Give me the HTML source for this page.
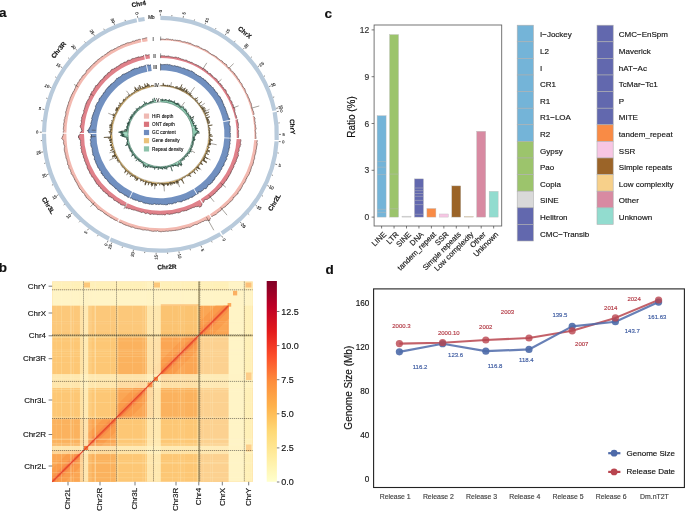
<!DOCTYPE html>
<html><head><meta charset="utf-8"><style>
html,body{margin:0;padding:0;background:#fff;width:685px;height:511px;overflow:hidden;}
svg{display:block;will-change:transform;}
text{font-family:"Liberation Sans",sans-serif;}
</style></head><body>
<svg width="685" height="511" viewBox="0 0 685 511">
<rect width="685" height="511" fill="#fff"/>
<g id="panelA">
<path d="M160.4 15.8A118.5 118.5 0 0 1 276.44 110.27L272.33 111.12A114.3 114.3 0 0 0 160.4 20Z" fill="#b8cadb"/>
<path d="M276.72 111.69A118.5 118.5 0 0 1 278.76 140.09L274.56 139.88A114.3 114.3 0 0 0 272.6 112.49Z" fill="#b8cadb"/>
<path d="M278.68 141.53A118.5 118.5 0 0 1 222.84 235.01L220.63 231.44A114.3 114.3 0 0 0 274.49 141.28Z" fill="#b8cadb"/>
<path d="M221.61 235.77A118.5 118.5 0 0 1 109.38 241.26L111.19 237.47A114.3 114.3 0 0 0 219.44 232.17Z" fill="#b8cadb"/>
<path d="M108.08 240.63A118.5 118.5 0 0 1 41.9 133.68L46.1 133.7A114.3 114.3 0 0 0 109.94 236.86Z" fill="#b8cadb"/>
<path d="M41.92 132.23A118.5 118.5 0 0 1 136.37 18.26L137.22 22.37A114.3 114.3 0 0 0 46.12 132.31Z" fill="#b8cadb"/>
<path d="M137.79 17.98A118.5 118.5 0 0 1 144.32 16.9L144.89 21.06A114.3 114.3 0 0 0 138.59 22.1Z" fill="#b8cadb"/>
<text x="160.4" y="11.1" font-size="4.2" fill="#111" text-anchor="middle" dominant-baseline="central" transform="rotate(-90 160.4 11.1)" stroke="#222" stroke-width="0.109">0</text>
<text x="184.01" y="13.38" font-size="4.2" fill="#111" text-anchor="middle" dominant-baseline="central" transform="rotate(-78.95 184.01 13.38)" stroke="#222" stroke-width="0.109">5</text>
<text x="206.75" y="20.15" font-size="4.2" fill="#111" text-anchor="middle" dominant-baseline="central" transform="rotate(-67.9 206.75 20.15)" stroke="#222" stroke-width="0.109">10</text>
<text x="227.77" y="31.15" font-size="4.2" fill="#111" text-anchor="middle" dominant-baseline="central" transform="rotate(-56.85 227.77 31.15)" stroke="#222" stroke-width="0.109">15</text>
<text x="246.29" y="45.98" font-size="4.2" fill="#111" text-anchor="middle" dominant-baseline="central" transform="rotate(-45.8 246.29 45.98)" stroke="#222" stroke-width="0.109">20</text>
<text x="261.63" y="64.08" font-size="4.2" fill="#111" text-anchor="middle" dominant-baseline="central" transform="rotate(-34.75 261.63 64.08)" stroke="#222" stroke-width="0.109">25</text>
<text x="273.21" y="84.78" font-size="4.2" fill="#111" text-anchor="middle" dominant-baseline="central" transform="rotate(-23.7 273.21 84.78)" stroke="#222" stroke-width="0.109">30</text>
<text x="280.61" y="107.32" font-size="4.2" fill="#111" text-anchor="middle" dominant-baseline="central" transform="rotate(-12.65 280.61 107.32)" stroke="#222" stroke-width="0.109">35</text>
<text x="281.34" y="110.79" font-size="4.2" fill="#111" text-anchor="middle" dominant-baseline="central" transform="rotate(-11 281.34 110.79)" stroke="#222" stroke-width="0.109">0</text>
<text x="283.6" y="134.41" font-size="4.2" fill="#111" text-anchor="middle" dominant-baseline="central" transform="rotate(0.05 283.6 134.41)" stroke="#222" stroke-width="0.109">5</text>
<text x="283.37" y="141.82" font-size="4.2" fill="#111" text-anchor="middle" dominant-baseline="central" transform="rotate(3.5 283.37 141.82)" stroke="#222" stroke-width="0.109">0</text>
<text x="279.65" y="165.25" font-size="4.2" fill="#111" text-anchor="middle" dominant-baseline="central" transform="rotate(14.55 279.65 165.25)" stroke="#222" stroke-width="0.109">5</text>
<text x="271.51" y="187.53" font-size="4.2" fill="#111" text-anchor="middle" dominant-baseline="central" transform="rotate(25.6 271.51 187.53)" stroke="#222" stroke-width="0.109">10</text>
<text x="259.24" y="207.84" font-size="4.2" fill="#111" text-anchor="middle" dominant-baseline="central" transform="rotate(36.65 259.24 207.84)" stroke="#222" stroke-width="0.109">15</text>
<text x="243.32" y="225.42" font-size="4.2" fill="#111" text-anchor="middle" dominant-baseline="central" transform="rotate(47.7 243.32 225.42)" stroke="#222" stroke-width="0.109">20</text>
<text x="224.04" y="239.79" font-size="4.2" fill="#111" text-anchor="middle" dominant-baseline="central" transform="rotate(58.9 224.04 239.79)" stroke="#222" stroke-width="0.109">0</text>
<text x="202.64" y="250.03" font-size="4.2" fill="#111" text-anchor="middle" dominant-baseline="central" transform="rotate(69.95 202.64 250.03)" stroke="#222" stroke-width="0.109">5</text>
<text x="179.67" y="255.98" font-size="4.2" fill="#111" text-anchor="middle" dominant-baseline="central" transform="rotate(81 179.67 255.98)" stroke="#222" stroke-width="0.109">10</text>
<text x="155.99" y="257.42" font-size="4.2" fill="#111" text-anchor="middle" dominant-baseline="central" transform="rotate(272.05 155.99 257.42)" stroke="#222" stroke-width="0.109">15</text>
<text x="132.48" y="254.29" font-size="4.2" fill="#111" text-anchor="middle" dominant-baseline="central" transform="rotate(283.1 132.48 254.29)" stroke="#222" stroke-width="0.109">20</text>
<text x="110" y="246.72" font-size="4.2" fill="#111" text-anchor="middle" dominant-baseline="central" transform="rotate(294.15 110 246.72)" stroke="#222" stroke-width="0.109">25</text>
<text x="106.01" y="244.84" font-size="4.2" fill="#111" text-anchor="middle" dominant-baseline="central" transform="rotate(296.2 106.01 244.84)" stroke="#222" stroke-width="0.109">0</text>
<text x="85.83" y="232.37" font-size="4.2" fill="#111" text-anchor="middle" dominant-baseline="central" transform="rotate(307.25 85.83 232.37)" stroke="#222" stroke-width="0.109">5</text>
<text x="68.41" y="216.26" font-size="4.2" fill="#111" text-anchor="middle" dominant-baseline="central" transform="rotate(318.3 68.41 216.26)" stroke="#222" stroke-width="0.109">10</text>
<text x="54.41" y="197.11" font-size="4.2" fill="#111" text-anchor="middle" dominant-baseline="central" transform="rotate(329.35 54.41 197.11)" stroke="#222" stroke-width="0.109">15</text>
<text x="44.34" y="175.63" font-size="4.2" fill="#111" text-anchor="middle" dominant-baseline="central" transform="rotate(340.4 44.34 175.63)" stroke="#222" stroke-width="0.109">20</text>
<text x="38.57" y="152.62" font-size="4.2" fill="#111" text-anchor="middle" dominant-baseline="central" transform="rotate(351.45 38.57 152.62)" stroke="#222" stroke-width="0.109">25</text>
<text x="37.22" y="132.15" font-size="4.2" fill="#111" text-anchor="middle" dominant-baseline="central" transform="rotate(361 37.22 132.15)" stroke="#222" stroke-width="0.109">0</text>
<text x="39.91" y="108.58" font-size="4.2" fill="#111" text-anchor="middle" dominant-baseline="central" transform="rotate(372.05 39.91 108.58)" stroke="#222" stroke-width="0.109">5</text>
<text x="47.08" y="85.96" font-size="4.2" fill="#111" text-anchor="middle" dominant-baseline="central" transform="rotate(383.1 47.08 85.96)" stroke="#222" stroke-width="0.109">10</text>
<text x="58.44" y="65.14" font-size="4.2" fill="#111" text-anchor="middle" dominant-baseline="central" transform="rotate(394.15 58.44 65.14)" stroke="#222" stroke-width="0.109">15</text>
<text x="73.59" y="46.88" font-size="4.2" fill="#111" text-anchor="middle" dominant-baseline="central" transform="rotate(405.2 73.59 46.88)" stroke="#222" stroke-width="0.109">20</text>
<text x="91.95" y="31.86" font-size="4.2" fill="#111" text-anchor="middle" dominant-baseline="central" transform="rotate(416.25 91.95 31.86)" stroke="#222" stroke-width="0.109">25</text>
<text x="112.86" y="20.64" font-size="4.2" fill="#111" text-anchor="middle" dominant-baseline="central" transform="rotate(427.3 112.86 20.64)" stroke="#222" stroke-width="0.109">30</text>
<text x="136.89" y="13.36" font-size="4.2" fill="#111" text-anchor="middle" dominant-baseline="central" transform="rotate(439 136.89 13.36)" stroke="#222" stroke-width="0.109">0</text>
<path d="M160.4 15.7L160.4 13.7M171.82 16.25L171.93 15.06M183.13 17.9L183.51 15.94M194.23 20.63L194.58 19.48M205.02 24.41L205.77 22.56M215.39 29.22L215.95 28.16M225.25 35L226.35 33.33M234.51 41.71L235.26 40.77M243.08 49.27L244.48 47.84M250.89 57.63L251.8 56.85M257.85 66.7L259.49 65.56M263.9 76.39L264.95 75.81M269 86.63L270.83 85.83M273.08 97.31L274.22 96.93M276.12 108.33L278.07 107.89M276.82 111.67L278.78 111.29M278.46 122.98L279.65 122.87M279 134.4L281 134.41M278.78 141.54L280.78 141.66M277.53 152.9L278.72 153.09M275.2 164.1L277.13 164.6M271.79 175.01L272.92 175.42M267.36 185.55L269.16 186.41M261.93 195.61L262.95 196.23M255.55 205.1L257.16 206.29M248.29 213.93L249.18 214.73M240.22 222.02L241.57 223.5M231.4 229.3L232.12 230.26M221.66 235.85L222.69 237.57M211.6 241.28L212.12 242.36M201.06 245.71L201.75 247.59M190.15 249.11L190.45 250.27M178.95 251.44L179.27 253.42M167.59 252.68L167.66 253.88M156.16 252.82L156.09 254.82M144.77 251.86L144.61 253.05M133.52 249.81L133.07 251.76M122.52 246.69L122.14 247.83M111.88 242.52L111.06 244.34M108.04 240.71L107.15 242.51M98.04 235.18L97.4 236.2M88.61 228.71L87.4 230.3M79.86 221.36L79.04 222.24M71.85 213.2L70.36 214.53M64.66 204.3L63.7 205.01M58.37 194.76L56.65 195.78M53.02 184.66L51.94 185.17M48.67 174.08L46.79 174.76M45.36 163.14L44.2 163.43M43.12 151.93L41.14 152.23M41.97 140.56L40.77 140.62M41.82 132.23L39.82 132.2M42.57 120.82L41.38 120.69M44.41 109.54L42.46 109.12M47.34 98.49L46.19 98.13M51.31 87.77L49.47 86.98M56.3 77.48L55.24 76.91M62.25 67.72L60.59 66.6M69.12 58.58L68.19 57.82M76.83 50.14L75.42 48.73M85.32 42.49L84.56 41.56M94.51 35.69L93.4 34.02M104.31 29.8L103.74 28.74M114.63 24.89L113.86 23.04M125.38 20.99L125.02 19.84M137.77 17.88L137.39 15.92" stroke="#333" stroke-width="0.6" fill="none"/>
<text x="244.95" y="32.28" font-size="6.4" font-weight="bold" fill="#111" text-anchor="middle" dominant-baseline="central" transform="rotate(39.65 244.95 32.28)" stroke="#111" stroke-width="0.16">ChrX</text>
<text x="292.68" y="126.67" font-size="6.4" font-weight="bold" fill="#111" text-anchor="middle" dominant-baseline="central" transform="rotate(86.7 292.68 126.67)" stroke="#111" stroke-width="0.16">ChrY</text>
<text x="274.15" y="202.24" font-size="6.4" font-weight="bold" fill="#111" text-anchor="middle" dominant-baseline="central" transform="rotate(-59.15 274.15 202.24)" stroke="#111" stroke-width="0.16">Chr2L</text>
<text x="166.87" y="266.64" font-size="6.4" font-weight="bold" fill="#111" text-anchor="middle" dominant-baseline="central" transform="rotate(-2.8 166.87 266.64)" stroke="#111" stroke-width="0.16">Chr2R</text>
<text x="48.59" y="205.39" font-size="6.4" font-weight="bold" fill="#111" text-anchor="middle" dominant-baseline="central" transform="rotate(57.55 48.59 205.39)" stroke="#111" stroke-width="0.16">Chr3L</text>
<text x="58.38" y="49.75" font-size="6.4" font-weight="bold" fill="#111" text-anchor="middle" dominant-baseline="central" transform="rotate(-50.35 58.38 49.75)" stroke="#111" stroke-width="0.16">Chr3R</text>
<text x="138.76" y="3.58" font-size="6.4" font-weight="bold" fill="#111" text-anchor="middle" dominant-baseline="central" transform="rotate(-9.4 138.76 3.58)" stroke="#111" stroke-width="0.16">Chr4</text>
<path d="M160.4 39.02L160.82 39.12L161.23 39.11L161.65 39.15L162.07 39.14L162.49 39.05L162.9 39.32L163.32 39.18L163.73 39.33L164.14 39.48L164.56 39.41L164.99 39.08L165.4 39.24L165.81 39.37L166.26 38.9L166.68 38.83L167.1 38.87L167.5 39.12L167.94 38.85L168.34 39.15L168.77 38.96L169.17 39.26L169.57 39.43L169.97 39.64L170.41 39.43L170.82 39.52L171.21 39.8L171.63 39.75L172.1 39.36L172.5 39.52L172.91 39.61L173.3 39.92L173.68 40.15L174.11 40.13L174.52 40.18L174.91 40.4L175.38 40.09L175.8 40.1L176.24 40.03L176.59 40.47L177.07 40.16L177.45 40.38L177.89 40.29L178.28 40.47L178.7 40.52L179.13 40.5L179.57 40.45L179.94 40.74L180.36 40.75L180.78 40.83L181.13 41.16L181.53 41.29L181.93 41.41L182.29 41.69L182.71 41.76L183.14 41.74L183.54 41.84L184.02 41.66L184.42 41.81L184.86 41.76L185.24 41.96L185.65 42.07L186.02 42.29L186.41 42.45L186.83 42.49L187.33 42.29L187.7 42.5L188.08 42.72L188.47 42.87L188.9 42.88L189.19 43.37L189.71 43.1L190.09 43.31L190.51 43.35L190.92 43.47L191.27 43.74L191.57 44.14L191.95 44.32L192.37 44.4L192.66 44.83L193.04 45L193.5 44.96L193.84 45.23L194.21 45.43L194.63 45.51L195.07 45.52L195.39 45.85L195.81 45.93L196.32 45.78L196.7 45.95L197.07 46.15L197.54 46.11L198.01 46.08L198.38 46.27L198.67 46.66L199.01 46.93L199.4 47.09L199.77 47.28L200.14 47.47L200.46 47.78L200.8 48.05L201.08 48.42L201.62 48.25L202.01 48.41L202.29 48.79L202.64 49.02L203.11 49.01L203.38 49.41L203.86 49.39L204.28 49.49L204.72 49.54L205.15 49.64L205.54 49.79L205.72 50.34L206.17 50.39L206.49 50.67L206.94 50.72L207.3 50.94L207.77 50.96L207.99 51.41L208.24 51.82L208.62 52.01L208.84 52.44L209.21 52.64L209.53 52.92L209.93 53.06L210.22 53.38L210.58 53.59L210.96 53.78L211.21 54.16L211.53 54.42L212.01 54.44L212.2 54.92L212.81 54.75L213.22 54.88L213.46 55.27L213.94 55.31L214.36 55.44L214.56 55.89L214.83 56.22L215.32 56.26L215.66 56.5L216.1 56.6L216.46 56.82L216.86 56.98L217.05 57.43L217.27 57.84L217.51 58.21L217.98 58.29L218.28 58.58L218.6 58.85L218.95 59.08L219.28 59.33L219.5 59.73L219.95 59.83L220.22 60.16L220.62 60.33L220.97 60.56L221.46 60.63L221.81 60.86L222.19 61.06L222.44 61.42L222.48 62.02L222.95 62.1L223.22 62.43L223.59 62.64L223.9 62.92L224.26 63.16L224.44 63.58L225 63.58L225.21 63.97L225.58 64.19L226.06 64.29L226.47 64.48L226.48 65.08L226.84 65.31L227.09 65.64L227.1 66.24L227.21 66.72L227.54 66.98L227.83 67.28L228.22 67.48L228.68 67.61L229.08 67.81L229.38 68.1L229.85 68.22L230.23 68.45L230.51 68.77L230.63 69.23L230.81 69.63L230.76 70.24L230.88 70.69L231.27 70.9L231.82 70.97L232.25 71.15L232.59 71.41L232.87 71.72L233.24 71.95L233.3 72.45L233.53 72.81L233.81 73.12L234.32 73.24L234.38 73.73L234.96 73.81L235.09 74.24L235.07 74.79L235.34 75.11L235.71 75.35L236.13 75.55L236.3 75.96L236.41 76.4L236.8 76.63L237.24 76.82L237.08 77.47L237.36 77.78L237.42 78.25L237.76 78.52L238.15 78.76L238.15 79.27L238.77 79.34L239.14 79.6L239.42 79.91L239.49 80.38L239.69 80.75L239.93 81.09L239.79 81.69L239.97 82.07L240.27 82.37L240.63 82.63L241.06 82.85L241.36 83.16L241.51 83.56L241.84 83.85L241.96 84.27L242.15 84.64L242.08 85.18L242.34 85.5L242.52 85.89L242.52 86.37L243.02 86.56L243.12 86.98L243.57 87.21L243.53 87.71L243.81 88.03L244.06 88.37L244.67 88.52L244.6 89.03L244.89 89.35L245.12 89.71L245.25 90.11L245.27 90.57L245.36 91L245.64 91.32L245.56 91.83L245.8 92.17L245.85 92.61L246.08 92.97L246.35 93.3L246.58 93.65L246.98 93.93L247.2 94.28L247.45 94.63L247.63 95.01L247.76 95.41L247.89 95.81L248.13 96.16L248.09 96.63L248.23 97.03L248.17 97.51L248.67 97.75L248.74 98.18L249.15 98.46L249.46 98.79L249.4 99.27L249.5 99.67L249.92 99.96L249.74 100.48L249.93 100.85L250.04 101.26L250.14 101.67L250.42 102.01L250.77 102.33L250.68 102.81L251.07 103.12L251.21 103.51L251.37 103.91L251.33 104.36L251.46 104.76L251.57 105.16L251.47 105.63L251.79 105.97L251.74 106.43L251.5 106.94L251.66 107.32L251.79 107.72L251.89 108.12L252.01 108.52L252.39 108.85L252.44 109.27L252.83 109.6L252.85 110.03L252.81 110.47L252.91 110.87L253.37 111.19L253.43 111.61L253.57 112.01L253.63 112.42L253.6 112.86L253.74 113.26L253.97 113.64L253.8 114.1L253.86 114.52L254.09 114.9L252.45 115.24A94 94 0 0 0 160.4 40.3Z" fill="#f3b9b0"/><path d="M160.4 39.02L160.82 39.12L161.23 39.11L161.65 39.15L162.07 39.14L162.49 39.05L162.9 39.32L163.32 39.18L163.73 39.33L164.14 39.48L164.56 39.41L164.99 39.08L165.4 39.24L165.81 39.37L166.26 38.9L166.68 38.83L167.1 38.87L167.5 39.12L167.94 38.85L168.34 39.15L168.77 38.96L169.17 39.26L169.57 39.43L169.97 39.64L170.41 39.43L170.82 39.52L171.21 39.8L171.63 39.75L172.1 39.36L172.5 39.52L172.91 39.61L173.3 39.92L173.68 40.15L174.11 40.13L174.52 40.18L174.91 40.4L175.38 40.09L175.8 40.1L176.24 40.03L176.59 40.47L177.07 40.16L177.45 40.38L177.89 40.29L178.28 40.47L178.7 40.52L179.13 40.5L179.57 40.45L179.94 40.74L180.36 40.75L180.78 40.83L181.13 41.16L181.53 41.29L181.93 41.41L182.29 41.69L182.71 41.76L183.14 41.74L183.54 41.84L184.02 41.66L184.42 41.81L184.86 41.76L185.24 41.96L185.65 42.07L186.02 42.29L186.41 42.45L186.83 42.49L187.33 42.29L187.7 42.5L188.08 42.72L188.47 42.87L188.9 42.88L189.19 43.37L189.71 43.1L190.09 43.31L190.51 43.35L190.92 43.47L191.27 43.74L191.57 44.14L191.95 44.32L192.37 44.4L192.66 44.83L193.04 45L193.5 44.96L193.84 45.23L194.21 45.43L194.63 45.51L195.07 45.52L195.39 45.85L195.81 45.93L196.32 45.78L196.7 45.95L197.07 46.15L197.54 46.11L198.01 46.08L198.38 46.27L198.67 46.66L199.01 46.93L199.4 47.09L199.77 47.28L200.14 47.47L200.46 47.78L200.8 48.05L201.08 48.42L201.62 48.25L202.01 48.41L202.29 48.79L202.64 49.02L203.11 49.01L203.38 49.41L203.86 49.39L204.28 49.49L204.72 49.54L205.15 49.64L205.54 49.79L205.72 50.34L206.17 50.39L206.49 50.67L206.94 50.72L207.3 50.94L207.77 50.96L207.99 51.41L208.24 51.82L208.62 52.01L208.84 52.44L209.21 52.64L209.53 52.92L209.93 53.06L210.22 53.38L210.58 53.59L210.96 53.78L211.21 54.16L211.53 54.42L212.01 54.44L212.2 54.92L212.81 54.75L213.22 54.88L213.46 55.27L213.94 55.31L214.36 55.44L214.56 55.89L214.83 56.22L215.32 56.26L215.66 56.5L216.1 56.6L216.46 56.82L216.86 56.98L217.05 57.43L217.27 57.84L217.51 58.21L217.98 58.29L218.28 58.58L218.6 58.85L218.95 59.08L219.28 59.33L219.5 59.73L219.95 59.83L220.22 60.16L220.62 60.33L220.97 60.56L221.46 60.63L221.81 60.86L222.19 61.06L222.44 61.42L222.48 62.02L222.95 62.1L223.22 62.43L223.59 62.64L223.9 62.92L224.26 63.16L224.44 63.58L225 63.58L225.21 63.97L225.58 64.19L226.06 64.29L226.47 64.48L226.48 65.08L226.84 65.31L227.09 65.64L227.1 66.24L227.21 66.72L227.54 66.98L227.83 67.28L228.22 67.48L228.68 67.61L229.08 67.81L229.38 68.1L229.85 68.22L230.23 68.45L230.51 68.77L230.63 69.23L230.81 69.63L230.76 70.24L230.88 70.69L231.27 70.9L231.82 70.97L232.25 71.15L232.59 71.41L232.87 71.72L233.24 71.95L233.3 72.45L233.53 72.81L233.81 73.12L234.32 73.24L234.38 73.73L234.96 73.81L235.09 74.24L235.07 74.79L235.34 75.11L235.71 75.35L236.13 75.55L236.3 75.96L236.41 76.4L236.8 76.63L237.24 76.82L237.08 77.47L237.36 77.78L237.42 78.25L237.76 78.52L238.15 78.76L238.15 79.27L238.77 79.34L239.14 79.6L239.42 79.91L239.49 80.38L239.69 80.75L239.93 81.09L239.79 81.69L239.97 82.07L240.27 82.37L240.63 82.63L241.06 82.85L241.36 83.16L241.51 83.56L241.84 83.85L241.96 84.27L242.15 84.64L242.08 85.18L242.34 85.5L242.52 85.89L242.52 86.37L243.02 86.56L243.12 86.98L243.57 87.21L243.53 87.71L243.81 88.03L244.06 88.37L244.67 88.52L244.6 89.03L244.89 89.35L245.12 89.71L245.25 90.11L245.27 90.57L245.36 91L245.64 91.32L245.56 91.83L245.8 92.17L245.85 92.61L246.08 92.97L246.35 93.3L246.58 93.65L246.98 93.93L247.2 94.28L247.45 94.63L247.63 95.01L247.76 95.41L247.89 95.81L248.13 96.16L248.09 96.63L248.23 97.03L248.17 97.51L248.67 97.75L248.74 98.18L249.15 98.46L249.46 98.79L249.4 99.27L249.5 99.67L249.92 99.96L249.74 100.48L249.93 100.85L250.04 101.26L250.14 101.67L250.42 102.01L250.77 102.33L250.68 102.81L251.07 103.12L251.21 103.51L251.37 103.91L251.33 104.36L251.46 104.76L251.57 105.16L251.47 105.63L251.79 105.97L251.74 106.43L251.5 106.94L251.66 107.32L251.79 107.72L251.89 108.12L252.01 108.52L252.39 108.85L252.44 109.27L252.83 109.6L252.85 110.03L252.81 110.47L252.91 110.87L253.37 111.19L253.43 111.61L253.57 112.01L253.63 112.42L253.6 112.86L253.74 113.26L253.97 113.64L253.8 114.1L253.86 114.52L254.09 114.9" fill="none" stroke="#3d2624" stroke-width="0.55" stroke-linejoin="round"/>
<path d="M253.57 116.19L253.94 116.55L254.14 116.95L254.55 117.3L254.45 117.75L255.02 118.09L255.01 118.53L254.72 119L254.66 119.45L254.93 119.84L254.92 120.27L254.58 120.75L254.68 121.16L255 121.55L255.06 121.97L255.24 122.37L255.24 122.8L255.02 123.26L255.01 123.69L255.09 124.11L255.25 124.52L255.49 124.92L255.47 125.35L255.71 125.76L255.46 126.21L255.6 126.62L255.63 127.05L255.76 127.46L255.92 127.88L256.1 128.3L256.02 128.73L255.9 129.17L255.6 129.61L255.42 130.04L255.23 130.47L255.53 130.89L255.47 131.31L255.49 131.74L255.59 132.16L255.72 132.58L256.13 133L255.91 133.43L255.8 133.86L255.62 134.28L255.71 134.71L255.82 135.13L255.66 135.56L255.77 135.98L255.75 136.41L255.99 136.84L255.99 137.27L255.96 137.69L255.86 138.12L255.88 138.54L255.85 138.97L254.29 138.89A94 94 0 0 0 252.67 116.36Z" fill="#f3b9b0"/><path d="M253.57 116.19L253.94 116.55L254.14 116.95L254.55 117.3L254.45 117.75L255.02 118.09L255.01 118.53L254.72 119L254.66 119.45L254.93 119.84L254.92 120.27L254.58 120.75L254.68 121.16L255 121.55L255.06 121.97L255.24 122.37L255.24 122.8L255.02 123.26L255.01 123.69L255.09 124.11L255.25 124.52L255.49 124.92L255.47 125.35L255.71 125.76L255.46 126.21L255.6 126.62L255.63 127.05L255.76 127.46L255.92 127.88L256.1 128.3L256.02 128.73L255.9 129.17L255.6 129.61L255.42 130.04L255.23 130.47L255.53 130.89L255.47 131.31L255.49 131.74L255.59 132.16L255.72 132.58L256.13 133L255.91 133.43L255.8 133.86L255.62 134.28L255.71 134.71L255.82 135.13L255.66 135.56L255.77 135.98L255.75 136.41L255.99 136.84L255.99 137.27L255.96 137.69L255.86 138.12L255.88 138.54L255.85 138.97" fill="none" stroke="#3d2624" stroke-width="0.55" stroke-linejoin="round"/>
<path d="M257.51 140.24L257.2 140.65L257.05 141.07L257.21 141.5L256.99 141.92L256.91 142.34L256.7 142.75L256.87 143.19L257.31 143.66L257.4 144.1L257.12 144.5L257.12 144.93L257.04 145.35L256.81 145.76L256.67 146.17L256.76 146.61L256.92 147.06L256.48 147.44L256.73 147.9L256.55 148.31L256.44 148.72L255.97 149.08L256.27 149.56L256.09 149.97L256.04 150.39L255.79 150.78L256.26 151.3L255.69 151.63L255.89 152.1L255.74 152.5L255.54 152.9L255.58 153.34L255.51 153.77L255.26 154.15L255.27 154.59L255.19 155.01L254.95 155.39L254.71 155.77L254.67 156.2L254.61 156.62L254.77 157.1L254.55 157.49L254.58 157.93L254.62 158.39L254.46 158.79L254.16 159.15L254.21 159.6L254 159.99L253.81 160.38L253.63 160.77L253.65 161.22L253.45 161.61L253.41 162.04L253.48 162.51L253.49 162.96L252.95 163.24L253.28 163.79L252.84 164.1L252.88 164.56L252.68 164.95L252.63 165.38L252.22 165.69L252.12 166.11L251.93 166.5L251.52 166.8L251.51 167.25L251.29 167.63L251.16 168.03L251.24 168.52L251.08 168.91L250.71 169.23L250.91 169.77L250.69 170.14L250.66 170.59L250.49 170.98L250.41 171.41L250.14 171.76L250.03 172.18L249.55 172.44L249.73 172.98L249.54 173.37L249.36 173.75L248.98 174.05L249.02 174.54L248.76 174.89L248.36 175.18L248.32 175.63L248.15 176.02L247.89 176.37L247.43 176.62L247.29 177.03L247.12 177.42L246.99 177.83L246.57 178.1L246.6 178.59L246.48 179.01L245.86 179.16L245.86 179.65L246 180.21L245.7 180.53L245.55 180.93L245.24 181.25L245.35 181.8L245.12 182.16L244.81 182.48L244.49 182.79L244.35 183.2L243.89 183.43L243.48 183.67L243.32 184.08L243.24 184.53L242.92 184.83L242.63 185.15L242.56 185.61L242.47 186.06L242.28 186.44L242.14 186.86L241.98 187.27L241.64 187.55L241.44 187.93L241.26 188.33L241.05 188.7L240.84 189.08L240.63 189.45L240.05 189.57L240.04 190.08L240.04 190.61L239.59 190.81L239.29 191.12L238.89 191.36L238.59 191.67L238.4 192.07L238.19 192.44L238.21 192.99L238.04 193.4L238.01 193.92L237.4 193.99L237.02 194.23L236.69 194.52L236.46 194.88L236.21 195.23L235.85 195.49L235.61 195.85L235.21 196.07L234.93 196.4L234.7 196.75L234.37 197.04L234.11 197.38L233.55 197.46L233.17 197.69L233.3 198.37L232.99 198.66L232.91 199.16L232.67 199.53L232.5 199.95L232.21 200.27L231.9 200.57L231.6 200.88L231.23 201.11L230.75 201.25L230.43 201.53L229.98 201.69L229.72 202.03L229.69 202.6L229.39 202.91L229.09 203.21L228.71 203.44L228.43 203.76L228.04 203.97L227.61 204.14L227.52 204.67L227.22 204.98L226.71 205.06L226.46 205.41L226.28 205.84L225.88 206.05L225.56 206.32L225.4 206.78L224.96 206.93L224.57 207.14L224 207.14L223.69 207.43L223.4 207.75L222.94 207.86L222.67 208.2L222.49 208.65L222.07 208.81L221.86 209.22L221.5 209.45L221.21 209.78L220.99 210.18L220.73 210.54L220.49 210.93L219.98 210.98L219.67 211.27L219.23 211.4L218.98 211.77L218.66 212.05L218.24 212.21L217.83 212.37L217.57 212.75L217.39 213.23L217.06 213.5L216.74 213.78L216.39 214.03L216.08 214.34L215.77 214.65L215.32 214.75L214.97 215L214.51 215.08L214.03 215.13L213.78 215.52L213.31 215.59L213.03 215.93L212.71 216.24L212.18 216.2L211.77 216.34L211.57 216.82L209.93 214.19A94 94 0 0 0 254.22 140.04Z" fill="#f3b9b0"/><path d="M257.51 140.24L257.2 140.65L257.05 141.07L257.21 141.5L256.99 141.92L256.91 142.34L256.7 142.75L256.87 143.19L257.31 143.66L257.4 144.1L257.12 144.5L257.12 144.93L257.04 145.35L256.81 145.76L256.67 146.17L256.76 146.61L256.92 147.06L256.48 147.44L256.73 147.9L256.55 148.31L256.44 148.72L255.97 149.08L256.27 149.56L256.09 149.97L256.04 150.39L255.79 150.78L256.26 151.3L255.69 151.63L255.89 152.1L255.74 152.5L255.54 152.9L255.58 153.34L255.51 153.77L255.26 154.15L255.27 154.59L255.19 155.01L254.95 155.39L254.71 155.77L254.67 156.2L254.61 156.62L254.77 157.1L254.55 157.49L254.58 157.93L254.62 158.39L254.46 158.79L254.16 159.15L254.21 159.6L254 159.99L253.81 160.38L253.63 160.77L253.65 161.22L253.45 161.61L253.41 162.04L253.48 162.51L253.49 162.96L252.95 163.24L253.28 163.79L252.84 164.1L252.88 164.56L252.68 164.95L252.63 165.38L252.22 165.69L252.12 166.11L251.93 166.5L251.52 166.8L251.51 167.25L251.29 167.63L251.16 168.03L251.24 168.52L251.08 168.91L250.71 169.23L250.91 169.77L250.69 170.14L250.66 170.59L250.49 170.98L250.41 171.41L250.14 171.76L250.03 172.18L249.55 172.44L249.73 172.98L249.54 173.37L249.36 173.75L248.98 174.05L249.02 174.54L248.76 174.89L248.36 175.18L248.32 175.63L248.15 176.02L247.89 176.37L247.43 176.62L247.29 177.03L247.12 177.42L246.99 177.83L246.57 178.1L246.6 178.59L246.48 179.01L245.86 179.16L245.86 179.65L246 180.21L245.7 180.53L245.55 180.93L245.24 181.25L245.35 181.8L245.12 182.16L244.81 182.48L244.49 182.79L244.35 183.2L243.89 183.43L243.48 183.67L243.32 184.08L243.24 184.53L242.92 184.83L242.63 185.15L242.56 185.61L242.47 186.06L242.28 186.44L242.14 186.86L241.98 187.27L241.64 187.55L241.44 187.93L241.26 188.33L241.05 188.7L240.84 189.08L240.63 189.45L240.05 189.57L240.04 190.08L240.04 190.61L239.59 190.81L239.29 191.12L238.89 191.36L238.59 191.67L238.4 192.07L238.19 192.44L238.21 192.99L238.04 193.4L238.01 193.92L237.4 193.99L237.02 194.23L236.69 194.52L236.46 194.88L236.21 195.23L235.85 195.49L235.61 195.85L235.21 196.07L234.93 196.4L234.7 196.75L234.37 197.04L234.11 197.38L233.55 197.46L233.17 197.69L233.3 198.37L232.99 198.66L232.91 199.16L232.67 199.53L232.5 199.95L232.21 200.27L231.9 200.57L231.6 200.88L231.23 201.11L230.75 201.25L230.43 201.53L229.98 201.69L229.72 202.03L229.69 202.6L229.39 202.91L229.09 203.21L228.71 203.44L228.43 203.76L228.04 203.97L227.61 204.14L227.52 204.67L227.22 204.98L226.71 205.06L226.46 205.41L226.28 205.84L225.88 206.05L225.56 206.32L225.4 206.78L224.96 206.93L224.57 207.14L224 207.14L223.69 207.43L223.4 207.75L222.94 207.86L222.67 208.2L222.49 208.65L222.07 208.81L221.86 209.22L221.5 209.45L221.21 209.78L220.99 210.18L220.73 210.54L220.49 210.93L219.98 210.98L219.67 211.27L219.23 211.4L218.98 211.77L218.66 212.05L218.24 212.21L217.83 212.37L217.57 212.75L217.39 213.23L217.06 213.5L216.74 213.78L216.39 214.03L216.08 214.34L215.77 214.65L215.32 214.75L214.97 215L214.51 215.08L214.03 215.13L213.78 215.52L213.31 215.59L213.03 215.93L212.71 216.24L212.18 216.2L211.77 216.34L211.57 216.82" fill="none" stroke="#3d2624" stroke-width="0.55" stroke-linejoin="round"/>
<path d="M210.87 217.97L210.55 218.27L210.17 218.46L209.98 218.99L209.78 219.51L209.81 220.43L209.25 220.32L209.04 220.84L208.23 220.28L207.75 220.29L207.24 220.26L206.91 220.55L206.34 220.4L205.92 220.54L205.32 220.31L204.95 220.51L204.5 220.58L204.15 220.82L203.87 221.21L203.5 221.44L202.99 221.36L202.61 221.55L202.08 221.42L201.81 221.85L201.46 222.11L201.15 222.44L200.78 222.66L200.29 222.62L199.85 222.68L199.49 222.91L199.19 223.29L198.76 223.36L198.39 223.59L198.08 223.94L197.75 224.25L197.3 224.29L196.95 224.57L196.47 224.52L196.09 224.7L195.55 224.5L195.01 224.28L194.67 224.59L194.33 224.88L193.95 225.07L193.6 225.36L193.17 225.42L192.78 225.6L192.47 225.98L192 225.95L191.67 226.29L191.34 226.66L190.94 226.81L190.54 226.97L190.21 227.31L189.73 227.23L189.33 227.39L188.79 227.07L188.43 227.35L188.01 227.44L187.54 227.36L187.22 227.78L186.71 227.55L186.35 227.85L185.87 227.7L185.54 228.13L185.14 228.28L184.76 228.5L184.29 228.38L183.92 228.66L183.47 228.65L182.98 228.4L182.54 228.42L182.2 228.81L181.76 228.79L181.45 229.36L180.97 229.16L180.58 229.39L180.13 229.32L179.75 229.59L179.32 229.62L178.88 229.6L178.5 229.86L178.03 229.69L177.66 230.03L177.24 230.12L176.8 230.07L176.35 229.99L176.02 230.59L175.54 230.27L175.15 230.54L174.71 230.49L174.27 230.46L173.85 230.56L173.43 230.57L173.01 230.68L172.56 230.55L172.18 230.96L171.72 230.69L171.33 230.99L170.88 230.8L170.46 230.95L170.04 231.03L169.6 230.85L169.17 230.86L168.75 230.99L168.35 231.28L167.91 231.14L167.5 231.35L167.05 231L166.62 231.05L166.21 231.24L165.78 231.16L165.36 231.29L164.93 231.21L164.52 231.69L164.08 231.24L163.66 231.42L163.23 231.56L162.8 231.53L162.37 231.34L161.95 231.45L161.53 231.71L161.1 231.87L160.67 231.65L160.24 231.71L159.82 231.42L159.39 231.53L158.96 231.42L158.54 231.35L158.11 231.28L157.7 230.88L157.28 230.74L156.85 230.99L156.41 231.31L155.98 231.34L155.56 231.09L155.13 231.33L154.71 231.05L154.27 231.28L153.84 231.38L153.42 231.26L152.97 231.57L152.56 231.36L152.16 230.94L151.72 231.07L151.3 231.04L150.89 230.84L150.46 230.8L150.05 230.63L149.62 230.69L149.22 230.47L148.82 230.18L148.38 230.29L147.97 230.14L147.54 230.15L147.12 230.11L146.68 230.21L146.26 230.12L145.87 229.84L145.42 230L144.99 229.99L144.57 229.91L144.16 229.78L143.69 230.03L143.28 229.87L142.89 229.67L142.41 229.91L142.02 229.65L141.63 229.42L141.17 229.55L140.8 229.26L140.37 229.22L139.94 229.17L139.56 228.92L139.15 228.83L138.72 228.78L138.21 229.09L137.89 228.62L137.43 228.68L137 228.64L136.6 228.48L136.21 228.3L135.77 228.29L135.3 228.4L134.91 228.22L134.53 227.98L134.12 227.85L133.77 227.53L133.38 227.35L132.98 227.21L132.57 227.09L132.08 227.22L131.64 227.23L131.19 227.23L130.91 226.7L130.39 226.9L130.04 226.61L129.65 226.44L129.26 226.26L128.8 226.28L128.46 225.95L127.96 226.11L127.63 225.76L127.25 225.55L126.87 225.36L126.38 225.43L125.99 225.26L125.59 225.12L125.12 225.14L124.88 224.58L124.44 224.54L124.1 224.23L123.66 224.2L123.19 224.21L122.8 224.04L122.55 223.53L122.2 223.28L121.75 223.24L121.39 223L121.14 222.52L120.6 222.68L120.14 222.67L119.83 222.31L119.44 222.15L118.93 222.24L118.65 221.83L119.93 219.14A94 94 0 0 0 208.95 214.79Z" fill="#f3b9b0"/><path d="M210.87 217.97L210.55 218.27L210.17 218.46L209.98 218.99L209.78 219.51L209.81 220.43L209.25 220.32L209.04 220.84L208.23 220.28L207.75 220.29L207.24 220.26L206.91 220.55L206.34 220.4L205.92 220.54L205.32 220.31L204.95 220.51L204.5 220.58L204.15 220.82L203.87 221.21L203.5 221.44L202.99 221.36L202.61 221.55L202.08 221.42L201.81 221.85L201.46 222.11L201.15 222.44L200.78 222.66L200.29 222.62L199.85 222.68L199.49 222.91L199.19 223.29L198.76 223.36L198.39 223.59L198.08 223.94L197.75 224.25L197.3 224.29L196.95 224.57L196.47 224.52L196.09 224.7L195.55 224.5L195.01 224.28L194.67 224.59L194.33 224.88L193.95 225.07L193.6 225.36L193.17 225.42L192.78 225.6L192.47 225.98L192 225.95L191.67 226.29L191.34 226.66L190.94 226.81L190.54 226.97L190.21 227.31L189.73 227.23L189.33 227.39L188.79 227.07L188.43 227.35L188.01 227.44L187.54 227.36L187.22 227.78L186.71 227.55L186.35 227.85L185.87 227.7L185.54 228.13L185.14 228.28L184.76 228.5L184.29 228.38L183.92 228.66L183.47 228.65L182.98 228.4L182.54 228.42L182.2 228.81L181.76 228.79L181.45 229.36L180.97 229.16L180.58 229.39L180.13 229.32L179.75 229.59L179.32 229.62L178.88 229.6L178.5 229.86L178.03 229.69L177.66 230.03L177.24 230.12L176.8 230.07L176.35 229.99L176.02 230.59L175.54 230.27L175.15 230.54L174.71 230.49L174.27 230.46L173.85 230.56L173.43 230.57L173.01 230.68L172.56 230.55L172.18 230.96L171.72 230.69L171.33 230.99L170.88 230.8L170.46 230.95L170.04 231.03L169.6 230.85L169.17 230.86L168.75 230.99L168.35 231.28L167.91 231.14L167.5 231.35L167.05 231L166.62 231.05L166.21 231.24L165.78 231.16L165.36 231.29L164.93 231.21L164.52 231.69L164.08 231.24L163.66 231.42L163.23 231.56L162.8 231.53L162.37 231.34L161.95 231.45L161.53 231.71L161.1 231.87L160.67 231.65L160.24 231.71L159.82 231.42L159.39 231.53L158.96 231.42L158.54 231.35L158.11 231.28L157.7 230.88L157.28 230.74L156.85 230.99L156.41 231.31L155.98 231.34L155.56 231.09L155.13 231.33L154.71 231.05L154.27 231.28L153.84 231.38L153.42 231.26L152.97 231.57L152.56 231.36L152.16 230.94L151.72 231.07L151.3 231.04L150.89 230.84L150.46 230.8L150.05 230.63L149.62 230.69L149.22 230.47L148.82 230.18L148.38 230.29L147.97 230.14L147.54 230.15L147.12 230.11L146.68 230.21L146.26 230.12L145.87 229.84L145.42 230L144.99 229.99L144.57 229.91L144.16 229.78L143.69 230.03L143.28 229.87L142.89 229.67L142.41 229.91L142.02 229.65L141.63 229.42L141.17 229.55L140.8 229.26L140.37 229.22L139.94 229.17L139.56 228.92L139.15 228.83L138.72 228.78L138.21 229.09L137.89 228.62L137.43 228.68L137 228.64L136.6 228.48L136.21 228.3L135.77 228.29L135.3 228.4L134.91 228.22L134.53 227.98L134.12 227.85L133.77 227.53L133.38 227.35L132.98 227.21L132.57 227.09L132.08 227.22L131.64 227.23L131.19 227.23L130.91 226.7L130.39 226.9L130.04 226.61L129.65 226.44L129.26 226.26L128.8 226.28L128.46 225.95L127.96 226.11L127.63 225.76L127.25 225.55L126.87 225.36L126.38 225.43L125.99 225.26L125.59 225.12L125.12 225.14L124.88 224.58L124.44 224.54L124.1 224.23L123.66 224.2L123.19 224.21L122.8 224.04L122.55 223.53L122.2 223.28L121.75 223.24L121.39 223L121.14 222.52L120.6 222.68L120.14 222.67L119.83 222.31L119.44 222.15L118.93 222.24L118.65 221.83" fill="none" stroke="#3d2624" stroke-width="0.55" stroke-linejoin="round"/>
<path d="M117.49 221.51L117.18 221.18L116.89 220.79L116.55 220.54L116.26 220.16L115.69 220.34L115.24 220.29L114.83 220.15L114.6 219.68L114.13 219.65L113.84 219.29L113.38 219.25L113.16 218.77L112.75 218.63L112.46 218.28L111.93 218.35L111.53 218.2L111.35 217.66L110.86 217.65L110.35 217.67L110.08 217.29L109.88 216.81L109.48 216.64L109.16 216.37L108.76 216.19L108.34 216.07L107.86 216.03L107.6 215.65L107.23 215.44L106.83 215.26L106.5 214.99L106.32 214.51L105.79 214.52L105.52 214.16L105.33 213.7L104.79 213.73L104.44 213.48L104.23 213.04L103.79 212.93L103.56 212.52L103.15 212.36L102.82 212.09L102.59 211.7L102.31 211.37L101.82 211.31L101.5 211.03L101 210.98L100.68 210.7L100.22 210.59L99.91 210.29L99.68 209.9L99.32 209.68L99.01 209.38L98.39 209.47L97.9 209.38L97.71 208.94L97.43 208.61L97.21 208.21L96.9 207.91L96.75 207.44L96.37 207.23L96.19 206.79L95.88 206.5L95.67 206.1L95.07 206.13L94.93 205.65L94.5 205.49L94.15 205.24L93.78 205.02L93.55 204.63L93.47 204.1L93.01 203.97L92.77 203.61L92.52 203.25L91.98 203.19L91.6 202.97L91.43 202.54L91.14 202.23L90.9 201.87L90.68 201.49L90.41 201.17L90.15 200.82L89.71 200.65L89.43 200.33L89.07 200.09L88.65 199.89L88.36 199.58L88.04 199.3L87.89 198.86L87.6 198.55L87.21 198.32L86.79 198.12L86.63 197.69L86.15 197.54L85.99 197.11L85.92 196.62L85.64 196.29L85.54 195.83L84.92 195.78L84.87 195.27L84.71 194.86L84.57 194.43L84.36 194.05L84.19 193.65L83.9 193.34L83.55 193.07L83.05 192.91L82.72 192.63L82.33 192.39L82.14 192L82.08 191.51L81.65 191.3L81.56 190.84L81.36 190.46L81.03 190.17L80.67 189.9L80.52 189.49L80.03 189.31L79.69 189.02L79.51 188.63L79.42 188.18L79.24 187.78L78.86 187.52L78.67 187.13L78.53 186.72L78.42 186.28L78.06 186.01L77.94 185.58L77.85 185.13L77.58 184.8L77.33 184.45L77.12 184.08L77.21 183.54L76.76 183.31L76.68 182.86L76.4 182.53L76.29 182.1L75.8 181.9L75.66 181.49L75.35 181.17L75.39 180.67L75.09 180.34L75.08 179.87L74.5 179.69L74.74 179.08L74.47 178.75L74.05 178.49L73.92 178.07L73.76 177.68L73.61 177.28L73.37 176.93L73.17 176.55L72.88 176.21L73.04 175.67L72.75 175.34L72.2 175.13L71.98 174.75L71.75 174.39L71.5 174.04L71.33 173.64L70.91 173.36L71.09 172.82L71.11 172.34L70.8 172.01L70.64 171.62L70.74 171.11L70.76 170.65L70.37 170.35L70.31 169.91L70.03 169.57L69.7 169.24L69.39 168.9L69.07 168.56L69.17 168.07L69.06 167.65L68.64 167.35L68.9 166.81L68.71 166.42L68.77 165.95L68.68 165.53L68.46 165.16L68.01 164.86L67.49 164.58L67.78 164.04L67.57 163.65L67.59 163.2L67.61 162.75L67.54 162.33L67.4 161.92L67.27 161.52L67.28 161.07L67.09 160.68L66.86 160.31L66.85 159.87L66.98 159.39L66.46 159.09L66.33 158.68L66.14 158.29L66.02 157.88L65.9 157.47L65.85 157.04L65.81 156.62L65.84 156.17L65.69 155.77L65.65 155.34L65.51 154.94L65.26 154.55L65.23 154.12L65.25 153.68L65 153.3L64.85 152.89L64.92 152.44L64.88 152.02L64.62 151.63L64.57 151.21L64.49 150.79L64.29 150.39L64.18 149.97L64.29 149.52L64.26 149.1L64.21 148.67L64.5 148.2L64.35 147.79L64.51 147.34L64.53 146.91L64.72 146.46L64.47 146.06L64.42 145.64L64.26 145.23L64.21 144.81L63.73 144.43L63.63 144.01L63.6 143.59L63.62 143.16L63.35 142.75L63.62 142.3L63.64 141.87L63.73 141.44L63.9 141L63.51 140.6L63.28 140.19L63.07 139.77L62.8 139.36L62.01 138.97L61.67 138.55L61.86 138.11L62.12 137.67L61.91 137.24L62.54 136.79L62.67 136.36L62.66 135.93L63.1 135.5L62.92 135.07L63.15 134.64L63.46 134.22L63.36 133.79L66.4 133.81A94 94 0 0 0 118.9 218.64Z" fill="#f3b9b0"/><path d="M117.49 221.51L117.18 221.18L116.89 220.79L116.55 220.54L116.26 220.16L115.69 220.34L115.24 220.29L114.83 220.15L114.6 219.68L114.13 219.65L113.84 219.29L113.38 219.25L113.16 218.77L112.75 218.63L112.46 218.28L111.93 218.35L111.53 218.2L111.35 217.66L110.86 217.65L110.35 217.67L110.08 217.29L109.88 216.81L109.48 216.64L109.16 216.37L108.76 216.19L108.34 216.07L107.86 216.03L107.6 215.65L107.23 215.44L106.83 215.26L106.5 214.99L106.32 214.51L105.79 214.52L105.52 214.16L105.33 213.7L104.79 213.73L104.44 213.48L104.23 213.04L103.79 212.93L103.56 212.52L103.15 212.36L102.82 212.09L102.59 211.7L102.31 211.37L101.82 211.31L101.5 211.03L101 210.98L100.68 210.7L100.22 210.59L99.91 210.29L99.68 209.9L99.32 209.68L99.01 209.38L98.39 209.47L97.9 209.38L97.71 208.94L97.43 208.61L97.21 208.21L96.9 207.91L96.75 207.44L96.37 207.23L96.19 206.79L95.88 206.5L95.67 206.1L95.07 206.13L94.93 205.65L94.5 205.49L94.15 205.24L93.78 205.02L93.55 204.63L93.47 204.1L93.01 203.97L92.77 203.61L92.52 203.25L91.98 203.19L91.6 202.97L91.43 202.54L91.14 202.23L90.9 201.87L90.68 201.49L90.41 201.17L90.15 200.82L89.71 200.65L89.43 200.33L89.07 200.09L88.65 199.89L88.36 199.58L88.04 199.3L87.89 198.86L87.6 198.55L87.21 198.32L86.79 198.12L86.63 197.69L86.15 197.54L85.99 197.11L85.92 196.62L85.64 196.29L85.54 195.83L84.92 195.78L84.87 195.27L84.71 194.86L84.57 194.43L84.36 194.05L84.19 193.65L83.9 193.34L83.55 193.07L83.05 192.91L82.72 192.63L82.33 192.39L82.14 192L82.08 191.51L81.65 191.3L81.56 190.84L81.36 190.46L81.03 190.17L80.67 189.9L80.52 189.49L80.03 189.31L79.69 189.02L79.51 188.63L79.42 188.18L79.24 187.78L78.86 187.52L78.67 187.13L78.53 186.72L78.42 186.28L78.06 186.01L77.94 185.58L77.85 185.13L77.58 184.8L77.33 184.45L77.12 184.08L77.21 183.54L76.76 183.31L76.68 182.86L76.4 182.53L76.29 182.1L75.8 181.9L75.66 181.49L75.35 181.17L75.39 180.67L75.09 180.34L75.08 179.87L74.5 179.69L74.74 179.08L74.47 178.75L74.05 178.49L73.92 178.07L73.76 177.68L73.61 177.28L73.37 176.93L73.17 176.55L72.88 176.21L73.04 175.67L72.75 175.34L72.2 175.13L71.98 174.75L71.75 174.39L71.5 174.04L71.33 173.64L70.91 173.36L71.09 172.82L71.11 172.34L70.8 172.01L70.64 171.62L70.74 171.11L70.76 170.65L70.37 170.35L70.31 169.91L70.03 169.57L69.7 169.24L69.39 168.9L69.07 168.56L69.17 168.07L69.06 167.65L68.64 167.35L68.9 166.81L68.71 166.42L68.77 165.95L68.68 165.53L68.46 165.16L68.01 164.86L67.49 164.58L67.78 164.04L67.57 163.65L67.59 163.2L67.61 162.75L67.54 162.33L67.4 161.92L67.27 161.52L67.28 161.07L67.09 160.68L66.86 160.31L66.85 159.87L66.98 159.39L66.46 159.09L66.33 158.68L66.14 158.29L66.02 157.88L65.9 157.47L65.85 157.04L65.81 156.62L65.84 156.17L65.69 155.77L65.65 155.34L65.51 154.94L65.26 154.55L65.23 154.12L65.25 153.68L65 153.3L64.85 152.89L64.92 152.44L64.88 152.02L64.62 151.63L64.57 151.21L64.49 150.79L64.29 150.39L64.18 149.97L64.29 149.52L64.26 149.1L64.21 148.67L64.5 148.2L64.35 147.79L64.51 147.34L64.53 146.91L64.72 146.46L64.47 146.06L64.42 145.64L64.26 145.23L64.21 144.81L63.73 144.43L63.63 144.01L63.6 143.59L63.62 143.16L63.35 142.75L63.62 142.3L63.64 141.87L63.73 141.44L63.9 141L63.51 140.6L63.28 140.19L63.07 139.77L62.8 139.36L62.01 138.97L61.67 138.55L61.86 138.11L62.12 137.67L61.91 137.24L62.54 136.79L62.67 136.36L62.66 135.93L63.1 135.5L62.92 135.07L63.15 134.64L63.46 134.22L63.36 133.79" fill="none" stroke="#3d2624" stroke-width="0.55" stroke-linejoin="round"/>
<path d="M63.3 132.61L63.31 132.18L63.33 131.75L63.36 131.33L63.6 130.91L63.78 130.5L63.77 130.07L63.37 129.63L63.59 129.21L63.31 128.77L63.43 128.35L63.33 127.92L63.53 127.51L63.53 127.08L63.64 126.66L63.64 126.23L63.96 125.84L63.72 125.39L63.68 124.96L63.56 124.52L63.8 124.11L63.58 123.66L63.86 123.26L63.8 122.83L64.16 122.44L64.28 122.03L64.34 121.61L64.01 121.14L64.01 120.71L64.2 120.3L64.05 119.85L64.33 119.46L64.58 119.07L64.8 118.68L64.71 118.23L64.76 117.81L64.74 117.37L64.84 116.96L65.16 116.58L65.19 116.16L65.68 115.82L65.59 115.37L65.87 115L65.81 114.55L65.65 114.09L65.91 113.71L65.6 113.21L65.88 112.83L65.5 112.31L66.02 111.99L65.81 111.51L66.09 111.14L66.31 110.75L66.37 110.33L66.43 109.91L66.45 109.47L66.71 109.1L66.69 108.65L66.96 108.29L66.74 107.78L67.23 107.48L67.42 107.09L67.42 106.65L67.37 106.19L67.85 105.89L67.75 105.42L67.68 104.95L68.14 104.65L68.17 104.21L68.24 103.79L68.52 103.44L68.72 103.05L68.53 102.54L68.52 102.09L69.02 101.81L69.13 101.4L69.1 100.94L69.49 100.63L69.66 100.24L69.69 99.79L69.85 99.4L69.8 98.92L70.03 98.56L70.28 98.2L70.35 97.77L70.41 97.33L70.92 97.08L71.02 96.66L71 96.19L71.27 95.85L71.37 95.42L71.36 94.96L71.67 94.63L71.79 94.21L72.37 94.01L72.5 93.6L72.49 93.13L72.95 92.88L72.89 92.38L73.17 92.04L73.25 91.61L73.73 91.38L73.81 90.94L74.07 90.6L74.19 90.18L74.52 89.87L74.59 89.43L74.66 88.99L75.03 88.7L75.08 88.25L75.26 87.86L75.49 87.51L75.7 87.14L75.55 86.57L75.93 86.29L76.05 85.87L76.49 85.63L76.39 85.08L76.83 84.84L76.94 84.42L77.04 83.98L77.48 83.75L77.68 83.37L77.65 82.85L77.93 82.53L78.19 82.18L78.51 81.88L78.92 81.64L79.22 81.33L79.29 80.87L79.4 80.43L79.64 80.08L79.75 79.64L80.2 79.43L80.37 79.03L80.83 78.83L80.93 78.38L81.25 78.09L81.51 77.75L81.79 77.43L81.88 76.97L82 76.53L82.2 76.15L82.62 75.92L82.85 75.56L83.06 75.19L83.62 75.08L83.82 74.7L84.14 74.41L84.58 74.22L84.79 73.84L85.21 73.64L85.37 73.22L85.64 72.89L85.97 72.62L85.95 72.05L86.13 71.64L86.19 71.13L86.36 70.72L86.73 70.47L86.83 70L87.45 69.97L87.69 69.62L87.93 69.25L88.25 68.97L88.6 68.72L88.87 68.39L89.32 68.22L89.53 67.83L89.99 67.68L90.04 67.14L90.28 66.78L90.62 66.52L91.1 66.39L91.32 66.01L91.52 65.61L91.95 65.44L92.19 65.07L92.54 64.83L92.78 64.46L92.99 64.07L93.31 63.78L93.74 63.61L93.98 63.25L94.42 63.1L94.94 63.04L94.92 62.39L95.31 62.18L95.64 61.92L95.85 61.51L96.33 61.41L96.61 61.08L96.99 60.87L97.12 60.37L97.48 60.14L97.72 59.76L98.15 59.61L98.47 59.33L98.98 59.28L99.19 58.86L99.52 58.6L99.93 58.42L100.21 58.1L100.49 57.76L100.8 57.46L101.08 57.14L101.45 56.91L101.93 56.85L102.3 56.63L102.49 56.18L103.04 56.2L103.34 55.9L103.75 55.74L104.06 55.44L104.38 55.15L104.73 54.92L104.97 54.51L105.46 54.47L105.79 54.21L106.17 54.02L106.59 53.88L106.81 53.44L107.22 53.29L107.39 52.77L107.79 52.6L108.24 52.51L108.44 52.05L108.94 52.04L109.33 51.85L109.48 51.3L109.89 51.15L110.24 50.91L110.63 50.72L111.01 50.53L111.24 50.09L111.71 50.04L112.21 50.05L112.63 49.93L113.02 49.75L113.4 49.56L113.86 49.53L114.02 48.92L114.41 48.76L114.97 48.9L115.22 48.47L115.67 48.42L116.04 48.21L116.39 47.96L116.73 47.69L117.1 47.47L117.45 47.22L117.84 47.06L118.23 46.88L118.6 46.67L118.99 46.52L119.47 46.54L119.79 46.21L120.12 45.92L120.53 45.79L120.94 45.66L121.24 45.28L121.64 45.14L122.03 44.96L122.49 44.96L122.87 44.77L123.2 44.45L123.66 44.45L124.12 44.45L124.5 44.27L124.84 43.97L125.2 43.73L125.66 43.73L126.05 43.55L126.34 43.11L126.82 43.18L127.24 43.1L127.56 42.73L127.98 42.64L128.48 42.8L128.91 42.73L129.31 42.6L129.77 42.64L130.19 42.56L130.55 42.28L130.91 42.02L131.37 42.08L131.75 41.87L132.09 41.53L132.47 41.32L132.83 41.05L133.26 40.98L133.75 41.16L134.17 41.07L134.64 41.2L135.04 41.06L135.33 40.51L135.74 40.37L136.17 40.33L136.55 40.12L137 40.14L137.4 40L137.82 39.94L138.18 39.6L138.62 39.61L139.05 39.58L139.43 39.34L139.89 39.45L140.32 39.45L140.72 39.27L141.34 42.25A94 94 0 0 0 66.41 132.66Z" fill="#f3b9b0"/><path d="M63.3 132.61L63.31 132.18L63.33 131.75L63.36 131.33L63.6 130.91L63.78 130.5L63.77 130.07L63.37 129.63L63.59 129.21L63.31 128.77L63.43 128.35L63.33 127.92L63.53 127.51L63.53 127.08L63.64 126.66L63.64 126.23L63.96 125.84L63.72 125.39L63.68 124.96L63.56 124.52L63.8 124.11L63.58 123.66L63.86 123.26L63.8 122.83L64.16 122.44L64.28 122.03L64.34 121.61L64.01 121.14L64.01 120.71L64.2 120.3L64.05 119.85L64.33 119.46L64.58 119.07L64.8 118.68L64.71 118.23L64.76 117.81L64.74 117.37L64.84 116.96L65.16 116.58L65.19 116.16L65.68 115.82L65.59 115.37L65.87 115L65.81 114.55L65.65 114.09L65.91 113.71L65.6 113.21L65.88 112.83L65.5 112.31L66.02 111.99L65.81 111.51L66.09 111.14L66.31 110.75L66.37 110.33L66.43 109.91L66.45 109.47L66.71 109.1L66.69 108.65L66.96 108.29L66.74 107.78L67.23 107.48L67.42 107.09L67.42 106.65L67.37 106.19L67.85 105.89L67.75 105.42L67.68 104.95L68.14 104.65L68.17 104.21L68.24 103.79L68.52 103.44L68.72 103.05L68.53 102.54L68.52 102.09L69.02 101.81L69.13 101.4L69.1 100.94L69.49 100.63L69.66 100.24L69.69 99.79L69.85 99.4L69.8 98.92L70.03 98.56L70.28 98.2L70.35 97.77L70.41 97.33L70.92 97.08L71.02 96.66L71 96.19L71.27 95.85L71.37 95.42L71.36 94.96L71.67 94.63L71.79 94.21L72.37 94.01L72.5 93.6L72.49 93.13L72.95 92.88L72.89 92.38L73.17 92.04L73.25 91.61L73.73 91.38L73.81 90.94L74.07 90.6L74.19 90.18L74.52 89.87L74.59 89.43L74.66 88.99L75.03 88.7L75.08 88.25L75.26 87.86L75.49 87.51L75.7 87.14L75.55 86.57L75.93 86.29L76.05 85.87L76.49 85.63L76.39 85.08L76.83 84.84L76.94 84.42L77.04 83.98L77.48 83.75L77.68 83.37L77.65 82.85L77.93 82.53L78.19 82.18L78.51 81.88L78.92 81.64L79.22 81.33L79.29 80.87L79.4 80.43L79.64 80.08L79.75 79.64L80.2 79.43L80.37 79.03L80.83 78.83L80.93 78.38L81.25 78.09L81.51 77.75L81.79 77.43L81.88 76.97L82 76.53L82.2 76.15L82.62 75.92L82.85 75.56L83.06 75.19L83.62 75.08L83.82 74.7L84.14 74.41L84.58 74.22L84.79 73.84L85.21 73.64L85.37 73.22L85.64 72.89L85.97 72.62L85.95 72.05L86.13 71.64L86.19 71.13L86.36 70.72L86.73 70.47L86.83 70L87.45 69.97L87.69 69.62L87.93 69.25L88.25 68.97L88.6 68.72L88.87 68.39L89.32 68.22L89.53 67.83L89.99 67.68L90.04 67.14L90.28 66.78L90.62 66.52L91.1 66.39L91.32 66.01L91.52 65.61L91.95 65.44L92.19 65.07L92.54 64.83L92.78 64.46L92.99 64.07L93.31 63.78L93.74 63.61L93.98 63.25L94.42 63.1L94.94 63.04L94.92 62.39L95.31 62.18L95.64 61.92L95.85 61.51L96.33 61.41L96.61 61.08L96.99 60.87L97.12 60.37L97.48 60.14L97.72 59.76L98.15 59.61L98.47 59.33L98.98 59.28L99.19 58.86L99.52 58.6L99.93 58.42L100.21 58.1L100.49 57.76L100.8 57.46L101.08 57.14L101.45 56.91L101.93 56.85L102.3 56.63L102.49 56.18L103.04 56.2L103.34 55.9L103.75 55.74L104.06 55.44L104.38 55.15L104.73 54.92L104.97 54.51L105.46 54.47L105.79 54.21L106.17 54.02L106.59 53.88L106.81 53.44L107.22 53.29L107.39 52.77L107.79 52.6L108.24 52.51L108.44 52.05L108.94 52.04L109.33 51.85L109.48 51.3L109.89 51.15L110.24 50.91L110.63 50.72L111.01 50.53L111.24 50.09L111.71 50.04L112.21 50.05L112.63 49.93L113.02 49.75L113.4 49.56L113.86 49.53L114.02 48.92L114.41 48.76L114.97 48.9L115.22 48.47L115.67 48.42L116.04 48.21L116.39 47.96L116.73 47.69L117.1 47.47L117.45 47.22L117.84 47.06L118.23 46.88L118.6 46.67L118.99 46.52L119.47 46.54L119.79 46.21L120.12 45.92L120.53 45.79L120.94 45.66L121.24 45.28L121.64 45.14L122.03 44.96L122.49 44.96L122.87 44.77L123.2 44.45L123.66 44.45L124.12 44.45L124.5 44.27L124.84 43.97L125.2 43.73L125.66 43.73L126.05 43.55L126.34 43.11L126.82 43.18L127.24 43.1L127.56 42.73L127.98 42.64L128.48 42.8L128.91 42.73L129.31 42.6L129.77 42.64L130.19 42.56L130.55 42.28L130.91 42.02L131.37 42.08L131.75 41.87L132.09 41.53L132.47 41.32L132.83 41.05L133.26 40.98L133.75 41.16L134.17 41.07L134.64 41.2L135.04 41.06L135.33 40.51L135.74 40.37L136.17 40.33L136.55 40.12L137 40.14L137.4 40L137.82 39.94L138.18 39.6L138.62 39.61L139.05 39.58L139.43 39.34L139.89 39.45L140.32 39.45L140.72 39.27" fill="none" stroke="#3d2624" stroke-width="0.55" stroke-linejoin="round"/>
<path d="M141.87 38.96L142.35 38.87L142.83 38.75L143.32 38.67L143.8 38.57L144.28 38.45L144.76 38.29L145.21 38.01L145.72 38.06L146.2 37.91L146.67 37.74L147.16 37.64L147.64 41.17A94 94 0 0 0 142.46 42.03Z" fill="#f3b9b0"/><path d="M141.87 38.96L142.35 38.87L142.83 38.75L143.32 38.67L143.8 38.57L144.28 38.45L144.76 38.29L145.21 38.01L145.72 38.06L146.2 37.91L146.67 37.74L147.16 37.64" fill="none" stroke="#3d2624" stroke-width="0.55" stroke-linejoin="round"/>
<path d="M228.59 68.45L233.63 63.58M251.53 108.17L259.22 105.96M220.7 207.45L227.06 215.17M206.5 217.13L213.8 230.24M78.3 86.9L73.97 84.4M94.55 202.49L90.38 206.81" stroke="#3a3226" stroke-width="0.45" fill="none"/>
<path d="M160.4 55.87L160.74 56L161.09 55.99L161.43 55.83L161.78 55.66L162.11 56.08L162.46 55.78L162.81 55.72L163.15 55.9L163.49 55.89L163.85 55.68L164.18 55.85L164.53 55.87L164.87 55.84L165.2 56.1L165.53 56.27L165.87 56.42L166.22 56.25L166.57 56.22L166.93 56.02L167.24 56.4L167.63 55.88L167.96 56.04L168.31 56.04L168.66 56.05L168.99 56.16L169.31 56.42L169.65 56.42L169.97 56.65L170.32 56.64L170.65 56.75L171 56.73L171.33 56.83L171.66 56.91L172 57L172.34 57.04L172.71 56.87L173.01 57.18L173.32 57.37L173.67 57.35L173.98 57.58L174.38 57.29L174.72 57.36L175.09 57.25L175.46 57.11L175.82 57.06L176.18 57.02L176.47 57.34L176.8 57.46L177.1 57.67L177.43 57.77L177.78 57.81L178.18 57.61L178.54 57.57L178.81 57.93L179.12 58.11L179.5 58L179.78 58.28L180.06 58.57L180.37 58.77L180.75 58.67L181.05 58.85L181.32 59.17L181.73 58.96L182.05 59.12L182.38 59.2L182.68 59.38L183.04 59.39L183.38 59.43L183.59 59.91L183.91 60.04L184.29 59.99L184.6 60.14L184.92 60.25L185.31 60.15L185.7 60.07L186.07 60.05L186.39 60.18L186.73 60.26L187.05 60.39L187.31 60.69L187.48 61.21L187.83 61.24L188.19 61.26L188.41 61.65L188.81 61.56L189.12 61.69L189.55 61.55L189.78 61.89L190.15 61.89L190.44 62.08L190.65 62.47L191.04 62.42L191.5 62.23L191.72 62.58L191.98 62.85L192.4 62.74L192.64 63.05L192.93 63.22L193.22 63.42L193.51 63.6L193.82 63.76L194.21 63.73L194.48 63.96L194.73 64.22L195.02 64.4L195.42 64.37L195.64 64.71L196.07 64.6L196.44 64.64L196.71 64.87L196.9 65.24L197.3 65.21L197.58 65.42L197.79 65.75L198.09 65.92L198.6 65.7L198.98 65.72L199.08 66.25L199.33 66.49L199.62 66.68L199.98 66.74L200.28 66.91L200.75 66.79L200.95 67.13L201.25 67.31L201.49 67.57L201.76 67.78L202.01 68.03L202.23 68.32L202.73 68.18L203.06 68.3L203.33 68.52L203.75 68.51L204 68.75L204.27 68.97L204.58 69.12L204.71 69.55L204.79 70.03L205.41 69.74L205.46 70.27L205.63 70.62L205.84 70.91L206.38 70.76L206.48 71.19L207.02 71.04L207.29 71.25L207.62 71.39L207.6 71.99L207.71 72.41L208.02 72.56L207.97 73.19L208.37 73.22L208.83 73.19L209.26 73.19L209.41 73.56L209.79 73.63L210.32 73.53L210.32 74.07L210.78 74.05L211.07 74.25L211.27 74.54L211.51 74.79L211.49 75.33L211.87 75.42L211.93 75.87L212.47 75.78L212.55 76.19L212.94 76.28L213.08 76.63L213.35 76.85L213.55 77.13L213.8 77.37L214.11 77.53L214.42 77.71L214.85 77.75L214.91 78.19L215.32 78.25L215.42 78.65L215.9 78.65L216.25 78.79L216.47 79.06L216.83 79.19L217.03 79.47L216.97 80.01L217.12 80.34L217.36 80.58L217.66 80.78L217.97 80.96L218.16 81.25L218.24 81.63L218.69 81.69L218.52 82.3L218.78 82.53L219 82.79L219.1 83.16L219.47 83.29L219.91 83.36L220.28 83.5L220.29 83.94L220.8 83.96L220.71 84.49L220.8 84.85L221.18 84.98L221.67 85.03L221.99 85.22L222.23 85.47L221.92 86.14L222.02 86.5L222.27 86.74L222.42 87.06L222.91 87.11L223.24 87.3L223.42 87.59L223.53 87.94L223.73 88.21L223.75 88.63L224.03 88.84L223.97 89.31L224.49 89.36L224.86 89.52L225.33 89.61L225.32 90.04L225.66 90.22L226.15 90.31L226.05 90.79L226.29 91.05L226.22 91.5L226.46 91.76L226.34 92.24L226.5 92.55L226.73 92.81L226.92 93.1L226.93 93.49L226.98 93.86L227.39 94.01L227.4 94.41L227.9 94.51L228.31 94.66L228.47 94.97L228.55 95.32L228.45 95.77L228.81 95.96L229.04 96.23L229.09 96.59L229.42 96.8L229.68 97.05L229.8 97.38L230.1 97.61L230.05 98.03L230.08 98.4L229.97 98.84L229.88 99.27L230.02 99.58L230.22 99.86L230.31 100.19L230.68 100.39L231.01 100.62L230.98 101.01L231.41 101.19L231.78 101.39L231.85 101.74L232.15 101.98L232.01 102.42L232.09 102.76L232.15 103.11L232.05 103.52L232.21 103.83L232.57 104.05L232.82 104.32L232.81 104.69L232.9 105.02L233.45 105.17L233.17 105.65L233.09 106.05L233.22 106.37L233.18 106.75L233.65 106.94L233.95 107.19L234.12 107.49L234.38 107.77L234.27 108.17L234.73 108.37L234.65 108.76L234.62 109.14L234.75 109.46L234.77 109.81L234.68 110.2L234.87 110.5L234.82 110.87L234.82 111.23L234.73 111.62L235.01 111.89L235.15 112.2L235.09 112.58L235.28 112.88L235.31 113.22L235.33 113.57L235.37 113.91L235.67 114.18L235.56 114.57L235.65 114.89L235.87 115.19L236.25 115.45L236.22 115.81L236.02 116.2L236.46 116.45L236.55 116.78L236.74 117.09L236.79 117.43L236.66 117.81L236.76 118.14L236.51 118.54L235.21 118.81A76.4 76.4 0 0 0 160.4 57.9Z" fill="#e0818a"/><path d="M160.4 55.87L160.74 56L161.09 55.99L161.43 55.83L161.78 55.66L162.11 56.08L162.46 55.78L162.81 55.72L163.15 55.9L163.49 55.89L163.85 55.68L164.18 55.85L164.53 55.87L164.87 55.84L165.2 56.1L165.53 56.27L165.87 56.42L166.22 56.25L166.57 56.22L166.93 56.02L167.24 56.4L167.63 55.88L167.96 56.04L168.31 56.04L168.66 56.05L168.99 56.16L169.31 56.42L169.65 56.42L169.97 56.65L170.32 56.64L170.65 56.75L171 56.73L171.33 56.83L171.66 56.91L172 57L172.34 57.04L172.71 56.87L173.01 57.18L173.32 57.37L173.67 57.35L173.98 57.58L174.38 57.29L174.72 57.36L175.09 57.25L175.46 57.11L175.82 57.06L176.18 57.02L176.47 57.34L176.8 57.46L177.1 57.67L177.43 57.77L177.78 57.81L178.18 57.61L178.54 57.57L178.81 57.93L179.12 58.11L179.5 58L179.78 58.28L180.06 58.57L180.37 58.77L180.75 58.67L181.05 58.85L181.32 59.17L181.73 58.96L182.05 59.12L182.38 59.2L182.68 59.38L183.04 59.39L183.38 59.43L183.59 59.91L183.91 60.04L184.29 59.99L184.6 60.14L184.92 60.25L185.31 60.15L185.7 60.07L186.07 60.05L186.39 60.18L186.73 60.26L187.05 60.39L187.31 60.69L187.48 61.21L187.83 61.24L188.19 61.26L188.41 61.65L188.81 61.56L189.12 61.69L189.55 61.55L189.78 61.89L190.15 61.89L190.44 62.08L190.65 62.47L191.04 62.42L191.5 62.23L191.72 62.58L191.98 62.85L192.4 62.74L192.64 63.05L192.93 63.22L193.22 63.42L193.51 63.6L193.82 63.76L194.21 63.73L194.48 63.96L194.73 64.22L195.02 64.4L195.42 64.37L195.64 64.71L196.07 64.6L196.44 64.64L196.71 64.87L196.9 65.24L197.3 65.21L197.58 65.42L197.79 65.75L198.09 65.92L198.6 65.7L198.98 65.72L199.08 66.25L199.33 66.49L199.62 66.68L199.98 66.74L200.28 66.91L200.75 66.79L200.95 67.13L201.25 67.31L201.49 67.57L201.76 67.78L202.01 68.03L202.23 68.32L202.73 68.18L203.06 68.3L203.33 68.52L203.75 68.51L204 68.75L204.27 68.97L204.58 69.12L204.71 69.55L204.79 70.03L205.41 69.74L205.46 70.27L205.63 70.62L205.84 70.91L206.38 70.76L206.48 71.19L207.02 71.04L207.29 71.25L207.62 71.39L207.6 71.99L207.71 72.41L208.02 72.56L207.97 73.19L208.37 73.22L208.83 73.19L209.26 73.19L209.41 73.56L209.79 73.63L210.32 73.53L210.32 74.07L210.78 74.05L211.07 74.25L211.27 74.54L211.51 74.79L211.49 75.33L211.87 75.42L211.93 75.87L212.47 75.78L212.55 76.19L212.94 76.28L213.08 76.63L213.35 76.85L213.55 77.13L213.8 77.37L214.11 77.53L214.42 77.71L214.85 77.75L214.91 78.19L215.32 78.25L215.42 78.65L215.9 78.65L216.25 78.79L216.47 79.06L216.83 79.19L217.03 79.47L216.97 80.01L217.12 80.34L217.36 80.58L217.66 80.78L217.97 80.96L218.16 81.25L218.24 81.63L218.69 81.69L218.52 82.3L218.78 82.53L219 82.79L219.1 83.16L219.47 83.29L219.91 83.36L220.28 83.5L220.29 83.94L220.8 83.96L220.71 84.49L220.8 84.85L221.18 84.98L221.67 85.03L221.99 85.22L222.23 85.47L221.92 86.14L222.02 86.5L222.27 86.74L222.42 87.06L222.91 87.11L223.24 87.3L223.42 87.59L223.53 87.94L223.73 88.21L223.75 88.63L224.03 88.84L223.97 89.31L224.49 89.36L224.86 89.52L225.33 89.61L225.32 90.04L225.66 90.22L226.15 90.31L226.05 90.79L226.29 91.05L226.22 91.5L226.46 91.76L226.34 92.24L226.5 92.55L226.73 92.81L226.92 93.1L226.93 93.49L226.98 93.86L227.39 94.01L227.4 94.41L227.9 94.51L228.31 94.66L228.47 94.97L228.55 95.32L228.45 95.77L228.81 95.96L229.04 96.23L229.09 96.59L229.42 96.8L229.68 97.05L229.8 97.38L230.1 97.61L230.05 98.03L230.08 98.4L229.97 98.84L229.88 99.27L230.02 99.58L230.22 99.86L230.31 100.19L230.68 100.39L231.01 100.62L230.98 101.01L231.41 101.19L231.78 101.39L231.85 101.74L232.15 101.98L232.01 102.42L232.09 102.76L232.15 103.11L232.05 103.52L232.21 103.83L232.57 104.05L232.82 104.32L232.81 104.69L232.9 105.02L233.45 105.17L233.17 105.65L233.09 106.05L233.22 106.37L233.18 106.75L233.65 106.94L233.95 107.19L234.12 107.49L234.38 107.77L234.27 108.17L234.73 108.37L234.65 108.76L234.62 109.14L234.75 109.46L234.77 109.81L234.68 110.2L234.87 110.5L234.82 110.87L234.82 111.23L234.73 111.62L235.01 111.89L235.15 112.2L235.09 112.58L235.28 112.88L235.31 113.22L235.33 113.57L235.37 113.91L235.67 114.18L235.56 114.57L235.65 114.89L235.87 115.19L236.25 115.45L236.22 115.81L236.02 116.2L236.46 116.45L236.55 116.78L236.74 117.09L236.79 117.43L236.66 117.81L236.76 118.14L236.51 118.54" fill="none" stroke="#3a2224" stroke-width="0.55" stroke-linejoin="round"/>
<path d="M237.65 119.28L237.71 119.63L237.63 120L237.4 120.4L237.61 120.72L237.66 121.06L237.59 121.43L237.72 121.76L238.15 122.05L238.01 122.42L237.9 122.79L238.21 123.1L238.35 123.44L238.09 123.83L238.17 124.17L238.54 124.47L238.36 124.85L238.23 125.22L238.54 125.54L238.13 125.93L238.17 126.28L238.21 126.62L238.42 126.96L238.61 127.29L238.33 127.66L238.39 128.01L237.99 128.39L238.2 128.72L238.01 129.08L237.93 129.44L238.22 129.77L238.32 130.11L238.42 130.45L238.71 130.79L238.76 131.14L238.51 131.5L238.55 131.84L238.53 132.19L238.31 132.55L238.4 132.89L238.75 133.24L238.19 133.59L238.28 133.94L238.44 134.28L238.51 134.63L238.36 134.98L238.65 135.33L238.5 135.68L238.67 136.03L238.58 136.38L238.37 136.72L238.19 137.06L238.46 137.42L238.22 137.76L238.39 138.11L236.71 138.03A76.4 76.4 0 0 0 235.4 119.72Z" fill="#e0818a"/><path d="M237.65 119.28L237.71 119.63L237.63 120L237.4 120.4L237.61 120.72L237.66 121.06L237.59 121.43L237.72 121.76L238.15 122.05L238.01 122.42L237.9 122.79L238.21 123.1L238.35 123.44L238.09 123.83L238.17 124.17L238.54 124.47L238.36 124.85L238.23 125.22L238.54 125.54L238.13 125.93L238.17 126.28L238.21 126.62L238.42 126.96L238.61 127.29L238.33 127.66L238.39 128.01L237.99 128.39L238.2 128.72L238.01 129.08L237.93 129.44L238.22 129.77L238.32 130.11L238.42 130.45L238.71 130.79L238.76 131.14L238.51 131.5L238.55 131.84L238.53 132.19L238.31 132.55L238.4 132.89L238.75 133.24L238.19 133.59L238.28 133.94L238.44 134.28L238.51 134.63L238.36 134.98L238.65 135.33L238.5 135.68L238.67 136.03L238.58 136.38L238.37 136.72L238.19 137.06L238.46 137.42L238.22 137.76L238.39 138.11" fill="none" stroke="#3a2224" stroke-width="0.55" stroke-linejoin="round"/>
<path d="M240.46 139.2L240.72 139.57L240.62 139.92L240.78 140.28L240.95 140.65L240.74 140.99L240.51 141.33L240.86 141.71L240.56 142.04L240.51 142.39L240.36 142.73L240.61 143.12L240.39 143.45L240.53 143.82L240.76 144.21L240.8 144.57L240.5 144.89L240.47 145.25L240.21 145.57L240 145.9L240.05 146.26L240.18 146.64L239.93 146.96L239.75 147.29L239.47 147.6L239.13 147.9L239.19 148.27L239.04 148.6L238.9 148.93L238.96 149.3L239.12 149.69L238.92 150.01L239.19 150.43L239.1 150.77L238.97 151.1L238.77 151.42L238.5 151.72L238.4 152.06L238.19 152.37L238 152.69L237.98 153.04L238.37 153.5L238.32 153.85L238.23 154.2L238.23 154.56L238.31 154.95L238.4 155.34L238.56 155.75L238.17 156.01L238.16 156.38L237.87 156.67L237.57 156.95L237.38 157.26L237.39 157.63L237.04 157.9L237.3 158.35L236.97 158.61L236.96 158.98L236.62 159.24L236.68 159.64L236.37 159.9L236.2 160.22L236.33 160.64L236.12 160.94L236.37 161.4L236.16 161.7L235.78 161.94L235.53 162.22L235.44 162.57L235.4 162.93L235.3 163.27L235.23 163.62L234.7 163.79L234.81 164.22L234.49 164.47L234.16 164.71L234.01 165.03L233.96 165.39L233.87 165.73L233.97 166.16L233.97 166.54L233.89 166.89L233.55 167.13L233.49 167.49L233.32 167.8L232.96 168.02L232.99 168.43L232.85 168.75L232.54 168.99L232.47 169.35L232.25 169.63L232.2 170L231.88 170.23L231.93 170.66L231.56 170.86L231.44 171.2L231.22 171.48L231.38 171.96L231 172.16L231.09 172.61L230.56 172.72L230.7 173.21L230.32 173.39L230.39 173.84L230.1 174.08L229.93 174.39L229.86 174.76L229.76 175.11L229.51 175.37L229.26 175.64L228.8 175.77L228.97 176.29L228.49 176.41L228.65 176.92L228.3 177.12L228.14 177.44L228.06 177.8L227.73 178.01L227.66 178.39L227.31 178.58L227.3 179L227.11 179.3L227 179.65L226.47 179.72L226.44 180.12L226.34 180.49L225.95 180.65L225.78 180.96L225.59 181.26L225.36 181.53L225.14 181.8L224.76 181.96L224.73 182.38L224.42 182.58L224.32 182.95L224.1 183.23L224.03 183.63L223.83 183.92L223.46 184.08L223.14 184.28L222.93 184.55L222.97 185.04L222.34 184.98L222.03 185.19L222.07 185.68L221.78 185.9L221.72 186.31L221.75 186.8L221.43 186.99L221.18 187.24L220.92 187.49L220.54 187.63L220.2 187.8L219.95 188.05L219.52 188.13L219.54 188.63L219.12 188.72L218.83 188.93L218.85 189.43L218.31 189.41L218.25 189.84L217.76 189.85L217.66 190.25L217.5 190.59L217.08 190.67L217.19 191.27L216.96 191.54L216.58 191.66L216.01 191.58L215.79 191.86L215.53 192.1L215.58 192.66L215.23 192.8L215.17 193.25L214.98 193.58L214.57 193.66L214.05 193.61L213.92 193.98L213.64 194.2L213.51 194.58L213.4 194.99L212.94 195.01L212.61 195.17L212.42 195.49L212.17 195.73L211.81 195.85L211.53 196.07L211.27 196.31L210.9 196.42L210.84 196.9L210.39 196.91L210.07 197.07L210.1 197.68L209.58 197.59L209.3 197.81L209.21 198.27L208.79 198.3L208.46 198.45L208.23 198.72L207.9 198.88L207.7 199.19L207.33 199.29L207.12 199.61L206.6 199.48L206.15 199.45L205.69 199.4L205.43 199.64L204.88 199.46L204.7 199.81L204.55 200.21L204.23 200.36L204.2 200.94L204.05 201.36L203.94 201.84L203.71 202.13L203.49 202.45L202.98 202.3L202.75 202.61L200.66 199.23A76.4 76.4 0 0 0 236.66 138.96Z" fill="#e0818a"/><path d="M240.46 139.2L240.72 139.57L240.62 139.92L240.78 140.28L240.95 140.65L240.74 140.99L240.51 141.33L240.86 141.71L240.56 142.04L240.51 142.39L240.36 142.73L240.61 143.12L240.39 143.45L240.53 143.82L240.76 144.21L240.8 144.57L240.5 144.89L240.47 145.25L240.21 145.57L240 145.9L240.05 146.26L240.18 146.64L239.93 146.96L239.75 147.29L239.47 147.6L239.13 147.9L239.19 148.27L239.04 148.6L238.9 148.93L238.96 149.3L239.12 149.69L238.92 150.01L239.19 150.43L239.1 150.77L238.97 151.1L238.77 151.42L238.5 151.72L238.4 152.06L238.19 152.37L238 152.69L237.98 153.04L238.37 153.5L238.32 153.85L238.23 154.2L238.23 154.56L238.31 154.95L238.4 155.34L238.56 155.75L238.17 156.01L238.16 156.38L237.87 156.67L237.57 156.95L237.38 157.26L237.39 157.63L237.04 157.9L237.3 158.35L236.97 158.61L236.96 158.98L236.62 159.24L236.68 159.64L236.37 159.9L236.2 160.22L236.33 160.64L236.12 160.94L236.37 161.4L236.16 161.7L235.78 161.94L235.53 162.22L235.44 162.57L235.4 162.93L235.3 163.27L235.23 163.62L234.7 163.79L234.81 164.22L234.49 164.47L234.16 164.71L234.01 165.03L233.96 165.39L233.87 165.73L233.97 166.16L233.97 166.54L233.89 166.89L233.55 167.13L233.49 167.49L233.32 167.8L232.96 168.02L232.99 168.43L232.85 168.75L232.54 168.99L232.47 169.35L232.25 169.63L232.2 170L231.88 170.23L231.93 170.66L231.56 170.86L231.44 171.2L231.22 171.48L231.38 171.96L231 172.16L231.09 172.61L230.56 172.72L230.7 173.21L230.32 173.39L230.39 173.84L230.1 174.08L229.93 174.39L229.86 174.76L229.76 175.11L229.51 175.37L229.26 175.64L228.8 175.77L228.97 176.29L228.49 176.41L228.65 176.92L228.3 177.12L228.14 177.44L228.06 177.8L227.73 178.01L227.66 178.39L227.31 178.58L227.3 179L227.11 179.3L227 179.65L226.47 179.72L226.44 180.12L226.34 180.49L225.95 180.65L225.78 180.96L225.59 181.26L225.36 181.53L225.14 181.8L224.76 181.96L224.73 182.38L224.42 182.58L224.32 182.95L224.1 183.23L224.03 183.63L223.83 183.92L223.46 184.08L223.14 184.28L222.93 184.55L222.97 185.04L222.34 184.98L222.03 185.19L222.07 185.68L221.78 185.9L221.72 186.31L221.75 186.8L221.43 186.99L221.18 187.24L220.92 187.49L220.54 187.63L220.2 187.8L219.95 188.05L219.52 188.13L219.54 188.63L219.12 188.72L218.83 188.93L218.85 189.43L218.31 189.41L218.25 189.84L217.76 189.85L217.66 190.25L217.5 190.59L217.08 190.67L217.19 191.27L216.96 191.54L216.58 191.66L216.01 191.58L215.79 191.86L215.53 192.1L215.58 192.66L215.23 192.8L215.17 193.25L214.98 193.58L214.57 193.66L214.05 193.61L213.92 193.98L213.64 194.2L213.51 194.58L213.4 194.99L212.94 195.01L212.61 195.17L212.42 195.49L212.17 195.73L211.81 195.85L211.53 196.07L211.27 196.31L210.9 196.42L210.84 196.9L210.39 196.91L210.07 197.07L210.1 197.68L209.58 197.59L209.3 197.81L209.21 198.27L208.79 198.3L208.46 198.45L208.23 198.72L207.9 198.88L207.7 199.19L207.33 199.29L207.12 199.61L206.6 199.48L206.15 199.45L205.69 199.4L205.43 199.64L204.88 199.46L204.7 199.81L204.55 200.21L204.23 200.36L204.2 200.94L204.05 201.36L203.94 201.84L203.71 202.13L203.49 202.45L202.98 202.3L202.75 202.61" fill="none" stroke="#3a2224" stroke-width="0.55" stroke-linejoin="round"/>
<path d="M202.1 203.42L201.99 203.94L201.93 204.52L201.87 205.14L201.58 205.36L201.45 205.86L201.24 206.22L201.03 206.59L200.78 206.89L200.18 206.55L199.91 206.82L199.76 207.29L198.94 206.54L198.29 206.07L198.13 206.54L197.68 206.44L197.37 206.63L197.01 206.7L196.57 206.61L196.27 206.82L195.84 206.74L195.37 206.58L195.14 206.93L194.85 207.12L194.56 207.36L194.14 207.29L193.76 207.31L193.46 207.48L193.17 207.71L192.72 207.56L192.48 207.89L192.14 208L191.76 208L191.44 208.14L191.23 208.56L190.75 208.31L190.47 208.56L190.23 208.9L189.82 208.82L189.57 209.15L189.22 209.22L188.99 209.62L188.5 209.33L188.25 209.66L187.82 209.5L187.61 209.95L187.2 209.86L187.06 210.53L186.68 210.52L186.34 210.61L185.92 210.48L185.67 210.84L185.16 210.42L184.91 210.8L184.57 210.9L184.2 210.88L183.81 210.82L183.58 211.25L183.12 210.94L182.77 211L182.42 211.05L182.03 210.98L181.7 211.07L181.42 211.4L181.15 211.72L180.83 211.92L180.54 212.21L180.18 212.21L179.87 212.41L179.55 212.6L179.18 212.6L178.85 212.71L178.52 212.84L178.15 212.83L177.74 212.62L177.46 212.97L177.03 212.67L176.69 212.73L176.31 212.64L175.98 212.79L175.72 213.27L175.31 213.02L174.98 213.18L174.61 213.14L174.3 213.4L173.9 213.14L173.61 213.51L173.27 213.61L172.92 213.69L172.58 213.81L172.27 214.12L171.93 214.26L171.5 213.72L171.2 214.14L170.85 214.2L170.48 214.1L170.13 214.08L169.79 214.28L169.46 214.45L169.07 214.13L168.72 214.21L168.36 214.12L167.99 214.01L167.64 213.98L167.28 213.94L166.95 214.2L166.56 213.72L166.23 214.02L165.9 214.39L165.57 214.67L165.23 214.84L164.88 214.99L164.51 214.77L164.17 214.98L163.8 214.69L163.44 214.46L163.09 214.46L162.74 214.58L162.39 214.74L162.03 214.53L161.68 214.72L161.32 214.29L160.97 214.46L160.62 214.57L160.27 214.6L159.92 214.55L159.56 214.68L159.21 214.49L158.86 214.63L158.51 214.52L158.15 214.58L157.8 214.62L157.45 214.63L157.09 214.73L156.74 214.57L156.41 214.2L156.07 214.02L155.7 214.27L155.35 214.27L154.99 214.3L154.65 214.16L154.28 214.35L153.93 214.31L153.58 214.29L153.22 214.41L152.91 213.89L152.55 213.95L152.21 213.86L151.85 213.93L151.49 213.96L151.08 214.43L150.72 214.45L150.38 214.3L150.01 214.43L149.68 214.21L149.36 213.98L149.03 213.76L148.69 213.64L148.38 213.33L148.09 212.91L147.75 212.85L147.34 213.16L147 213.08L146.58 213.48L146.25 213.3L145.84 213.6L145.47 213.63L145.17 213.3L144.87 213L144.52 212.95L144.19 212.83L143.9 212.47L143.59 212.25L143.31 211.91L142.94 211.96L142.51 212.28L142.17 212.16L141.7 212.63L141.4 212.39L141.09 212.17L140.74 212.09L140.39 212.04L140.08 211.84L139.76 211.69L139.36 211.8L139.09 211.48L138.76 211.33L138.45 211.15L138.09 211.14L137.73 211.1L137.38 211.07L137.08 210.82L136.7 210.88L136.39 210.67L136.14 210.32L135.76 210.33L135.42 210.25L135.15 209.96L134.71 210.17L134.42 209.92L134.07 209.85L133.65 209.99L133.27 210.02L132.96 209.83L132.68 209.58L132.24 209.75L131.89 209.67L131.57 209.51L131.26 209.32L130.92 209.24L130.65 208.96L130.29 208.9L130.06 208.55L129.61 208.7L129.3 208.53L128.8 208.81L128.46 208.69L128.11 208.61L127.86 208.29L127.54 208.14L127.29 207.83L126.68 208.31L126.46 207.93L125.93 208.23L125.83 207.6L125.4 207.68L127.51 203.26A76.4 76.4 0 0 0 199.86 199.72Z" fill="#e0818a"/><path d="M202.1 203.42L201.99 203.94L201.93 204.52L201.87 205.14L201.58 205.36L201.45 205.86L201.24 206.22L201.03 206.59L200.78 206.89L200.18 206.55L199.91 206.82L199.76 207.29L198.94 206.54L198.29 206.07L198.13 206.54L197.68 206.44L197.37 206.63L197.01 206.7L196.57 206.61L196.27 206.82L195.84 206.74L195.37 206.58L195.14 206.93L194.85 207.12L194.56 207.36L194.14 207.29L193.76 207.31L193.46 207.48L193.17 207.71L192.72 207.56L192.48 207.89L192.14 208L191.76 208L191.44 208.14L191.23 208.56L190.75 208.31L190.47 208.56L190.23 208.9L189.82 208.82L189.57 209.15L189.22 209.22L188.99 209.62L188.5 209.33L188.25 209.66L187.82 209.5L187.61 209.95L187.2 209.86L187.06 210.53L186.68 210.52L186.34 210.61L185.92 210.48L185.67 210.84L185.16 210.42L184.91 210.8L184.57 210.9L184.2 210.88L183.81 210.82L183.58 211.25L183.12 210.94L182.77 211L182.42 211.05L182.03 210.98L181.7 211.07L181.42 211.4L181.15 211.72L180.83 211.92L180.54 212.21L180.18 212.21L179.87 212.41L179.55 212.6L179.18 212.6L178.85 212.71L178.52 212.84L178.15 212.83L177.74 212.62L177.46 212.97L177.03 212.67L176.69 212.73L176.31 212.64L175.98 212.79L175.72 213.27L175.31 213.02L174.98 213.18L174.61 213.14L174.3 213.4L173.9 213.14L173.61 213.51L173.27 213.61L172.92 213.69L172.58 213.81L172.27 214.12L171.93 214.26L171.5 213.72L171.2 214.14L170.85 214.2L170.48 214.1L170.13 214.08L169.79 214.28L169.46 214.45L169.07 214.13L168.72 214.21L168.36 214.12L167.99 214.01L167.64 213.98L167.28 213.94L166.95 214.2L166.56 213.72L166.23 214.02L165.9 214.39L165.57 214.67L165.23 214.84L164.88 214.99L164.51 214.77L164.17 214.98L163.8 214.69L163.44 214.46L163.09 214.46L162.74 214.58L162.39 214.74L162.03 214.53L161.68 214.72L161.32 214.29L160.97 214.46L160.62 214.57L160.27 214.6L159.92 214.55L159.56 214.68L159.21 214.49L158.86 214.63L158.51 214.52L158.15 214.58L157.8 214.62L157.45 214.63L157.09 214.73L156.74 214.57L156.41 214.2L156.07 214.02L155.7 214.27L155.35 214.27L154.99 214.3L154.65 214.16L154.28 214.35L153.93 214.31L153.58 214.29L153.22 214.41L152.91 213.89L152.55 213.95L152.21 213.86L151.85 213.93L151.49 213.96L151.08 214.43L150.72 214.45L150.38 214.3L150.01 214.43L149.68 214.21L149.36 213.98L149.03 213.76L148.69 213.64L148.38 213.33L148.09 212.91L147.75 212.85L147.34 213.16L147 213.08L146.58 213.48L146.25 213.3L145.84 213.6L145.47 213.63L145.17 213.3L144.87 213L144.52 212.95L144.19 212.83L143.9 212.47L143.59 212.25L143.31 211.91L142.94 211.96L142.51 212.28L142.17 212.16L141.7 212.63L141.4 212.39L141.09 212.17L140.74 212.09L140.39 212.04L140.08 211.84L139.76 211.69L139.36 211.8L139.09 211.48L138.76 211.33L138.45 211.15L138.09 211.14L137.73 211.1L137.38 211.07L137.08 210.82L136.7 210.88L136.39 210.67L136.14 210.32L135.76 210.33L135.42 210.25L135.15 209.96L134.71 210.17L134.42 209.92L134.07 209.85L133.65 209.99L133.27 210.02L132.96 209.83L132.68 209.58L132.24 209.75L131.89 209.67L131.57 209.51L131.26 209.32L130.92 209.24L130.65 208.96L130.29 208.9L130.06 208.55L129.61 208.7L129.3 208.53L128.8 208.81L128.46 208.69L128.11 208.61L127.86 208.29L127.54 208.14L127.29 207.83L126.68 208.31L126.46 207.93L125.93 208.23L125.83 207.6L125.4 207.68" fill="none" stroke="#3a2224" stroke-width="0.55" stroke-linejoin="round"/>
<path d="M124.94 206.37L124.7 206.05L124.41 205.85L124.2 205.48L123.81 205.47L123.54 205.23L123.31 204.93L122.83 205.08L122.38 205.17L122.07 205.01L121.71 204.93L121.29 204.96L121.04 204.68L120.68 204.6L120.63 203.96L120.4 203.66L120.05 203.57L119.78 203.33L119.48 203.15L119.08 203.13L118.72 203.05L118.29 203.08L118.08 202.74L118.11 202.03L117.77 201.92L117.43 201.78L117.25 201.42L116.95 201.24L116.37 201.49L116.21 201.1L115.96 200.83L115.66 200.65L115.26 200.61L114.95 200.44L114.51 200.46L114.18 200.32L113.86 200.16L113.73 199.72L113.55 199.37L113.42 198.96L113.22 198.64L113.07 198.25L112.71 198.15L112.46 197.9L112.05 197.87L111.68 197.77L111.23 197.77L111.19 197.26L110.79 197.19L110.46 197.04L110.35 196.62L109.74 196.81L109.39 196.69L109.18 196.38L108.77 196.33L108.45 196.16L108.48 195.57L108.09 195.48L108.04 195.01L107.66 194.9L107.71 194.31L107.57 193.95L106.99 194.06L106.61 193.96L106.59 193.47L106.21 193.35L105.74 193.35L105.57 193.02L105.47 192.61L105.08 192.51L104.82 192.26L104.66 191.93L104.3 191.79L103.89 191.71L103.53 191.57L103.3 191.29L103.24 190.86L102.81 190.79L102.68 190.42L102.56 190.04L102.26 189.84L102.01 189.59L101.88 189.23L101.77 188.85L101.32 188.79L101.21 188.41L100.85 188.26L100.37 188.22L100.5 187.63L100.16 187.46L100.03 187.11L99.71 186.91L99.59 186.56L99.33 186.32L98.89 186.22L98.35 186.22L98.52 185.62L98.36 185.29L98.2 184.97L97.79 184.84L97.78 184.4L97.32 184.32L97.04 184.09L96.55 184.02L96.36 183.72L96.44 183.21L96.19 182.96L96.06 182.61L95.97 182.24L95.8 181.93L95.28 181.87L95.29 181.43L95.39 180.92L94.91 180.83L94.66 180.58L94.46 180.28L94.23 180.02L93.91 179.81L94.05 179.29L93.89 178.97L93.82 178.6L93.54 178.36L93.57 177.92L93.23 177.73L93.01 177.45L92.61 177.29L92.3 177.06L91.77 176.98L91.85 176.51L91.67 176.21L91.38 175.97L91.4 175.54L91.16 175.28L91.23 174.83L91 174.55L90.66 174.34L90.41 174.08L90.35 173.71L90.03 173.48L89.66 173.28L89.77 172.82L89.68 172.47L89.41 172.21L89 172.03L89.42 171.41L89.13 171.16L88.79 170.94L88.79 170.55L88.74 170.18L88.37 169.97L88.22 169.65L88.29 169.23L87.7 169.12L87.55 168.8L87.62 168.38L87.34 168.11L87.03 167.87L87.08 167.46L86.95 167.13L86.95 166.74L87.07 166.31L86.88 166.01L86.95 165.6L87.01 165.19L86.38 165.07L86.24 164.75L86.07 164.44L85.94 164.11L85.88 163.76L85.8 163.41L85.92 162.99L85.48 162.78L85.52 162.39L85.29 162.1L85.02 161.83L84.83 161.52L85.03 161.08L84.89 160.75L84.43 160.54L84.35 160.2L84.68 159.71L84.34 159.46L84.3 159.1L84.21 158.76L84.2 158.39L83.75 158.17L83.61 157.84L83.65 157.46L83.28 157.21L83 156.92L83.46 156.42L83.22 156.12L83.44 155.7L83.15 155.41L83.11 155.06L82.64 154.82L82.71 154.44L82.42 154.15L82.53 153.76L82.56 153.39L82.26 153.1L81.81 152.84L81.78 152.48L81.44 152.2L81.5 151.82L81.68 151.42L81.6 151.07L81.51 150.73L81.63 150.35L81.94 149.93L81.57 149.64L81.32 149.33L81.12 149.01L80.85 148.7L80.77 148.35L81.19 147.92L81.12 147.57L81.08 147.22L81.29 146.83L81.11 146.5L81.18 146.14L80.79 145.84L80.51 145.52L80.27 145.2L80.47 144.81L80.64 144.43L80.81 144.06L80.58 143.73L80.7 143.36L80.3 143.05L80.5 142.68L80.45 142.33L80.53 141.96L80.54 141.61L80.58 141.25L80.87 140.88L80.59 140.55L80.43 140.21L79.84 139.9L79.96 139.53L79.34 139.22L79.73 138.84L79.13 138.51L79.35 138.15L78.48 137.83L78.75 137.46L78.01 137.12L78.67 136.74L78.64 136.38L78.09 136.04L79.24 135.66L79.32 135.3L79.44 134.94L79.75 134.59L79.93 134.23L80.11 133.88L84 133.9A76.4 76.4 0 0 0 126.67 202.85Z" fill="#e0818a"/><path d="M124.94 206.37L124.7 206.05L124.41 205.85L124.2 205.48L123.81 205.47L123.54 205.23L123.31 204.93L122.83 205.08L122.38 205.17L122.07 205.01L121.71 204.93L121.29 204.96L121.04 204.68L120.68 204.6L120.63 203.96L120.4 203.66L120.05 203.57L119.78 203.33L119.48 203.15L119.08 203.13L118.72 203.05L118.29 203.08L118.08 202.74L118.11 202.03L117.77 201.92L117.43 201.78L117.25 201.42L116.95 201.24L116.37 201.49L116.21 201.1L115.96 200.83L115.66 200.65L115.26 200.61L114.95 200.44L114.51 200.46L114.18 200.32L113.86 200.16L113.73 199.72L113.55 199.37L113.42 198.96L113.22 198.64L113.07 198.25L112.71 198.15L112.46 197.9L112.05 197.87L111.68 197.77L111.23 197.77L111.19 197.26L110.79 197.19L110.46 197.04L110.35 196.62L109.74 196.81L109.39 196.69L109.18 196.38L108.77 196.33L108.45 196.16L108.48 195.57L108.09 195.48L108.04 195.01L107.66 194.9L107.71 194.31L107.57 193.95L106.99 194.06L106.61 193.96L106.59 193.47L106.21 193.35L105.74 193.35L105.57 193.02L105.47 192.61L105.08 192.51L104.82 192.26L104.66 191.93L104.3 191.79L103.89 191.71L103.53 191.57L103.3 191.29L103.24 190.86L102.81 190.79L102.68 190.42L102.56 190.04L102.26 189.84L102.01 189.59L101.88 189.23L101.77 188.85L101.32 188.79L101.21 188.41L100.85 188.26L100.37 188.22L100.5 187.63L100.16 187.46L100.03 187.11L99.71 186.91L99.59 186.56L99.33 186.32L98.89 186.22L98.35 186.22L98.52 185.62L98.36 185.29L98.2 184.97L97.79 184.84L97.78 184.4L97.32 184.32L97.04 184.09L96.55 184.02L96.36 183.72L96.44 183.21L96.19 182.96L96.06 182.61L95.97 182.24L95.8 181.93L95.28 181.87L95.29 181.43L95.39 180.92L94.91 180.83L94.66 180.58L94.46 180.28L94.23 180.02L93.91 179.81L94.05 179.29L93.89 178.97L93.82 178.6L93.54 178.36L93.57 177.92L93.23 177.73L93.01 177.45L92.61 177.29L92.3 177.06L91.77 176.98L91.85 176.51L91.67 176.21L91.38 175.97L91.4 175.54L91.16 175.28L91.23 174.83L91 174.55L90.66 174.34L90.41 174.08L90.35 173.71L90.03 173.48L89.66 173.28L89.77 172.82L89.68 172.47L89.41 172.21L89 172.03L89.42 171.41L89.13 171.16L88.79 170.94L88.79 170.55L88.74 170.18L88.37 169.97L88.22 169.65L88.29 169.23L87.7 169.12L87.55 168.8L87.62 168.38L87.34 168.11L87.03 167.87L87.08 167.46L86.95 167.13L86.95 166.74L87.07 166.31L86.88 166.01L86.95 165.6L87.01 165.19L86.38 165.07L86.24 164.75L86.07 164.44L85.94 164.11L85.88 163.76L85.8 163.41L85.92 162.99L85.48 162.78L85.52 162.39L85.29 162.1L85.02 161.83L84.83 161.52L85.03 161.08L84.89 160.75L84.43 160.54L84.35 160.2L84.68 159.71L84.34 159.46L84.3 159.1L84.21 158.76L84.2 158.39L83.75 158.17L83.61 157.84L83.65 157.46L83.28 157.21L83 156.92L83.46 156.42L83.22 156.12L83.44 155.7L83.15 155.41L83.11 155.06L82.64 154.82L82.71 154.44L82.42 154.15L82.53 153.76L82.56 153.39L82.26 153.1L81.81 152.84L81.78 152.48L81.44 152.2L81.5 151.82L81.68 151.42L81.6 151.07L81.51 150.73L81.63 150.35L81.94 149.93L81.57 149.64L81.32 149.33L81.12 149.01L80.85 148.7L80.77 148.35L81.19 147.92L81.12 147.57L81.08 147.22L81.29 146.83L81.11 146.5L81.18 146.14L80.79 145.84L80.51 145.52L80.27 145.2L80.47 144.81L80.64 144.43L80.81 144.06L80.58 143.73L80.7 143.36L80.3 143.05L80.5 142.68L80.45 142.33L80.53 141.96L80.54 141.61L80.58 141.25L80.87 140.88L80.59 140.55L80.43 140.21L79.84 139.9L79.96 139.53L79.34 139.22L79.73 138.84L79.13 138.51L79.35 138.15L78.48 137.83L78.75 137.46L78.01 137.12L78.67 136.74L78.64 136.38L78.09 136.04L79.24 135.66L79.32 135.3L79.44 134.94L79.75 134.59L79.93 134.23L80.11 133.88" fill="none" stroke="#3a2224" stroke-width="0.55" stroke-linejoin="round"/>
<path d="M79.76 132.89L80.12 132.55L80.79 132.21L80.87 131.87L81.46 131.54L81.13 131.18L81.89 130.86L82.02 130.53L82.2 130.19L81.34 129.8L81.43 129.46L81.31 129.1L81.2 128.75L81.24 128.4L80.97 128.03L80.68 127.66L80.77 127.31L80.18 126.9L80.06 126.54L80.08 126.19L80.26 125.85L80.4 125.51L80.36 125.15L80.98 124.87L81.04 124.52L81.04 124.17L80.89 123.8L80.98 123.45L81.23 123.14L81.46 122.81L81.52 122.47L81.11 122.05L81.29 121.73L81.42 121.39L81 120.97L81.09 120.62L81.34 120.31L81.51 119.98L81.58 119.64L82.06 119.37L81.48 118.9L81.88 118.62L81.82 118.25L81.85 117.9L81.39 117.44L81.78 117.17L82.06 116.87L82.14 116.53L82.22 116.18L82.24 115.83L82.59 115.55L82.34 115.13L82.4 114.78L82.84 114.53L83.19 114.26L83.21 113.9L83.44 113.6L83.32 113.21L83.76 112.96L83.78 112.61L83.81 112.25L83.64 111.84L83.84 111.53L83.93 111.2L83.52 110.71L83.87 110.44L83.8 110.05L84.13 109.79L84 109.38L84.37 109.13L84.45 108.79L84.43 108.41L84.9 108.2L84.78 107.79L84.82 107.43L84.97 107.11L85.06 106.77L85.01 106.38L85.03 106.01L85.22 105.7L85.35 105.37L85.55 105.07L85.7 104.76L85.73 104.39L85.89 104.07L85.78 103.65L86.41 103.52L86.24 103.08L86.48 102.79L86.44 102.39L87.01 102.26L86.89 101.82L86.92 101.45L87.12 101.15L87.34 100.86L87.52 100.56L87.6 100.21L88.15 100.08L87.99 99.61L88.41 99.43L88.66 99.16L88.98 98.93L88.91 98.5L89.12 98.22L89.17 97.85L89.02 97.38L89.32 97.14L89.17 96.66L89.52 96.45L89.94 96.27L90.22 96.03L90.31 95.68L90.39 95.32L90.4 94.92L90.44 94.54L90.6 94.22L91.02 94.06L91.02 93.66L91.35 93.44L91.43 93.08L91.69 92.83L91.7 92.42L91.57 91.92L92.01 91.78L92.14 91.44L92.32 91.14L92.82 91.04L93.07 90.78L93.47 90.63L93.39 90.16L93.78 89.99L93.86 89.62L93.9 89.23L93.8 88.73L94.09 88.5L94.25 88.19L94.57 87.98L95.05 87.89L95.08 87.47L95.01 86.99L95.11 86.63L95.42 86.41L95.39 85.95L95.63 85.69L96.11 85.61L96.71 85.62L96.81 85.26L96.97 84.93L97.61 84.99L97.5 84.45L97.88 84.31L98.24 84.15L98.26 83.72L98.27 83.27L98.69 83.16L98.89 82.87L98.98 82.49L99.3 82.3L99.43 81.94L99.77 81.77L99.86 81.39L100.3 81.3L100.25 80.79L100.49 80.53L100.93 80.45L101.13 80.16L101.29 79.82L101.7 79.73L101.88 79.41L102.26 79.3L102.39 78.94L102.75 78.79L103.05 78.59L103.19 78.24L103.28 77.84L103.82 77.87L103.89 77.45L103.89 76.95L104.4 76.97L104.27 76.33L104.7 76.26L105.03 76.1L105.35 75.93L105.31 75.37L105.7 75.27L106.17 75.26L106.45 75.05L106.61 74.7L106.82 74.41L107.21 74.32L107.28 73.87L107.34 73.4L107.83 73.43L108.13 73.23L108.13 72.69L108.45 72.52L109.08 72.73L109.32 72.46L109.46 72.08L109.89 72.05L110.09 71.74L110.14 71.23L110.41 71.01L110.67 70.77L110.92 70.52L111.01 70.05L111.35 69.91L111.55 69.58L111.85 69.4L112.31 69.42L112.48 69.05L113.06 69.25L113.46 69.2L113.72 68.95L113.92 68.63L114.32 68.6L114.44 68.14L114.8 68.05L115.23 68.05L115.57 67.93L115.8 67.64L116.17 67.56L116.21 66.99L116.5 66.78L116.87 66.71L117.27 66.67L117.57 66.49L117.91 66.38L118.03 65.9L118.45 65.92L118.7 65.65L119.07 65.59L119.38 65.41L119.58 65.06L119.99 65.08L120.16 64.66L120.37 64.32L120.65 64.1L121.03 64.06L121.25 63.72L121.69 63.79L122.04 63.69L122.34 63.52L122.65 63.35L122.99 63.23L123.26 62.99L123.58 62.84L123.83 62.56L124 62.12L124.47 62.25L124.74 62.02L125.19 62.13L125.54 62.04L126.04 62.28L126.23 61.86L126.63 61.88L126.8 61.41L127.19 61.42L127.32 60.85L127.49 60.38L127.91 60.45L128.24 60.32L128.55 60.16L128.97 60.24L129.4 60.34L129.65 60.03L130.06 60.1L130.41 60.03L130.75 59.93L130.99 59.59L131.28 59.36L131.58 59.18L131.9 59.01L132.14 58.65L132.55 58.75L132.84 58.51L133.27 58.66L133.54 58.37L133.99 58.58L134.33 58.49L134.63 58.29L135.02 58.35L135.31 58.11L135.56 57.74L135.94 57.76L136.34 57.86L136.6 57.53L136.92 57.35L137.29 57.35L137.67 57.4L137.91 56.96L138.36 57.28L138.57 56.71L138.98 56.89L139.42 57.16L139.74 56.98L140.08 56.91L140.43 56.88L140.76 56.72L141.05 56.45L141.46 56.65L141.75 56.36L142.13 56.45L142.51 56.52L142.87 56.52L143.13 56.11L143.38 55.58L143.74 55.57L144.02 55.18L144.91 59.49A76.4 76.4 0 0 0 84.01 132.97Z" fill="#e0818a"/><path d="M79.76 132.89L80.12 132.55L80.79 132.21L80.87 131.87L81.46 131.54L81.13 131.18L81.89 130.86L82.02 130.53L82.2 130.19L81.34 129.8L81.43 129.46L81.31 129.1L81.2 128.75L81.24 128.4L80.97 128.03L80.68 127.66L80.77 127.31L80.18 126.9L80.06 126.54L80.08 126.19L80.26 125.85L80.4 125.51L80.36 125.15L80.98 124.87L81.04 124.52L81.04 124.17L80.89 123.8L80.98 123.45L81.23 123.14L81.46 122.81L81.52 122.47L81.11 122.05L81.29 121.73L81.42 121.39L81 120.97L81.09 120.62L81.34 120.31L81.51 119.98L81.58 119.64L82.06 119.37L81.48 118.9L81.88 118.62L81.82 118.25L81.85 117.9L81.39 117.44L81.78 117.17L82.06 116.87L82.14 116.53L82.22 116.18L82.24 115.83L82.59 115.55L82.34 115.13L82.4 114.78L82.84 114.53L83.19 114.26L83.21 113.9L83.44 113.6L83.32 113.21L83.76 112.96L83.78 112.61L83.81 112.25L83.64 111.84L83.84 111.53L83.93 111.2L83.52 110.71L83.87 110.44L83.8 110.05L84.13 109.79L84 109.38L84.37 109.13L84.45 108.79L84.43 108.41L84.9 108.2L84.78 107.79L84.82 107.43L84.97 107.11L85.06 106.77L85.01 106.38L85.03 106.01L85.22 105.7L85.35 105.37L85.55 105.07L85.7 104.76L85.73 104.39L85.89 104.07L85.78 103.65L86.41 103.52L86.24 103.08L86.48 102.79L86.44 102.39L87.01 102.26L86.89 101.82L86.92 101.45L87.12 101.15L87.34 100.86L87.52 100.56L87.6 100.21L88.15 100.08L87.99 99.61L88.41 99.43L88.66 99.16L88.98 98.93L88.91 98.5L89.12 98.22L89.17 97.85L89.02 97.38L89.32 97.14L89.17 96.66L89.52 96.45L89.94 96.27L90.22 96.03L90.31 95.68L90.39 95.32L90.4 94.92L90.44 94.54L90.6 94.22L91.02 94.06L91.02 93.66L91.35 93.44L91.43 93.08L91.69 92.83L91.7 92.42L91.57 91.92L92.01 91.78L92.14 91.44L92.32 91.14L92.82 91.04L93.07 90.78L93.47 90.63L93.39 90.16L93.78 89.99L93.86 89.62L93.9 89.23L93.8 88.73L94.09 88.5L94.25 88.19L94.57 87.98L95.05 87.89L95.08 87.47L95.01 86.99L95.11 86.63L95.42 86.41L95.39 85.95L95.63 85.69L96.11 85.61L96.71 85.62L96.81 85.26L96.97 84.93L97.61 84.99L97.5 84.45L97.88 84.31L98.24 84.15L98.26 83.72L98.27 83.27L98.69 83.16L98.89 82.87L98.98 82.49L99.3 82.3L99.43 81.94L99.77 81.77L99.86 81.39L100.3 81.3L100.25 80.79L100.49 80.53L100.93 80.45L101.13 80.16L101.29 79.82L101.7 79.73L101.88 79.41L102.26 79.3L102.39 78.94L102.75 78.79L103.05 78.59L103.19 78.24L103.28 77.84L103.82 77.87L103.89 77.45L103.89 76.95L104.4 76.97L104.27 76.33L104.7 76.26L105.03 76.1L105.35 75.93L105.31 75.37L105.7 75.27L106.17 75.26L106.45 75.05L106.61 74.7L106.82 74.41L107.21 74.32L107.28 73.87L107.34 73.4L107.83 73.43L108.13 73.23L108.13 72.69L108.45 72.52L109.08 72.73L109.32 72.46L109.46 72.08L109.89 72.05L110.09 71.74L110.14 71.23L110.41 71.01L110.67 70.77L110.92 70.52L111.01 70.05L111.35 69.91L111.55 69.58L111.85 69.4L112.31 69.42L112.48 69.05L113.06 69.25L113.46 69.2L113.72 68.95L113.92 68.63L114.32 68.6L114.44 68.14L114.8 68.05L115.23 68.05L115.57 67.93L115.8 67.64L116.17 67.56L116.21 66.99L116.5 66.78L116.87 66.71L117.27 66.67L117.57 66.49L117.91 66.38L118.03 65.9L118.45 65.92L118.7 65.65L119.07 65.59L119.38 65.41L119.58 65.06L119.99 65.08L120.16 64.66L120.37 64.32L120.65 64.1L121.03 64.06L121.25 63.72L121.69 63.79L122.04 63.69L122.34 63.52L122.65 63.35L122.99 63.23L123.26 62.99L123.58 62.84L123.83 62.56L124 62.12L124.47 62.25L124.74 62.02L125.19 62.13L125.54 62.04L126.04 62.28L126.23 61.86L126.63 61.88L126.8 61.41L127.19 61.42L127.32 60.85L127.49 60.38L127.91 60.45L128.24 60.32L128.55 60.16L128.97 60.24L129.4 60.34L129.65 60.03L130.06 60.1L130.41 60.03L130.75 59.93L130.99 59.59L131.28 59.36L131.58 59.18L131.9 59.01L132.14 58.65L132.55 58.75L132.84 58.51L133.27 58.66L133.54 58.37L133.99 58.58L134.33 58.49L134.63 58.29L135.02 58.35L135.31 58.11L135.56 57.74L135.94 57.76L136.34 57.86L136.6 57.53L136.92 57.35L137.29 57.35L137.67 57.4L137.91 56.96L138.36 57.28L138.57 56.71L138.98 56.89L139.42 57.16L139.74 56.98L140.08 56.91L140.43 56.88L140.76 56.72L141.05 56.45L141.46 56.65L141.75 56.36L142.13 56.45L142.51 56.52L142.87 56.52L143.13 56.11L143.38 55.58L143.74 55.57L144.02 55.18" fill="none" stroke="#3a2224" stroke-width="0.55" stroke-linejoin="round"/>
<path d="M144.95 54.79L145.35 54.7L145.83 55.06L146.22 54.93L146.63 54.88L147.08 55.09L147.51 55.17L147.92 55.16L148.27 54.8L148.71 54.96L149.11 54.91L149.45 54.39L150.03 58.61A76.4 76.4 0 0 0 145.82 59.3Z" fill="#e0818a"/><path d="M144.95 54.79L145.35 54.7L145.83 55.06L146.22 54.93L146.63 54.88L147.08 55.09L147.51 55.17L147.92 55.16L148.27 54.8L148.71 54.96L149.11 54.91L149.45 54.39" fill="none" stroke="#3a2224" stroke-width="0.55" stroke-linejoin="round"/>
<path d="M202.45 69.55L206.8 62.85M217.77 82.64L221.49 79.3M232.94 107.9L238.58 105.84M220.4 182.88L225.84 187.29M208.46 194.72L214.06 201.76M126.56 203.69L123.93 209.08M93.54 95.7L90.08 93.7" stroke="#3a3226" stroke-width="0.45" fill="none"/>
<path d="M160.4 64.39L160.71 64.48L161.01 64.28L161.32 64.5L161.62 64.8L161.93 64.53L162.23 64.55L162.53 64.9L162.84 64.61L163.14 64.81L163.46 64.41L163.77 64.41L164.08 64.3L164.38 64.52L164.68 64.59L164.98 64.67L165.32 64.23L165.61 64.48L165.91 64.52L166.24 64.3L166.51 64.7L166.81 64.78L167.16 64.41L167.48 64.27L167.77 64.49L168.08 64.47L168.36 64.68L168.66 64.82L168.99 64.64L169.29 64.7L169.61 64.64L169.93 64.55L170.21 64.74L170.48 65.02L170.77 65.16L171.05 65.4L171.36 65.34L171.69 65.26L171.92 65.74L172.26 65.53L172.49 65.98L172.82 65.9L173.08 66.14L173.42 65.98L173.79 65.66L174.09 65.76L174.43 65.62L174.73 65.69L174.99 65.92L175.34 65.75L175.58 66.11L175.89 66.09L176.12 66.49L176.5 66.18L176.73 66.55L177.11 66.27L177.36 66.57L177.75 66.27L178 66.51L178.25 66.75L178.56 66.8L178.93 66.62L179.07 67.26L179.47 66.95L179.71 67.23L179.99 67.36L180.36 67.2L180.64 67.32L180.93 67.42L181.23 67.48L181.47 67.76L181.71 68L181.92 68.35L182.21 68.44L182.65 68.08L182.91 68.26L183.32 68.01L183.68 67.93L183.91 68.18L184.23 68.22L184.31 68.89L184.68 68.75L185.02 68.74L185.27 68.92L185.58 68.97L185.84 69.15L186.13 69.27L186.4 69.4L186.65 69.62L186.97 69.64L187.31 69.62L187.64 69.61L187.83 69.97L188.25 69.75L188.37 70.25L188.74 70.17L188.86 70.66L189.29 70.45L189.61 70.49L189.84 70.71L190.21 70.65L190.43 70.9L190.65 71.15L191.15 70.83L191.45 70.93L191.69 71.14L192.07 71.07L192.21 71.46L192.5 71.57L192.71 71.85L192.96 72.03L193.27 72.12L193.51 72.3L193.72 72.57L194.14 72.44L194.24 72.91L194.37 73.3L194.67 73.39L194.85 73.69L194.99 74.05L195.43 73.9L195.69 74.06L195.92 74.29L196.11 74.55L196.6 74.34L196.73 74.72L196.93 74.98L197.04 75.37L197.29 75.54L197.75 75.39L198.08 75.44L198.35 75.58L198.56 75.82L198.89 75.88L199.19 75.98L199.24 76.45L199.6 76.46L200.05 76.36L200.34 76.47L200.62 76.61L200.83 76.84L201.12 76.97L201.25 77.32L201.35 77.71L201.64 77.82L201.93 77.95L202.15 78.17L202.32 78.44L202.87 78.23L203.16 78.36L203.38 78.58L203.5 78.93L203.87 78.96L203.82 79.51L204.15 79.59L204.41 79.76L204.67 79.92L204.75 80.31L205.33 80.09L205.59 80.26L205.73 80.57L205.67 81.12L205.94 81.27L206.28 81.34L206.57 81.48L206.62 81.89L206.88 82.06L207.29 82.06L207.39 82.41L207.38 82.87L207.77 82.91L208.04 83.06L208.47 83.05L208.46 83.51L208.77 83.63L208.95 83.88L208.89 84.38L209.02 84.68L209.53 84.6L209.77 84.8L209.96 85.04L210.16 85.27L210.7 85.17L210.6 85.7L210.9 85.83L211.02 86.14L211.34 86.26L211.49 86.54L211.61 86.84L211.74 87.15L211.9 87.41L212.35 87.42L212.63 87.58L212.97 87.69L213.36 87.76L213.28 88.23L213.47 88.47L213.68 88.69L213.78 89.01L213.97 89.25L213.87 89.74L214.36 89.73L214.76 89.8L215.04 89.97L214.93 90.45L215.07 90.73L215.3 90.94L215.29 91.34L215.5 91.56L215.56 91.9L215.93 92L216.38 92.04L216.43 92.39L216.76 92.53L217 92.73L217.31 92.89L217.35 93.24L217.52 93.5L217.56 93.84L217.49 94.26L217.86 94.38L217.92 94.71L218.2 94.89L218.43 95.11L218.37 95.52L218.48 95.81L218.86 95.92L218.92 96.25L219.44 96.28L219.66 96.51L219.91 96.71L219.83 97.12L220.3 97.19L220.14 97.66L220.58 97.74L220.46 98.18L220.83 98.32L220.73 98.73L221.02 98.92L221.16 99.19L221.53 99.34L221.52 99.69L221.6 100L221.98 100.14L222.1 100.43L222.09 100.78L221.92 101.23L222.61 101.21L222.34 101.7L222.58 101.92L222.88 102.11L222.88 102.45L222.7 102.89L222.79 103.19L222.91 103.46L223.18 103.67L223.13 104.04L223.62 104.14L223.96 104.32L223.87 104.7L223.9 105.02L224.01 105.31L223.76 105.76L223.95 106.01L224.02 106.31L224.5 106.43L224.28 106.86L224.82 106.96L224.91 107.26L225.21 107.46L225.3 107.76L225.44 108.04L225.42 108.37L225.31 108.75L225.37 109.05L225.74 109.24L225.91 109.5L225.91 109.83L225.97 110.13L226.24 110.36L225.86 110.82L226.15 111.04L226.25 111.33L226.57 111.54L226.49 111.9L226.49 112.22L226.87 112.41L226.84 112.75L226.54 113.16L226.71 113.43L227.35 113.55L227.24 113.9L227.22 114.23L227.61 114.43L227.68 114.73L227.69 115.05L227.84 115.32L228.11 115.57L228.12 115.88L228.25 116.17L228.24 116.49L227.99 116.87L228.27 117.11L228.06 117.48L228.35 117.73L228.22 118.07L229.19 118.16L229.29 118.45L229.74 118.67L229.72 118.99L229.84 119.28L228.86 119.81L229.06 120.08L223.07 121.32A64 64 0 0 0 160.4 70.3Z" fill="#7190c0"/><path d="M160.4 64.39L160.71 64.48L161.01 64.28L161.32 64.5L161.62 64.8L161.93 64.53L162.23 64.55L162.53 64.9L162.84 64.61L163.14 64.81L163.46 64.41L163.77 64.41L164.08 64.3L164.38 64.52L164.68 64.59L164.98 64.67L165.32 64.23L165.61 64.48L165.91 64.52L166.24 64.3L166.51 64.7L166.81 64.78L167.16 64.41L167.48 64.27L167.77 64.49L168.08 64.47L168.36 64.68L168.66 64.82L168.99 64.64L169.29 64.7L169.61 64.64L169.93 64.55L170.21 64.74L170.48 65.02L170.77 65.16L171.05 65.4L171.36 65.34L171.69 65.26L171.92 65.74L172.26 65.53L172.49 65.98L172.82 65.9L173.08 66.14L173.42 65.98L173.79 65.66L174.09 65.76L174.43 65.62L174.73 65.69L174.99 65.92L175.34 65.75L175.58 66.11L175.89 66.09L176.12 66.49L176.5 66.18L176.73 66.55L177.11 66.27L177.36 66.57L177.75 66.27L178 66.51L178.25 66.75L178.56 66.8L178.93 66.62L179.07 67.26L179.47 66.95L179.71 67.23L179.99 67.36L180.36 67.2L180.64 67.32L180.93 67.42L181.23 67.48L181.47 67.76L181.71 68L181.92 68.35L182.21 68.44L182.65 68.08L182.91 68.26L183.32 68.01L183.68 67.93L183.91 68.18L184.23 68.22L184.31 68.89L184.68 68.75L185.02 68.74L185.27 68.92L185.58 68.97L185.84 69.15L186.13 69.27L186.4 69.4L186.65 69.62L186.97 69.64L187.31 69.62L187.64 69.61L187.83 69.97L188.25 69.75L188.37 70.25L188.74 70.17L188.86 70.66L189.29 70.45L189.61 70.49L189.84 70.71L190.21 70.65L190.43 70.9L190.65 71.15L191.15 70.83L191.45 70.93L191.69 71.14L192.07 71.07L192.21 71.46L192.5 71.57L192.71 71.85L192.96 72.03L193.27 72.12L193.51 72.3L193.72 72.57L194.14 72.44L194.24 72.91L194.37 73.3L194.67 73.39L194.85 73.69L194.99 74.05L195.43 73.9L195.69 74.06L195.92 74.29L196.11 74.55L196.6 74.34L196.73 74.72L196.93 74.98L197.04 75.37L197.29 75.54L197.75 75.39L198.08 75.44L198.35 75.58L198.56 75.82L198.89 75.88L199.19 75.98L199.24 76.45L199.6 76.46L200.05 76.36L200.34 76.47L200.62 76.61L200.83 76.84L201.12 76.97L201.25 77.32L201.35 77.71L201.64 77.82L201.93 77.95L202.15 78.17L202.32 78.44L202.87 78.23L203.16 78.36L203.38 78.58L203.5 78.93L203.87 78.96L203.82 79.51L204.15 79.59L204.41 79.76L204.67 79.92L204.75 80.31L205.33 80.09L205.59 80.26L205.73 80.57L205.67 81.12L205.94 81.27L206.28 81.34L206.57 81.48L206.62 81.89L206.88 82.06L207.29 82.06L207.39 82.41L207.38 82.87L207.77 82.91L208.04 83.06L208.47 83.05L208.46 83.51L208.77 83.63L208.95 83.88L208.89 84.38L209.02 84.68L209.53 84.6L209.77 84.8L209.96 85.04L210.16 85.27L210.7 85.17L210.6 85.7L210.9 85.83L211.02 86.14L211.34 86.26L211.49 86.54L211.61 86.84L211.74 87.15L211.9 87.41L212.35 87.42L212.63 87.58L212.97 87.69L213.36 87.76L213.28 88.23L213.47 88.47L213.68 88.69L213.78 89.01L213.97 89.25L213.87 89.74L214.36 89.73L214.76 89.8L215.04 89.97L214.93 90.45L215.07 90.73L215.3 90.94L215.29 91.34L215.5 91.56L215.56 91.9L215.93 92L216.38 92.04L216.43 92.39L216.76 92.53L217 92.73L217.31 92.89L217.35 93.24L217.52 93.5L217.56 93.84L217.49 94.26L217.86 94.38L217.92 94.71L218.2 94.89L218.43 95.11L218.37 95.52L218.48 95.81L218.86 95.92L218.92 96.25L219.44 96.28L219.66 96.51L219.91 96.71L219.83 97.12L220.3 97.19L220.14 97.66L220.58 97.74L220.46 98.18L220.83 98.32L220.73 98.73L221.02 98.92L221.16 99.19L221.53 99.34L221.52 99.69L221.6 100L221.98 100.14L222.1 100.43L222.09 100.78L221.92 101.23L222.61 101.21L222.34 101.7L222.58 101.92L222.88 102.11L222.88 102.45L222.7 102.89L222.79 103.19L222.91 103.46L223.18 103.67L223.13 104.04L223.62 104.14L223.96 104.32L223.87 104.7L223.9 105.02L224.01 105.31L223.76 105.76L223.95 106.01L224.02 106.31L224.5 106.43L224.28 106.86L224.82 106.96L224.91 107.26L225.21 107.46L225.3 107.76L225.44 108.04L225.42 108.37L225.31 108.75L225.37 109.05L225.74 109.24L225.91 109.5L225.91 109.83L225.97 110.13L226.24 110.36L225.86 110.82L226.15 111.04L226.25 111.33L226.57 111.54L226.49 111.9L226.49 112.22L226.87 112.41L226.84 112.75L226.54 113.16L226.71 113.43L227.35 113.55L227.24 113.9L227.22 114.23L227.61 114.43L227.68 114.73L227.69 115.05L227.84 115.32L228.11 115.57L228.12 115.88L228.25 116.17L228.24 116.49L227.99 116.87L228.27 117.11L228.06 117.48L228.35 117.73L228.22 118.07L229.19 118.16L229.29 118.45L229.74 118.67L229.72 118.99L229.84 119.28L228.86 119.81L229.06 120.08" fill="none" stroke="#1e2638" stroke-width="0.55" stroke-linejoin="round"/>
<path d="M229.4 120.89L229.48 121.19L229.63 121.48L229.51 121.82L229.23 122.19L229.64 122.44L229.27 122.82L229.05 123.17L229.27 123.45L229.17 123.78L229.05 124.11L229.28 124.39L229.11 124.72L229.33 125.01L229.77 125.26L229.53 125.61L229.75 125.89L230.36 126.14L230.1 126.48L230.23 126.78L230.28 127.09L230.04 127.43L230.37 127.71L230.06 128.06L230.11 128.36L230.17 128.67L230.55 128.96L230.38 129.28L230.11 129.62L230.03 129.93L230.09 130.24L230.28 130.54L230.1 130.86L230.42 131.16L230.16 131.48L229.87 131.81L229.79 132.12L229.69 132.43L230.14 132.73L230.48 133.04L230.35 133.35L230.41 133.66L230.62 133.97L230.5 134.29L230.16 134.6L230.13 134.91L230.24 135.22L230.42 135.54L230.36 135.85L230.29 136.16L230.56 136.48L230.16 136.78L230.48 137.1L230.25 137.4L230.07 137.71L224.32 137.43A64 64 0 0 0 223.22 122.09Z" fill="#7190c0"/><path d="M229.4 120.89L229.48 121.19L229.63 121.48L229.51 121.82L229.23 122.19L229.64 122.44L229.27 122.82L229.05 123.17L229.27 123.45L229.17 123.78L229.05 124.11L229.28 124.39L229.11 124.72L229.33 125.01L229.77 125.26L229.53 125.61L229.75 125.89L230.36 126.14L230.1 126.48L230.23 126.78L230.28 127.09L230.04 127.43L230.37 127.71L230.06 128.06L230.11 128.36L230.17 128.67L230.55 128.96L230.38 129.28L230.11 129.62L230.03 129.93L230.09 130.24L230.28 130.54L230.1 130.86L230.42 131.16L230.16 131.48L229.87 131.81L229.79 132.12L229.69 132.43L230.14 132.73L230.48 133.04L230.35 133.35L230.41 133.66L230.62 133.97L230.5 134.29L230.16 134.6L230.13 134.91L230.24 135.22L230.42 135.54L230.36 135.85L230.29 136.16L230.56 136.48L230.16 136.78L230.48 137.1L230.25 137.4L230.07 137.71" fill="none" stroke="#1e2638" stroke-width="0.55" stroke-linejoin="round"/>
<path d="M230.07 138.56L230.35 138.89L230.27 139.19L230.15 139.49L230.33 139.81L230.38 140.13L230.5 140.45L230.12 140.72L230.29 141.05L230.11 141.34L229.85 141.62L229.91 141.94L229.73 142.23L229.87 142.56L230.18 142.9L230 143.19L230.13 143.52L230.18 143.84L230.1 144.14L229.76 144.41L229.74 144.71L229.7 145.02L229.67 145.33L229.4 145.6L229.74 145.96L229.37 146.22L229.42 146.54L229.7 146.9L229.79 147.23L229.31 147.46L229.46 147.8L228.94 148.01L228.94 148.33L229.11 148.68L229.3 149.03L228.72 149.22L228.99 149.6L228.85 149.89L228.8 150.19L228.77 150.5L228.69 150.8L228.46 151.06L228.32 151.34L228.51 151.71L228.46 152.02L228.32 152.3L227.94 152.52L228 152.85L227.87 153.14L227.88 153.46L228.13 153.85L228.33 154.24L228.36 154.57L228.11 154.82L227.83 155.06L227.75 155.36L227.44 155.59L227.55 155.95L227.4 156.23L227.38 156.54L227.21 156.82L226.88 157.03L226.29 157.15L226.19 157.44L226.33 157.82L226.54 158.22L226.78 158.64L226.57 158.89L226.87 159.34L226.49 159.53L226.27 159.78L226.11 160.05L226.04 160.35L225.61 160.52L225.52 160.81L225.4 161.1L225.02 161.27L225.36 161.75L225.08 161.97L224.84 162.21L224.68 162.47L224.41 162.69L224.24 162.95L224.14 163.24L224.26 163.64L223.91 163.82L223.98 164.19L224.17 164.62L224.12 164.94L223.95 165.2L223.92 165.54L223.35 165.6L223.25 165.9L223.12 166.18L223.06 166.49L222.62 166.62L222.65 166.98L222.18 167.08L222.01 167.34L221.83 167.59L221.76 167.9L221.81 168.28L221.88 168.68L221.77 168.97L221.67 169.27L221.4 169.47L221.19 169.71L221.04 169.98L220.67 170.12L220.6 170.44L220.34 170.64L220.13 170.87L220.28 171.33L220.15 171.61L219.92 171.84L219.95 172.22L219.53 172.32L219.57 172.71L219.26 172.88L218.97 173.06L218.71 173.26L218.74 173.65L218.57 173.91L218.05 173.93L218.19 174.4L218.05 174.68L217.78 174.87L217.67 175.17L217.4 175.35L217.14 175.55L216.93 175.78L216.88 176.13L216.56 176.27L216.49 176.61L215.93 176.57L215.85 176.89L215.47 176.99L215.3 177.25L215.12 177.49L215.25 177.99L214.9 178.1L214.96 178.55L214.77 178.79L214.7 179.14L214.2 179.13L214.31 179.62L214.17 179.91L213.57 179.8L213.56 180.2L213.58 180.63L213.15 180.66L212.67 180.64L212.7 181.08L212.6 181.41L212.58 181.82L212.57 182.22L212.33 182.43L212.01 182.55L211.56 182.55L211.36 182.8L211.29 183.16L210.92 183.23L210.8 183.55L210.8 183.98L210.31 183.93L210.17 184.23L209.9 184.4L209.6 184.53L209.14 184.5L209.03 184.83L208.41 184.63L208.37 185.03L208.2 185.3L207.8 185.33L207.76 185.73L207.71 186.14L207.63 186.51L207.36 186.67L207.24 187L206.99 187.19L206.78 187.41L206.75 187.85L206.63 188.2L206.07 188.02L206.05 188.47L205.77 188.63L205.38 188.65L204.88 188.52L204.75 188.86L204.28 188.76L204.07 188.99L203.63 188.94L203.41 189.15L203.45 189.7L203.2 189.89L202.93 190.04L202.82 190.4L202.56 190.57L202.11 190.48L201.99 190.84L201.6 190.83L201.35 191.02L201.08 191.17L201.17 191.82L200.68 191.67L200.53 191.99L200.33 192.24L199.7 191.86L199.15 191.59L199.17 192.18L198.49 191.71L198.17 191.77L198.15 192.29L198.32 193.12L198.18 193.48L197.81 193.47L197.85 194.11L197.46 194.07L194.13 188.69A64 64 0 0 0 224.28 138.21Z" fill="#7190c0"/><path d="M230.07 138.56L230.35 138.89L230.27 139.19L230.15 139.49L230.33 139.81L230.38 140.13L230.5 140.45L230.12 140.72L230.29 141.05L230.11 141.34L229.85 141.62L229.91 141.94L229.73 142.23L229.87 142.56L230.18 142.9L230 143.19L230.13 143.52L230.18 143.84L230.1 144.14L229.76 144.41L229.74 144.71L229.7 145.02L229.67 145.33L229.4 145.6L229.74 145.96L229.37 146.22L229.42 146.54L229.7 146.9L229.79 147.23L229.31 147.46L229.46 147.8L228.94 148.01L228.94 148.33L229.11 148.68L229.3 149.03L228.72 149.22L228.99 149.6L228.85 149.89L228.8 150.19L228.77 150.5L228.69 150.8L228.46 151.06L228.32 151.34L228.51 151.71L228.46 152.02L228.32 152.3L227.94 152.52L228 152.85L227.87 153.14L227.88 153.46L228.13 153.85L228.33 154.24L228.36 154.57L228.11 154.82L227.83 155.06L227.75 155.36L227.44 155.59L227.55 155.95L227.4 156.23L227.38 156.54L227.21 156.82L226.88 157.03L226.29 157.15L226.19 157.44L226.33 157.82L226.54 158.22L226.78 158.64L226.57 158.89L226.87 159.34L226.49 159.53L226.27 159.78L226.11 160.05L226.04 160.35L225.61 160.52L225.52 160.81L225.4 161.1L225.02 161.27L225.36 161.75L225.08 161.97L224.84 162.21L224.68 162.47L224.41 162.69L224.24 162.95L224.14 163.24L224.26 163.64L223.91 163.82L223.98 164.19L224.17 164.62L224.12 164.94L223.95 165.2L223.92 165.54L223.35 165.6L223.25 165.9L223.12 166.18L223.06 166.49L222.62 166.62L222.65 166.98L222.18 167.08L222.01 167.34L221.83 167.59L221.76 167.9L221.81 168.28L221.88 168.68L221.77 168.97L221.67 169.27L221.4 169.47L221.19 169.71L221.04 169.98L220.67 170.12L220.6 170.44L220.34 170.64L220.13 170.87L220.28 171.33L220.15 171.61L219.92 171.84L219.95 172.22L219.53 172.32L219.57 172.71L219.26 172.88L218.97 173.06L218.71 173.26L218.74 173.65L218.57 173.91L218.05 173.93L218.19 174.4L218.05 174.68L217.78 174.87L217.67 175.17L217.4 175.35L217.14 175.55L216.93 175.78L216.88 176.13L216.56 176.27L216.49 176.61L215.93 176.57L215.85 176.89L215.47 176.99L215.3 177.25L215.12 177.49L215.25 177.99L214.9 178.1L214.96 178.55L214.77 178.79L214.7 179.14L214.2 179.13L214.31 179.62L214.17 179.91L213.57 179.8L213.56 180.2L213.58 180.63L213.15 180.66L212.67 180.64L212.7 181.08L212.6 181.41L212.58 181.82L212.57 182.22L212.33 182.43L212.01 182.55L211.56 182.55L211.36 182.8L211.29 183.16L210.92 183.23L210.8 183.55L210.8 183.98L210.31 183.93L210.17 184.23L209.9 184.4L209.6 184.53L209.14 184.5L209.03 184.83L208.41 184.63L208.37 185.03L208.2 185.3L207.8 185.33L207.76 185.73L207.71 186.14L207.63 186.51L207.36 186.67L207.24 187L206.99 187.19L206.78 187.41L206.75 187.85L206.63 188.2L206.07 188.02L206.05 188.47L205.77 188.63L205.38 188.65L204.88 188.52L204.75 188.86L204.28 188.76L204.07 188.99L203.63 188.94L203.41 189.15L203.45 189.7L203.2 189.89L202.93 190.04L202.82 190.4L202.56 190.57L202.11 190.48L201.99 190.84L201.6 190.83L201.35 191.02L201.08 191.17L201.17 191.82L200.68 191.67L200.53 191.99L200.33 192.24L199.7 191.86L199.15 191.59L199.17 192.18L198.49 191.71L198.17 191.77L198.15 192.29L198.32 193.12L198.18 193.48L197.81 193.47L197.85 194.11L197.46 194.07" fill="none" stroke="#1e2638" stroke-width="0.55" stroke-linejoin="round"/>
<path d="M196.71 194.49L196.29 194.4L196.11 194.69L195.82 194.81L195.44 194.76L195.17 194.92L194.98 195.2L194.71 195.34L194.54 195.66L194.26 195.81L193.93 195.83L193.64 195.95L193.43 196.21L193.3 196.62L192.97 196.66L192.74 196.88L192.34 196.79L192.28 197.35L192.02 197.52L191.61 197.39L191.27 197.4L191 197.56L190.63 197.5L190.26 197.43L190.03 197.67L189.77 197.83L189.51 198L189.31 198.31L189.07 198.53L188.89 198.89L188.6 198.98L188.33 199.14L187.93 199.01L187.63 199.09L187.34 199.18L186.93 199L186.7 199.26L186.51 199.6L186.26 199.81L185.83 199.56L185.72 200.14L185.34 199.99L185.01 199.99L184.76 200.22L184.55 200.54L184.17 200.4L183.78 200.23L183.52 200.42L183.18 200.36L183.01 200.8L182.66 200.76L182.47 201.15L182.14 201.14L182 201.71L181.68 201.73L181.42 201.93L181.07 201.84L180.78 201.97L180.37 201.68L180.04 201.64L179.84 202.05L179.44 201.79L179.08 201.66L178.82 201.86L178.45 201.68L178.16 201.77L177.79 201.55L177.52 201.73L177.22 201.79L176.96 202.02L176.73 202.36L176.48 202.63L176.22 202.88L175.93 202.99L175.63 203.08L175.26 202.85L175.04 203.27L174.69 203.11L174.26 202.55L173.99 202.75L173.69 202.84L173.45 203.2L173.21 203.61L172.89 203.6L172.66 204.02L172.33 203.95L172 203.87L171.7 203.96L171.38 203.92L171.04 203.72L170.71 203.63L170.4 203.65L170.12 203.84L169.81 203.84L169.53 204.06L169.22 204.13L168.88 203.83L168.55 203.69L168.29 204.08L167.96 203.92L167.68 204.17L167.43 204.8L167.11 204.7L166.82 205.02L166.5 204.91L166.17 204.65L165.87 204.82L165.55 204.7L165.25 204.83L164.93 204.7L164.61 204.57L164.29 204.45L163.99 204.52L163.7 204.87L163.37 204.61L163.07 204.71L162.76 204.57L162.44 204.45L162.14 204.53L161.83 204.45L161.52 204.47L161.21 204.47L160.9 204.39L160.59 204.2L160.29 204.05L159.98 204.22L159.67 204.03L159.36 204.53L159.05 204.86L158.75 204.47L158.44 204.38L158.12 204.6L157.82 204.37L157.52 204.17L157.21 204.25L156.91 204.21L156.59 204.45L156.27 204.52L155.95 204.68L155.67 204.32L155.37 204.13L155.07 204.09L154.8 203.57L154.47 203.81L154.16 203.91L153.82 204.2L153.53 204.06L153.19 204.29L152.89 204.2L152.54 204.55L152.22 204.61L151.95 204.26L151.62 204.44L151.34 204.18L151.03 204.16L150.76 203.86L150.4 204.19L150.1 204.13L149.79 204.11L149.44 204.32L149.19 203.9L148.9 203.79L148.56 203.9L148.24 203.92L147.99 203.57L147.67 203.64L147.36 203.58L147.11 203.25L146.78 203.31L146.47 203.29L146.14 203.39L145.78 203.58L145.55 203.15L145.19 203.36L144.98 202.87L144.6 203.14L144.34 202.92L144.02 202.92L143.68 203.03L143.41 202.8L143.13 202.65L142.85 202.51L142.57 202.33L142.35 201.98L142.07 201.83L141.78 201.74L141.54 201.45L141.21 201.49L140.81 201.77L140.61 201.34L140.15 201.81L139.89 201.61L139.59 201.53L139.22 201.67L138.87 201.75L138.64 201.45L138.38 201.25L138.16 200.95L137.86 200.87L137.69 200.41L137.49 200.06L137.12 200.19L136.7 200.44L136.48 200.15L136.16 200.12L135.72 200.42L135.58 199.91L135.26 199.9L134.82 200.16L134.59 199.9L134.43 199.48L134.15 199.35L133.72 199.57L133.52 199.26L133.05 199.58L132.78 199.41L132.62 199.01L132.42 198.69L132.06 198.75L131.91 198.32L131.64 198.17L131.41 197.94L130.99 198.11L130.67 198.07L130.23 198.27L130 198.04L132.85 192.07A64 64 0 0 0 193.46 189.1Z" fill="#7190c0"/><path d="M196.71 194.49L196.29 194.4L196.11 194.69L195.82 194.81L195.44 194.76L195.17 194.92L194.98 195.2L194.71 195.34L194.54 195.66L194.26 195.81L193.93 195.83L193.64 195.95L193.43 196.21L193.3 196.62L192.97 196.66L192.74 196.88L192.34 196.79L192.28 197.35L192.02 197.52L191.61 197.39L191.27 197.4L191 197.56L190.63 197.5L190.26 197.43L190.03 197.67L189.77 197.83L189.51 198L189.31 198.31L189.07 198.53L188.89 198.89L188.6 198.98L188.33 199.14L187.93 199.01L187.63 199.09L187.34 199.18L186.93 199L186.7 199.26L186.51 199.6L186.26 199.81L185.83 199.56L185.72 200.14L185.34 199.99L185.01 199.99L184.76 200.22L184.55 200.54L184.17 200.4L183.78 200.23L183.52 200.42L183.18 200.36L183.01 200.8L182.66 200.76L182.47 201.15L182.14 201.14L182 201.71L181.68 201.73L181.42 201.93L181.07 201.84L180.78 201.97L180.37 201.68L180.04 201.64L179.84 202.05L179.44 201.79L179.08 201.66L178.82 201.86L178.45 201.68L178.16 201.77L177.79 201.55L177.52 201.73L177.22 201.79L176.96 202.02L176.73 202.36L176.48 202.63L176.22 202.88L175.93 202.99L175.63 203.08L175.26 202.85L175.04 203.27L174.69 203.11L174.26 202.55L173.99 202.75L173.69 202.84L173.45 203.2L173.21 203.61L172.89 203.6L172.66 204.02L172.33 203.95L172 203.87L171.7 203.96L171.38 203.92L171.04 203.72L170.71 203.63L170.4 203.65L170.12 203.84L169.81 203.84L169.53 204.06L169.22 204.13L168.88 203.83L168.55 203.69L168.29 204.08L167.96 203.92L167.68 204.17L167.43 204.8L167.11 204.7L166.82 205.02L166.5 204.91L166.17 204.65L165.87 204.82L165.55 204.7L165.25 204.83L164.93 204.7L164.61 204.57L164.29 204.45L163.99 204.52L163.7 204.87L163.37 204.61L163.07 204.71L162.76 204.57L162.44 204.45L162.14 204.53L161.83 204.45L161.52 204.47L161.21 204.47L160.9 204.39L160.59 204.2L160.29 204.05L159.98 204.22L159.67 204.03L159.36 204.53L159.05 204.86L158.75 204.47L158.44 204.38L158.12 204.6L157.82 204.37L157.52 204.17L157.21 204.25L156.91 204.21L156.59 204.45L156.27 204.52L155.95 204.68L155.67 204.32L155.37 204.13L155.07 204.09L154.8 203.57L154.47 203.81L154.16 203.91L153.82 204.2L153.53 204.06L153.19 204.29L152.89 204.2L152.54 204.55L152.22 204.61L151.95 204.26L151.62 204.44L151.34 204.18L151.03 204.16L150.76 203.86L150.4 204.19L150.1 204.13L149.79 204.11L149.44 204.32L149.19 203.9L148.9 203.79L148.56 203.9L148.24 203.92L147.99 203.57L147.67 203.64L147.36 203.58L147.11 203.25L146.78 203.31L146.47 203.29L146.14 203.39L145.78 203.58L145.55 203.15L145.19 203.36L144.98 202.87L144.6 203.14L144.34 202.92L144.02 202.92L143.68 203.03L143.41 202.8L143.13 202.65L142.85 202.51L142.57 202.33L142.35 201.98L142.07 201.83L141.78 201.74L141.54 201.45L141.21 201.49L140.81 201.77L140.61 201.34L140.15 201.81L139.89 201.61L139.59 201.53L139.22 201.67L138.87 201.75L138.64 201.45L138.38 201.25L138.16 200.95L137.86 200.87L137.69 200.41L137.49 200.06L137.12 200.19L136.7 200.44L136.48 200.15L136.16 200.12L135.72 200.42L135.58 199.91L135.26 199.9L134.82 200.16L134.59 199.9L134.43 199.48L134.15 199.35L133.72 199.57L133.52 199.26L133.05 199.58L132.78 199.41L132.62 199.01L132.42 198.69L132.06 198.75L131.91 198.32L131.64 198.17L131.41 197.94L130.99 198.11L130.67 198.07L130.23 198.27L130 198.04" fill="none" stroke="#1e2638" stroke-width="0.55" stroke-linejoin="round"/>
<path d="M129.22 197.66L128.88 197.64L128.7 197.33L128.42 197.18L127.91 197.5L127.9 196.84L127.6 196.76L127.24 196.77L127.15 196.29L126.87 196.15L126.46 196.26L126.37 195.78L126.2 195.46L125.73 195.66L125.61 195.24L125.28 195.2L124.76 195.49L124.63 195.08L124.28 195.07L124.14 194.7L123.87 194.55L123.66 194.31L123.48 194.01L123.09 194.04L122.84 193.87L122.62 193.65L122.31 193.55L122.05 193.38L121.92 193.02L121.6 192.95L121.26 192.89L120.92 192.85L120.78 192.5L120.25 192.73L120.04 192.48L119.7 192.43L119.62 192.01L119.5 191.64L119.11 191.65L118.85 191.48L118.53 191.4L118.37 191.09L118.03 191.02L117.97 190.59L117.68 190.45L117.53 190.14L117.37 189.85L117.12 189.66L117.06 189.25L116.81 189.06L116.42 189.06L116.07 189.01L115.7 188.97L115.59 188.62L115.31 188.47L115.16 188.16L115.02 187.85L114.91 187.51L114.51 187.51L114.27 187.31L114.16 186.96L113.9 186.8L113.69 186.57L113.62 186.19L113.2 186.2L113.01 185.95L112.58 185.95L112.37 185.73L112.3 185.35L112.18 185.03L111.91 184.87L111.56 184.79L111.23 184.69L111.2 184.27L110.74 184.3L110.47 184.13L110.39 183.79L110.2 183.53L109.82 183.48L109.66 183.2L109.26 183.16L109.11 182.87L109.1 182.45L108.96 182.16L108.8 181.89L108.35 181.88L108.14 181.65L108.15 181.24L107.82 181.11L107.57 180.92L107.67 180.42L107.39 180.26L107.08 180.12L106.97 179.8L106.82 179.53L106.55 179.35L106.3 179.16L106 179.01L105.72 178.84L105.72 178.44L105.18 178.48L105.17 178.1L104.8 177.99L104.64 177.72L104.4 177.51L104.55 177.01L104.6 176.59L104.4 176.35L104.07 176.21L103.85 175.99L103.41 175.93L103 175.85L102.93 175.52L102.91 175.15L102.77 174.87L102.42 174.74L102.51 174.3L102.5 173.93L101.86 173.99L101.98 173.54L101.48 173.5L101.22 173.3L100.9 173.14L101.06 172.66L101.03 172.31L101.24 171.81L101.01 171.59L101.17 171.13L100.69 171.07L100.49 170.83L100.25 170.62L100.03 170.39L99.55 170.32L99.53 169.97L99.47 169.64L99.55 169.24L99.37 168.99L99.01 168.84L98.91 168.54L98.88 168.2L98.42 168.11L98.07 167.94L98.06 167.59L97.74 167.41L97.92 166.97L97.81 166.68L97.54 166.47L97.5 166.14L97.23 165.93L96.95 165.72L97.06 165.32L97.1 164.96L96.78 164.77L96.79 164.42L96.81 164.07L96.47 163.89L96.14 163.7L96.09 163.38L95.8 163.18L95.84 162.82L95.61 162.58L95.87 162.13L95.94 161.76L95.82 161.48L95.26 161.38L95.46 160.97L95.17 160.75L95.15 160.42L94.89 160.2L94.85 159.88L94.29 159.76L94.37 159.4L94.31 159.09L94.43 158.72L94.15 158.49L94.29 158.12L94.44 157.73L94.44 157.41L94.45 157.08L94.03 156.9L94.36 156.46L94.14 156.22L93.83 155.99L93.4 155.81L93.25 155.53L93.11 155.25L92.79 155.03L92.78 154.71L92.78 154.38L92.54 154.13L92.69 153.77L92.75 153.43L92.85 153.08L92.67 152.81L92.88 152.43L92.47 152.22L92.39 151.93L92.11 151.68L92.5 151.27L92.37 150.98L92.41 150.65L92.22 150.38L92.52 150L92.17 149.77L91.96 149.5L92.02 149.17L92.09 148.84L92.08 148.53L92.45 148.14L92.24 147.87L91.85 147.64L91.72 147.35L91.35 147.11L91.29 146.81L91.01 146.54L91.09 146.22L91.03 145.91L90.73 145.65L91.05 145.29L91.22 144.95L90.92 144.68L90.58 144.42L90.77 144.08L90.5 143.81L90.63 143.48L90.7 143.16L91.01 142.81L90.74 142.53L90.76 142.22L90.72 141.91L90.85 141.59L90.8 141.29L90.75 140.98L90.54 140.69L90.33 140.4L90.11 140.11L90.22 139.79L90.32 139.48L90.63 139.15L90.76 138.83L91.16 138.5L90.98 138.2L90.86 137.91L91.05 137.59L91.31 137.27L90.57 137L91.36 136.67L91.08 136.37L91.35 136.06L90.98 135.76L91.91 135.44L91.21 135.15L91.14 134.85L91.03 134.55L91.1 134.24L90.46 133.93L96.4 133.96A64 64 0 0 0 132.14 191.72Z" fill="#7190c0"/><path d="M129.22 197.66L128.88 197.64L128.7 197.33L128.42 197.18L127.91 197.5L127.9 196.84L127.6 196.76L127.24 196.77L127.15 196.29L126.87 196.15L126.46 196.26L126.37 195.78L126.2 195.46L125.73 195.66L125.61 195.24L125.28 195.2L124.76 195.49L124.63 195.08L124.28 195.07L124.14 194.7L123.87 194.55L123.66 194.31L123.48 194.01L123.09 194.04L122.84 193.87L122.62 193.65L122.31 193.55L122.05 193.38L121.92 193.02L121.6 192.95L121.26 192.89L120.92 192.85L120.78 192.5L120.25 192.73L120.04 192.48L119.7 192.43L119.62 192.01L119.5 191.64L119.11 191.65L118.85 191.48L118.53 191.4L118.37 191.09L118.03 191.02L117.97 190.59L117.68 190.45L117.53 190.14L117.37 189.85L117.12 189.66L117.06 189.25L116.81 189.06L116.42 189.06L116.07 189.01L115.7 188.97L115.59 188.62L115.31 188.47L115.16 188.16L115.02 187.85L114.91 187.51L114.51 187.51L114.27 187.31L114.16 186.96L113.9 186.8L113.69 186.57L113.62 186.19L113.2 186.2L113.01 185.95L112.58 185.95L112.37 185.73L112.3 185.35L112.18 185.03L111.91 184.87L111.56 184.79L111.23 184.69L111.2 184.27L110.74 184.3L110.47 184.13L110.39 183.79L110.2 183.53L109.82 183.48L109.66 183.2L109.26 183.16L109.11 182.87L109.1 182.45L108.96 182.16L108.8 181.89L108.35 181.88L108.14 181.65L108.15 181.24L107.82 181.11L107.57 180.92L107.67 180.42L107.39 180.26L107.08 180.12L106.97 179.8L106.82 179.53L106.55 179.35L106.3 179.16L106 179.01L105.72 178.84L105.72 178.44L105.18 178.48L105.17 178.1L104.8 177.99L104.64 177.72L104.4 177.51L104.55 177.01L104.6 176.59L104.4 176.35L104.07 176.21L103.85 175.99L103.41 175.93L103 175.85L102.93 175.52L102.91 175.15L102.77 174.87L102.42 174.74L102.51 174.3L102.5 173.93L101.86 173.99L101.98 173.54L101.48 173.5L101.22 173.3L100.9 173.14L101.06 172.66L101.03 172.31L101.24 171.81L101.01 171.59L101.17 171.13L100.69 171.07L100.49 170.83L100.25 170.62L100.03 170.39L99.55 170.32L99.53 169.97L99.47 169.64L99.55 169.24L99.37 168.99L99.01 168.84L98.91 168.54L98.88 168.2L98.42 168.11L98.07 167.94L98.06 167.59L97.74 167.41L97.92 166.97L97.81 166.68L97.54 166.47L97.5 166.14L97.23 165.93L96.95 165.72L97.06 165.32L97.1 164.96L96.78 164.77L96.79 164.42L96.81 164.07L96.47 163.89L96.14 163.7L96.09 163.38L95.8 163.18L95.84 162.82L95.61 162.58L95.87 162.13L95.94 161.76L95.82 161.48L95.26 161.38L95.46 160.97L95.17 160.75L95.15 160.42L94.89 160.2L94.85 159.88L94.29 159.76L94.37 159.4L94.31 159.09L94.43 158.72L94.15 158.49L94.29 158.12L94.44 157.73L94.44 157.41L94.45 157.08L94.03 156.9L94.36 156.46L94.14 156.22L93.83 155.99L93.4 155.81L93.25 155.53L93.11 155.25L92.79 155.03L92.78 154.71L92.78 154.38L92.54 154.13L92.69 153.77L92.75 153.43L92.85 153.08L92.67 152.81L92.88 152.43L92.47 152.22L92.39 151.93L92.11 151.68L92.5 151.27L92.37 150.98L92.41 150.65L92.22 150.38L92.52 150L92.17 149.77L91.96 149.5L92.02 149.17L92.09 148.84L92.08 148.53L92.45 148.14L92.24 147.87L91.85 147.64L91.72 147.35L91.35 147.11L91.29 146.81L91.01 146.54L91.09 146.22L91.03 145.91L90.73 145.65L91.05 145.29L91.22 144.95L90.92 144.68L90.58 144.42L90.77 144.08L90.5 143.81L90.63 143.48L90.7 143.16L91.01 142.81L90.74 142.53L90.76 142.22L90.72 141.91L90.85 141.59L90.8 141.29L90.75 140.98L90.54 140.69L90.33 140.4L90.11 140.11L90.22 139.79L90.32 139.48L90.63 139.15L90.76 138.83L91.16 138.5L90.98 138.2L90.86 137.91L91.05 137.59L91.31 137.27L90.57 137L91.36 136.67L91.08 136.37L91.35 136.06L90.98 135.76L91.91 135.44L91.21 135.15L91.14 134.85L91.03 134.55L91.1 134.24L90.46 133.93" fill="none" stroke="#1e2638" stroke-width="0.55" stroke-linejoin="round"/>
<path d="M89.5 133.06L88.69 132.73L88.44 132.41L88.87 132.11L88.59 131.79L88.84 131.48L87.86 131.13L87.42 130.79L87.32 130.46L88.78 130.22L88.89 129.91L88.46 129.57L89.09 129.3L88.92 128.97L88.83 128.65L89.45 128.39L89.63 128.09L89.17 127.73L89.94 127.49L90.28 127.22L90.15 126.89L90.02 126.57L90.57 126.32L90.15 125.96L90.34 125.67L90.85 125.42L91.04 125.14L90.8 124.79L91.17 124.54L91.19 124.23L90.97 123.89L90.79 123.55L90.79 123.24L91.14 122.98L90.86 122.62L91.31 122.39L91.2 122.05L91.52 121.8L91.37 121.46L91.55 121.18L91.67 120.89L91.58 120.56L91.94 120.32L91.79 119.98L92.28 119.77L91.98 119.39L91.67 119.01L91.68 118.69L91.54 118.34L91.86 118.1L91.9 117.79L92.02 117.51L92.15 117.22L92.24 116.92L92.09 116.57L92.38 116.32L92.12 115.94L92.49 115.71L92.72 115.46L92.74 115.15L92.7 114.81L93.26 114.65L93.12 114.29L93.09 113.96L93.25 113.69L93.38 113.41L93.21 113.03L93.48 112.8L93.54 112.49L93.93 112.29L94.12 112.04L94.26 111.76L94.04 111.36L94.64 111.24L94.33 110.81L94.42 110.52L94.55 110.24L95.08 110.11L95 109.75L94.8 109.35L95.1 109.13L95.32 108.89L95.13 108.48L95.47 108.29L95.75 108.07L95.78 107.75L95.61 107.35L95.54 106.99L95.36 106.58L95.58 106.34L95.34 105.89L95.65 105.69L95.93 105.48L96.15 105.23L96.5 105.06L96.45 104.69L96.47 104.36L96.5 104.04L96.66 103.77L96.99 103.59L97.15 103.32L97.35 103.07L97.19 102.65L97.52 102.47L97.73 102.23L97.96 102L98.45 101.91L98.77 101.73L98.56 101.27L98.82 101.06L98.97 100.8L98.86 100.39L98.78 99.99L98.9 99.7L99.11 99.46L99.08 99.09L99.2 98.8L99.53 98.64L99.43 98.22L99.74 98.04L100.05 97.87L100.38 97.71L100.74 97.57L100.98 97.36L101.05 97.04L101.06 96.68L101.07 96.33L101.51 96.24L101.69 95.99L101.75 95.66L102.06 95.5L102.27 95.27L102.39 94.98L102.68 94.81L102.97 94.64L102.84 94.17L103 93.91L103.29 93.74L103.19 93.29L103.22 92.93L103.74 92.93L103.83 92.61L104.07 92.41L104.62 92.43L104.93 92.29L104.75 91.77L104.86 91.46L105.23 91.36L105.04 90.82L105.36 90.69L105.47 90.38L105.68 90.15L105.78 89.83L105.91 89.54L106.07 89.28L106.47 89.2L106.72 89.01L106.85 88.72L106.93 88.38L107.21 88.22L107.29 87.88L107.54 87.69L107.87 87.56L107.96 87.23L108.3 87.12L108.59 86.97L108.92 86.86L108.78 86.31L109.31 86.38L109.21 85.87L109.63 85.85L109.9 85.68L110.22 85.56L110.09 85L110.43 84.9L110.47 84.51L110.83 84.43L111.01 84.18L111.53 84.27L111.65 83.95L111.73 83.59L112.12 83.55L112.32 83.32L112.51 83.07L112.72 82.84L112.96 82.65L113.29 82.56L113.57 82.41L113.66 82.06L114.08 82.06L114.39 81.95L114.55 81.67L114.67 81.35L114.94 81.19L114.99 80.78L115.2 80.55L115.38 80.28L115.51 79.95L115.81 79.84L116.08 79.68L116.31 79.47L116.45 79.15L116.5 78.72L116.65 78.41L117.19 78.6L117.63 78.66L117.71 78.26L118.02 78.17L118.11 77.76L118.37 77.6L118.58 77.36L118.97 77.36L119.27 77.26L119.5 77.05L119.96 77.17L120.22 77.01L120.45 76.8L120.55 76.41L120.85 76.3L121.12 76.15L121.43 76.05L121.58 75.73L121.68 75.32L121.95 75.17L122.2 74.98L122.29 74.55L122.64 74.52L122.88 74.32L123.15 74.18L123.52 74.18L123.87 74.16L124.31 74.29L124.36 73.78L124.86 74.02L125.06 73.76L125.41 73.74L125.57 73.41L125.86 73.29L126.02 72.95L126.44 73.07L126.62 72.77L127.07 72.96L127.29 72.72L127.56 72.56L127.79 72.36L127.94 71.98L128.3 71.99L128.54 71.8L128.78 71.6L128.99 71.33L129.41 71.48L129.73 71.43L130.04 71.38L130.32 71.24L130.54 70.99L130.84 70.92L130.87 70.25L131.26 70.36L131.4 69.92L131.91 70.3L132.02 69.8L132.3 69.67L132.49 69.32L132.9 69.48L133.27 69.57L133.37 69.03L133.72 69.05L134.07 69.11L134.2 68.59L134.57 68.69L134.75 68.3L135.17 68.52L135.51 68.55L135.82 68.5L136.07 68.3L136.44 68.4L136.65 68.08L137.07 68.34L137.27 67.99L137.71 68.33L137.9 67.93L138.3 68.17L138.53 67.88L138.75 67.57L138.97 67.26L139.37 67.48L139.48 66.8L139.86 66.99L140.24 67.18L140.48 66.91L140.72 66.63L141.06 66.69L141.39 66.75L141.63 66.45L142 66.66L142.24 66.34L142.68 66.8L142.95 66.62L143.27 66.64L143.47 66.21L143.74 65.98L144.06 66.02L144.35 65.91L144.61 65.67L144.89 65.51L145.27 65.8L145.49 65.36L145.8 65.3L146.16 65.52L147.42 71.63A64 64 0 0 0 96.41 133.18Z" fill="#7190c0"/><path d="M89.5 133.06L88.69 132.73L88.44 132.41L88.87 132.11L88.59 131.79L88.84 131.48L87.86 131.13L87.42 130.79L87.32 130.46L88.78 130.22L88.89 129.91L88.46 129.57L89.09 129.3L88.92 128.97L88.83 128.65L89.45 128.39L89.63 128.09L89.17 127.73L89.94 127.49L90.28 127.22L90.15 126.89L90.02 126.57L90.57 126.32L90.15 125.96L90.34 125.67L90.85 125.42L91.04 125.14L90.8 124.79L91.17 124.54L91.19 124.23L90.97 123.89L90.79 123.55L90.79 123.24L91.14 122.98L90.86 122.62L91.31 122.39L91.2 122.05L91.52 121.8L91.37 121.46L91.55 121.18L91.67 120.89L91.58 120.56L91.94 120.32L91.79 119.98L92.28 119.77L91.98 119.39L91.67 119.01L91.68 118.69L91.54 118.34L91.86 118.1L91.9 117.79L92.02 117.51L92.15 117.22L92.24 116.92L92.09 116.57L92.38 116.32L92.12 115.94L92.49 115.71L92.72 115.46L92.74 115.15L92.7 114.81L93.26 114.65L93.12 114.29L93.09 113.96L93.25 113.69L93.38 113.41L93.21 113.03L93.48 112.8L93.54 112.49L93.93 112.29L94.12 112.04L94.26 111.76L94.04 111.36L94.64 111.24L94.33 110.81L94.42 110.52L94.55 110.24L95.08 110.11L95 109.75L94.8 109.35L95.1 109.13L95.32 108.89L95.13 108.48L95.47 108.29L95.75 108.07L95.78 107.75L95.61 107.35L95.54 106.99L95.36 106.58L95.58 106.34L95.34 105.89L95.65 105.69L95.93 105.48L96.15 105.23L96.5 105.06L96.45 104.69L96.47 104.36L96.5 104.04L96.66 103.77L96.99 103.59L97.15 103.32L97.35 103.07L97.19 102.65L97.52 102.47L97.73 102.23L97.96 102L98.45 101.91L98.77 101.73L98.56 101.27L98.82 101.06L98.97 100.8L98.86 100.39L98.78 99.99L98.9 99.7L99.11 99.46L99.08 99.09L99.2 98.8L99.53 98.64L99.43 98.22L99.74 98.04L100.05 97.87L100.38 97.71L100.74 97.57L100.98 97.36L101.05 97.04L101.06 96.68L101.07 96.33L101.51 96.24L101.69 95.99L101.75 95.66L102.06 95.5L102.27 95.27L102.39 94.98L102.68 94.81L102.97 94.64L102.84 94.17L103 93.91L103.29 93.74L103.19 93.29L103.22 92.93L103.74 92.93L103.83 92.61L104.07 92.41L104.62 92.43L104.93 92.29L104.75 91.77L104.86 91.46L105.23 91.36L105.04 90.82L105.36 90.69L105.47 90.38L105.68 90.15L105.78 89.83L105.91 89.54L106.07 89.28L106.47 89.2L106.72 89.01L106.85 88.72L106.93 88.38L107.21 88.22L107.29 87.88L107.54 87.69L107.87 87.56L107.96 87.23L108.3 87.12L108.59 86.97L108.92 86.86L108.78 86.31L109.31 86.38L109.21 85.87L109.63 85.85L109.9 85.68L110.22 85.56L110.09 85L110.43 84.9L110.47 84.51L110.83 84.43L111.01 84.18L111.53 84.27L111.65 83.95L111.73 83.59L112.12 83.55L112.32 83.32L112.51 83.07L112.72 82.84L112.96 82.65L113.29 82.56L113.57 82.41L113.66 82.06L114.08 82.06L114.39 81.95L114.55 81.67L114.67 81.35L114.94 81.19L114.99 80.78L115.2 80.55L115.38 80.28L115.51 79.95L115.81 79.84L116.08 79.68L116.31 79.47L116.45 79.15L116.5 78.72L116.65 78.41L117.19 78.6L117.63 78.66L117.71 78.26L118.02 78.17L118.11 77.76L118.37 77.6L118.58 77.36L118.97 77.36L119.27 77.26L119.5 77.05L119.96 77.17L120.22 77.01L120.45 76.8L120.55 76.41L120.85 76.3L121.12 76.15L121.43 76.05L121.58 75.73L121.68 75.32L121.95 75.17L122.2 74.98L122.29 74.55L122.64 74.52L122.88 74.32L123.15 74.18L123.52 74.18L123.87 74.16L124.31 74.29L124.36 73.78L124.86 74.02L125.06 73.76L125.41 73.74L125.57 73.41L125.86 73.29L126.02 72.95L126.44 73.07L126.62 72.77L127.07 72.96L127.29 72.72L127.56 72.56L127.79 72.36L127.94 71.98L128.3 71.99L128.54 71.8L128.78 71.6L128.99 71.33L129.41 71.48L129.73 71.43L130.04 71.38L130.32 71.24L130.54 70.99L130.84 70.92L130.87 70.25L131.26 70.36L131.4 69.92L131.91 70.3L132.02 69.8L132.3 69.67L132.49 69.32L132.9 69.48L133.27 69.57L133.37 69.03L133.72 69.05L134.07 69.11L134.2 68.59L134.57 68.69L134.75 68.3L135.17 68.52L135.51 68.55L135.82 68.5L136.07 68.3L136.44 68.4L136.65 68.08L137.07 68.34L137.27 67.99L137.71 68.33L137.9 67.93L138.3 68.17L138.53 67.88L138.75 67.57L138.97 67.26L139.37 67.48L139.48 66.8L139.86 66.99L140.24 67.18L140.48 66.91L140.72 66.63L141.06 66.69L141.39 66.75L141.63 66.45L142 66.66L142.24 66.34L142.68 66.8L142.95 66.62L143.27 66.64L143.47 66.21L143.74 65.98L144.06 66.02L144.35 65.91L144.61 65.67L144.89 65.51L145.27 65.8L145.49 65.36L145.8 65.3L146.16 65.52" fill="none" stroke="#1e2638" stroke-width="0.55" stroke-linejoin="round"/>
<path d="M146.84 64.52L147.31 65.08L147.65 64.97L148.03 65.07L148.36 64.86L148.78 65.2L149.09 64.9L149.53 65.38L149.82 64.96L150.17 64.87L150.53 64.87L150.89 64.9L151.71 70.89A64 64 0 0 0 148.19 71.48Z" fill="#7190c0"/><path d="M146.84 64.52L147.31 65.08L147.65 64.97L148.03 65.07L148.36 64.86L148.78 65.2L149.09 64.9L149.53 65.38L149.82 64.96L150.17 64.87L150.53 64.87L150.89 64.9" fill="none" stroke="#1e2638" stroke-width="0.55" stroke-linejoin="round"/>
<path d="M95.64 136.56L90.64 136.74M95.72 130.34L91.73 130.1" stroke="#3a3226" stroke-width="0.45" fill="none"/>
<path d="M160.4 85.75L160.54 85.75L160.69 85.44L160.83 85.47L160.97 85.75L161.11 85.76L161.25 85.72L161.4 85.62L161.54 85.6L161.68 85.61L161.83 85.49L161.96 85.78L162.11 85.52L162.24 85.72L162.38 85.79L162.54 85.52L162.67 85.8L162.81 85.81L162.97 85.51L163.25 82.95L163.26 85.43L163.4 85.42L163.61 84.37L163.7 85.19L163.82 85.52L164.01 84.9L164.13 85.28L164.25 85.58L164.42 85.27L164.56 85.3L164.67 85.69L164.85 85.24L164.94 85.82L165.09 85.79L165.32 84.88L165.37 85.82L165.49 86.02L165.65 85.94L165.85 85.38L165.92 86.06L166.06 86.08L166.2 86.1L166.39 85.73L166.51 85.88L166.69 85.63L166.78 86.01L166.96 85.75L167.06 86.06L167.19 86.18L167.33 86.17L167.68 84.78L167.63 86.11L167.74 86.31L167.9 86.21L168.1 85.9L168.19 86.18L168.31 86.34L168.51 86.03L168.66 86L168.82 85.93L169.03 85.55L169.1 85.99L169.43 84.96L169.33 86.31L169.52 86.07L169.61 86.34L169.7 86.65L169.91 86.29L170.1 86.1L170.19 86.39L170.4 86.04L170.55 86.06L170.61 86.44L170.84 86.06L171.04 85.83L171.04 86.5L171.17 86.58L171.25 86.85L171.44 86.68L171.61 86.59L171.71 86.77L171.83 86.89L172.13 86.24L172.16 86.75L172.34 86.6L172.49 86.6L172.61 86.72L172.8 86.56L172.88 86.8L173.05 86.74L173.26 86.51L173.3 86.91L173.53 86.6L173.61 86.87L173.68 87.15L173.8 87.26L173.99 87.11L174.03 87.48L174.1 87.72L174.29 87.59L174.51 87.35L174.61 87.52L174.7 87.72L174.94 87.42L175.07 87.5L175.11 87.84L175.24 87.91L175.43 87.76L176.04 86.35L175.72 87.82L175.89 87.75L175.98 87.92L176.15 87.86L176.25 88.03L176.3 88.32L177.23 86.08L176.7 88.05L176.82 88.12L177.11 87.75L176.98 88.51L177.12 88.54L177.2 88.75L177.81 87.5L177.47 88.85L177.6 88.9L177.9 88.5L178.21 88.1L178.13 88.71L178.37 88.49L178.34 88.95L178.51 88.91L179.34 87.23L178.79 88.96L179.05 88.72L179.16 88.83L179.28 88.91L179.56 88.62L179.46 89.23L179.83 88.72L179.61 89.59L181.98 84.48L180.01 89.4L180.11 89.53L180.75 88.44L180.41 89.54L180.65 89.37L180.64 89.74L180.77 89.8L180.94 89.76L182.3 87.18L181.25 89.78L181.31 89.99L181.44 90.05L181.51 90.23L182.28 88.96L181.63 90.64L181.82 90.59L181.91 90.71L183.1 88.64L182.25 90.68L182.42 90.65L182.57 90.67L182.65 90.83L182.65 91.15L183.44 89.92L184.42 88.36L183.02 91.34L183.18 91.35L183.42 91.19L185.41 87.81L183.85 91.01L184.01 91.02L184.3 90.78L184.08 91.49L184.02 91.88L184.18 91.89L184.43 91.73L184.64 91.66L184.86 91.56L185.19 91.26L185.2 91.54L186.6 89.43L185.36 91.83L185.37 92.11L185.51 92.15L187.21 89.6L185.88 92.09L186.85 90.78L186.35 91.87L186.24 92.33L186.27 92.56L187.01 91.64L186.48 92.76L186.55 92.91L186.85 92.71L186.58 93.4L186.93 93.12L188.27 91.32L187.92 92.13L187.67 92.77L187.61 93.12L187.59 93.42L187.77 93.4L187.73 93.73L187.81 93.87L188.05 93.76L188.37 93.55L189.34 92.41L188.59 93.74L188.97 93.45L189 93.66L188.92 94.02L189.12 93.99L189.18 94.16L189.92 93.37L189.31 94.47L189.43 94.55L190.19 93.76L189.48 94.97L189.82 94.75L189.7 95.14L191.1 93.52L190.04 95.17L190.3 95.07L190.23 95.4L190.34 95.48L190.5 95.51L190.99 95.12L190.52 95.95L190.5 96.21L190.66 96.24L190.75 96.35L191.95 95.09L192.09 95.14L191.17 96.5L191.27 96.61L191.46 96.6L191.56 96.7L191.55 96.94L191.85 96.8L191.8 97.08L192.23 96.79L192.42 96.8L192.26 97.21L192.4 97.26L192.64 97.2L193.1 96.89L192.73 97.54L192.76 97.71L192.76 97.93L193 97.88L192.95 98.14L192.99 98.31L193.28 98.2L193.66 97.99L193.59 98.29L193.78 98.29L193.89 98.39L193.73 98.76L194.09 98.59L194.04 98.85L194.2 98.89L194.48 98.81L194.52 98.97L195.75 97.91L194.81 99.08L194.78 99.32L195.13 99.17L195.11 99.4L195.13 99.58L195.28 99.63L197.68 97.46L195.32 99.99L195.4 100.11L195.35 100.36L195.43 100.49L195.59 100.53L196.03 100.31L195.7 100.81L195.99 100.74L196.25 100.69L195.92 101.2L196.28 101.05L197.83 99.82L196.43 101.3L196.52 101.41L196.42 101.69L196.52 101.8L196.58 101.93L196.77 101.95L197.14 101.81L197.3 101.87L197.68 101.72L197.6 101.99L197.58 102.19L197.85 102.15L197.54 102.61L197.72 102.64L197.99 102.6L198.04 102.74L198.04 102.93L198.23 102.96L198.38 103.02L197.97 103.55L198.12 103.6L198.42 103.54L198.69 103.51L198.7 103.68L198.82 103.77L201.79 101.61L199.04 103.97L198.91 104.25L198.89 104.44L199.15 104.42L199.28 104.51L199.32 104.65L199.76 104.5L199.37 104.98L199.5 105.05L199.36 105.33L199.66 105.29L199.81 105.36L200.06 105.35L199.82 105.7L200.22 105.59L200.09 105.86L200.49 105.75L200.41 105.98L200.76 105.91L200.63 106.17L200.62 106.36L201.39 106L200.91 106.51L200.87 106.71L201.06 106.75L201.11 106.89L201.14 107.04L200.83 107.42L201.18 107.36L202.49 106.67L201.26 107.65L201.19 107.87L201.27 107.98L202.32 107.48L201.63 108.09L201.99 108.03L203.44 107.29L202.58 108L202.53 108.2L202.32 108.5L203.52 107.94L201.96 109.06L204.81 107.5L202.23 109.22L202.34 109.33L202.19 109.58L202.8 109.38L202.75 109.58L203.14 109.52L202.99 109.77L205.4 108.56L203.56 109.78L203.43 110.02L203.41 110.2L203.43 110.35L203.31 110.58L204.16 110.28L203.56 110.77L203.41 111.01L203.49 111.13L206.07 109.92L203.41 111.5L203.56 111.58L203.76 111.64L204.28 111.53L204.54 111.56L204.36 111.81L205.08 111.61L204.41 112.11L204.02 112.46L204.1 112.59L204.39 112.6L204.16 112.87L204.37 112.93L204.42 113.07L204.51 113.18L205.67 112.78L206.65 112.49L205.16 113.35L204.91 113.62L204.9 113.78L209.09 112.03L205.01 114.05L205.06 114.18L205.14 114.31L205.44 114.33L205.23 114.58L205.26 114.72L205.63 114.72L205.3 115.01L205.3 115.17L205.3 115.32L205.75 115.29L205.94 115.37L206.2 115.41L208.53 114.62L206.53 115.59L206.45 115.78L206.24 116.02L205.88 116.32L206.08 116.4L206.01 116.57L205.7 116.85L205.76 116.98L206.12 116.99L205.99 117.19L206.26 117.24L206.12 117.45L206.66 117.4L206.28 117.69L206.1 117.91L209.89 116.71L206.61 118.03L206.56 118.2L206.97 118.21L206.68 118.46L208.2 118.1L206.57 118.8L206.9 118.84L206.85 119.01L206.74 119.19L206.6 119.39L207.46 119.26L206.89 119.59L207.01 119.7L208.69 119.33L207.17 119.95L207.38 120.04L208.47 119.86L207.57 120.28L208.42 120.18L207.39 120.63L207.58 120.73L207.43 120.92L207.53 121.04L209.25 120.71L207.28 121.4L207.58 121.47L207.29 121.7L207.32 121.83L207.64 121.9L207.74 122.02L207.69 122.18L210.05 121.73L207.62 122.49L207.53 122.66L207.57 122.8L207.97 122.85L207.76 123.04L208.23 123.08L210.03 122.81L208.68 123.27L208.55 123.44L208.6 123.58L208.28 123.8L208.45 123.91L208 124.15L208.02 124.29L207.95 124.45L207.79 124.49A48.4 48.4 0 0 0 160.4 85.9Z" fill="#e9c076"/><path d="M160.4 85.75L160.54 85.75L160.69 85.44L160.83 85.47L160.97 85.75L161.11 85.76L161.25 85.72L161.4 85.62L161.54 85.6L161.68 85.61L161.83 85.49L161.96 85.78L162.11 85.52L162.24 85.72L162.38 85.79L162.54 85.52L162.67 85.8L162.81 85.81L162.97 85.51L163.25 82.95L163.26 85.43L163.4 85.42L163.61 84.37L163.7 85.19L163.82 85.52L164.01 84.9L164.13 85.28L164.25 85.58L164.42 85.27L164.56 85.3L164.67 85.69L164.85 85.24L164.94 85.82L165.09 85.79L165.32 84.88L165.37 85.82L165.49 86.02L165.65 85.94L165.85 85.38L165.92 86.06L166.06 86.08L166.2 86.1L166.39 85.73L166.51 85.88L166.69 85.63L166.78 86.01L166.96 85.75L167.06 86.06L167.19 86.18L167.33 86.17L167.68 84.78L167.63 86.11L167.74 86.31L167.9 86.21L168.1 85.9L168.19 86.18L168.31 86.34L168.51 86.03L168.66 86L168.82 85.93L169.03 85.55L169.1 85.99L169.43 84.96L169.33 86.31L169.52 86.07L169.61 86.34L169.7 86.65L169.91 86.29L170.1 86.1L170.19 86.39L170.4 86.04L170.55 86.06L170.61 86.44L170.84 86.06L171.04 85.83L171.04 86.5L171.17 86.58L171.25 86.85L171.44 86.68L171.61 86.59L171.71 86.77L171.83 86.89L172.13 86.24L172.16 86.75L172.34 86.6L172.49 86.6L172.61 86.72L172.8 86.56L172.88 86.8L173.05 86.74L173.26 86.51L173.3 86.91L173.53 86.6L173.61 86.87L173.68 87.15L173.8 87.26L173.99 87.11L174.03 87.48L174.1 87.72L174.29 87.59L174.51 87.35L174.61 87.52L174.7 87.72L174.94 87.42L175.07 87.5L175.11 87.84L175.24 87.91L175.43 87.76L176.04 86.35L175.72 87.82L175.89 87.75L175.98 87.92L176.15 87.86L176.25 88.03L176.3 88.32L177.23 86.08L176.7 88.05L176.82 88.12L177.11 87.75L176.98 88.51L177.12 88.54L177.2 88.75L177.81 87.5L177.47 88.85L177.6 88.9L177.9 88.5L178.21 88.1L178.13 88.71L178.37 88.49L178.34 88.95L178.51 88.91L179.34 87.23L178.79 88.96L179.05 88.72L179.16 88.83L179.28 88.91L179.56 88.62L179.46 89.23L179.83 88.72L179.61 89.59L181.98 84.48L180.01 89.4L180.11 89.53L180.75 88.44L180.41 89.54L180.65 89.37L180.64 89.74L180.77 89.8L180.94 89.76L182.3 87.18L181.25 89.78L181.31 89.99L181.44 90.05L181.51 90.23L182.28 88.96L181.63 90.64L181.82 90.59L181.91 90.71L183.1 88.64L182.25 90.68L182.42 90.65L182.57 90.67L182.65 90.83L182.65 91.15L183.44 89.92L184.42 88.36L183.02 91.34L183.18 91.35L183.42 91.19L185.41 87.81L183.85 91.01L184.01 91.02L184.3 90.78L184.08 91.49L184.02 91.88L184.18 91.89L184.43 91.73L184.64 91.66L184.86 91.56L185.19 91.26L185.2 91.54L186.6 89.43L185.36 91.83L185.37 92.11L185.51 92.15L187.21 89.6L185.88 92.09L186.85 90.78L186.35 91.87L186.24 92.33L186.27 92.56L187.01 91.64L186.48 92.76L186.55 92.91L186.85 92.71L186.58 93.4L186.93 93.12L188.27 91.32L187.92 92.13L187.67 92.77L187.61 93.12L187.59 93.42L187.77 93.4L187.73 93.73L187.81 93.87L188.05 93.76L188.37 93.55L189.34 92.41L188.59 93.74L188.97 93.45L189 93.66L188.92 94.02L189.12 93.99L189.18 94.16L189.92 93.37L189.31 94.47L189.43 94.55L190.19 93.76L189.48 94.97L189.82 94.75L189.7 95.14L191.1 93.52L190.04 95.17L190.3 95.07L190.23 95.4L190.34 95.48L190.5 95.51L190.99 95.12L190.52 95.95L190.5 96.21L190.66 96.24L190.75 96.35L191.95 95.09L192.09 95.14L191.17 96.5L191.27 96.61L191.46 96.6L191.56 96.7L191.55 96.94L191.85 96.8L191.8 97.08L192.23 96.79L192.42 96.8L192.26 97.21L192.4 97.26L192.64 97.2L193.1 96.89L192.73 97.54L192.76 97.71L192.76 97.93L193 97.88L192.95 98.14L192.99 98.31L193.28 98.2L193.66 97.99L193.59 98.29L193.78 98.29L193.89 98.39L193.73 98.76L194.09 98.59L194.04 98.85L194.2 98.89L194.48 98.81L194.52 98.97L195.75 97.91L194.81 99.08L194.78 99.32L195.13 99.17L195.11 99.4L195.13 99.58L195.28 99.63L197.68 97.46L195.32 99.99L195.4 100.11L195.35 100.36L195.43 100.49L195.59 100.53L196.03 100.31L195.7 100.81L195.99 100.74L196.25 100.69L195.92 101.2L196.28 101.05L197.83 99.82L196.43 101.3L196.52 101.41L196.42 101.69L196.52 101.8L196.58 101.93L196.77 101.95L197.14 101.81L197.3 101.87L197.68 101.72L197.6 101.99L197.58 102.19L197.85 102.15L197.54 102.61L197.72 102.64L197.99 102.6L198.04 102.74L198.04 102.93L198.23 102.96L198.38 103.02L197.97 103.55L198.12 103.6L198.42 103.54L198.69 103.51L198.7 103.68L198.82 103.77L201.79 101.61L199.04 103.97L198.91 104.25L198.89 104.44L199.15 104.42L199.28 104.51L199.32 104.65L199.76 104.5L199.37 104.98L199.5 105.05L199.36 105.33L199.66 105.29L199.81 105.36L200.06 105.35L199.82 105.7L200.22 105.59L200.09 105.86L200.49 105.75L200.41 105.98L200.76 105.91L200.63 106.17L200.62 106.36L201.39 106L200.91 106.51L200.87 106.71L201.06 106.75L201.11 106.89L201.14 107.04L200.83 107.42L201.18 107.36L202.49 106.67L201.26 107.65L201.19 107.87L201.27 107.98L202.32 107.48L201.63 108.09L201.99 108.03L203.44 107.29L202.58 108L202.53 108.2L202.32 108.5L203.52 107.94L201.96 109.06L204.81 107.5L202.23 109.22L202.34 109.33L202.19 109.58L202.8 109.38L202.75 109.58L203.14 109.52L202.99 109.77L205.4 108.56L203.56 109.78L203.43 110.02L203.41 110.2L203.43 110.35L203.31 110.58L204.16 110.28L203.56 110.77L203.41 111.01L203.49 111.13L206.07 109.92L203.41 111.5L203.56 111.58L203.76 111.64L204.28 111.53L204.54 111.56L204.36 111.81L205.08 111.61L204.41 112.11L204.02 112.46L204.1 112.59L204.39 112.6L204.16 112.87L204.37 112.93L204.42 113.07L204.51 113.18L205.67 112.78L206.65 112.49L205.16 113.35L204.91 113.62L204.9 113.78L209.09 112.03L205.01 114.05L205.06 114.18L205.14 114.31L205.44 114.33L205.23 114.58L205.26 114.72L205.63 114.72L205.3 115.01L205.3 115.17L205.3 115.32L205.75 115.29L205.94 115.37L206.2 115.41L208.53 114.62L206.53 115.59L206.45 115.78L206.24 116.02L205.88 116.32L206.08 116.4L206.01 116.57L205.7 116.85L205.76 116.98L206.12 116.99L205.99 117.19L206.26 117.24L206.12 117.45L206.66 117.4L206.28 117.69L206.1 117.91L209.89 116.71L206.61 118.03L206.56 118.2L206.97 118.21L206.68 118.46L208.2 118.1L206.57 118.8L206.9 118.84L206.85 119.01L206.74 119.19L206.6 119.39L207.46 119.26L206.89 119.59L207.01 119.7L208.69 119.33L207.17 119.95L207.38 120.04L208.47 119.86L207.57 120.28L208.42 120.18L207.39 120.63L207.58 120.73L207.43 120.92L207.53 121.04L209.25 120.71L207.28 121.4L207.58 121.47L207.29 121.7L207.32 121.83L207.64 121.9L207.74 122.02L207.69 122.18L210.05 121.73L207.62 122.49L207.53 122.66L207.57 122.8L207.97 122.85L207.76 123.04L208.23 123.08L210.03 122.81L208.68 123.27L208.55 123.44L208.6 123.58L208.28 123.8L208.45 123.91L208 124.15L208.02 124.29L207.95 124.45" fill="none" stroke="#4a3d22" stroke-width="0.55" stroke-linejoin="round"/>
<path d="M208.41 124.97L208.35 125.13L208.47 125.25L208.29 125.43L209.11 125.43L212.37 125L208.22 125.89L208.5 125.99L209.19 126.02L208.29 126.31L208.32 126.46L208.49 126.58L208.36 126.74L208.49 126.87L208.66 126.99L208.62 127.14L208.7 127.28L208.53 127.45L209.5 127.46L209.52 127.6L208.68 127.86L208.83 127.99L209.21 128.09L208.94 128.27L209.27 128.38L209.62 128.48L209.3 128.67L209.54 128.79L210.46 128.84L208.86 129.16L208.7 129.32L208.88 129.44L208.72 129.61L208.83 129.74L208.75 129.89L208.76 130.04L209.53 130.12L210.3 130.2L208.8 130.47L208.87 130.61L209.04 130.74L209.06 130.88L209.54 131L209.13 131.17L209.36 131.3L209.09 131.46L209.32 131.6L209.12 131.75L210.06 131.85L209.02 132.05L208.93 132.2L208.94 132.34L209.47 132.47L208.92 132.63L209.46 132.76L210.22 132.88L209.5 133.05L209.27 133.2L209.44 133.34L208.94 133.5L209.79 133.63L209.51 133.78L209.45 133.93L209.34 134.07L209.42 134.22L209.6 134.36L211.55 134.52L209.32 134.65L209.56 134.8L209.15 134.94L209.12 135.09L209.58 135.24L209.51 135.39L209.07 135.52L210.56 135.71L209.21 135.82L212.68 136.08L212.47 136.23L209.7 136.27L208.96 136.39L209.02 136.53L209.08 136.68L208.74 136.66A48.4 48.4 0 0 0 207.91 125.06Z" fill="#e9c076"/><path d="M208.41 124.97L208.35 125.13L208.47 125.25L208.29 125.43L209.11 125.43L212.37 125L208.22 125.89L208.5 125.99L209.19 126.02L208.29 126.31L208.32 126.46L208.49 126.58L208.36 126.74L208.49 126.87L208.66 126.99L208.62 127.14L208.7 127.28L208.53 127.45L209.5 127.46L209.52 127.6L208.68 127.86L208.83 127.99L209.21 128.09L208.94 128.27L209.27 128.38L209.62 128.48L209.3 128.67L209.54 128.79L210.46 128.84L208.86 129.16L208.7 129.32L208.88 129.44L208.72 129.61L208.83 129.74L208.75 129.89L208.76 130.04L209.53 130.12L210.3 130.2L208.8 130.47L208.87 130.61L209.04 130.74L209.06 130.88L209.54 131L209.13 131.17L209.36 131.3L209.09 131.46L209.32 131.6L209.12 131.75L210.06 131.85L209.02 132.05L208.93 132.2L208.94 132.34L209.47 132.47L208.92 132.63L209.46 132.76L210.22 132.88L209.5 133.05L209.27 133.2L209.44 133.34L208.94 133.5L209.79 133.63L209.51 133.78L209.45 133.93L209.34 134.07L209.42 134.22L209.6 134.36L211.55 134.52L209.32 134.65L209.56 134.8L209.15 134.94L209.12 135.09L209.58 135.24L209.51 135.39L209.07 135.52L210.56 135.71L209.21 135.82L212.68 136.08L212.47 136.23L209.7 136.27L208.96 136.39L209.02 136.53L209.08 136.68" fill="none" stroke="#4a3d22" stroke-width="0.55" stroke-linejoin="round"/>
<path d="M209.32 137.29L209.7 137.46L209.09 137.56L210 137.77L209.96 137.91L209.7 138.04L209.74 138.19L209.48 138.31L209.2 138.43L209.45 138.6L209.72 138.77L210.61 138.99L209.81 139.06L210.78 139.31L209.97 139.37L209.8 139.5L211.76 139.86L209.75 139.79L212.74 140.27L210.01 140.11L209.45 140.19L209.92 140.39L209.26 140.45L209.07 140.58L208.84 140.69L208.96 140.85L210.9 141.26L208.94 141.14L209.58 141.37L209.84 141.56L209.82 141.7L210.5 141.95L209.56 141.96L209.06 142.02L209.07 142.17L209.52 142.39L208.98 142.45L209.53 142.69L210.56 143.02L209.45 142.97L210.49 143.3L209.64 143.3L210.25 143.56L208.91 143.46L208.78 143.58L208.87 143.75L210.84 144.28L208.7 144.01L208.56 144.12L210.8 144.73L208.34 144.37L208.45 144.54L208.64 144.73L208.95 144.94L208.86 145.07L209.3 145.32L209 145.4L209.08 145.57L208.61 145.61L208.57 145.75L208.22 145.81L208.55 146.04L208.2 146.1L208.13 146.23L207.69 146.27L208.12 146.53L207.65 146.56L208.11 146.82L209.7 147.4L209.25 147.43L208.56 147.39L208.28 147.47L208.68 147.73L208.23 147.75L208.28 147.92L208.38 148.1L208.32 148.23L208.56 148.46L208.24 148.51L208.12 148.63L207.69 148.65L207.68 148.8L207.41 148.87L207.83 149.15L207.89 149.32L207.56 149.37L208.06 149.68L207.31 149.59L207.04 149.65L207.3 149.89L209.91 150.92L207.42 150.24L207.55 150.43L207.64 150.62L207.71 150.8L207.84 151L208.55 151.41L209.82 152.02L206.34 150.92L206.58 151.16L206.39 151.25L206.71 151.52L206.44 151.57L207.79 152.23L206.46 151.88L206.31 151.98L206.47 152.2L206.3 152.29L206.66 152.58L206.42 152.64L206.7 152.91L206.71 153.08L206.5 153.15L206.2 153.18L206.01 153.26L208.68 154.53L206.18 153.64L205.82 153.65L206.14 153.94L205.66 153.89L205.83 154.12L205.25 154.03L205.25 154.18L205.35 154.38L204.95 154.36L205.05 154.56L205.65 155L205.04 154.87L204.99 155.01L205.02 155.18L205.38 155.51L204.75 155.37L205.76 156.01L205.5 156.05L204.81 155.88L205.06 156.16L205.18 156.38L204.64 156.28L205.01 156.62L205.18 156.87L204.65 156.77L205.01 157.12L207.86 158.75L204.61 157.23L203.97 157.06L203.8 157.14L203.77 157.29L203.62 157.37L204.73 158.13L203.98 157.89L204.08 158.11L204.88 158.71L203.55 158.15L203.76 158.43L204.86 159.21L203.45 158.59L203.59 158.83L203.54 158.97L203.71 159.24L203.43 159.24L204.8 160.21L202.77 159.19L203.39 159.72L203.1 159.72L206.87 162.15L202.71 159.82L202.51 159.87L202.81 160.23L206.6 162.72L202.37 160.29L202.55 160.57L202.29 160.58L202.21 160.71L202.24 160.89L201.89 160.84L201.68 160.87L201.77 161.11L201.54 161.13L202.11 161.67L201.85 161.68L201.37 161.53L201.74 161.95L201.75 162.13L201.41 162.08L201.29 162.17L201.24 162.31L201.11 162.4L200.75 162.32L200.71 162.47L201.7 163.34L200.45 162.64L203.04 164.66L200.78 163.22L200.66 163.32L201.16 163.86L201.67 164.41L200.44 163.7L200.47 163.9L200.13 163.83L199.97 163.89L200.09 164.16L200.06 164.32L199.78 164.29L199.37 164.16L199.54 164.47L199.33 164.49L199.08 164.47L199 164.6L199.09 164.85L199.1 165.04L199.3 165.39L198.95 165.29L198.88 165.42L198.51 165.3L198.33 165.34L198.3 165.5L198.65 165.98L198.39 165.95L198.57 166.29L198.62 166.52L198.59 166.69L198.54 166.84L198.66 167.14L198.23 166.96L197.7 166.69L197.78 166.95L197.54 166.93L199.97 169.28L197.26 167.07L198.79 168.64L197.22 167.42L198.42 168.7L196.74 167.38L196.71 167.54L196.43 167.48L196.85 168.07L196.23 167.69L196.19 167.84L196.05 167.91L196.13 168.18L196.23 168.48L196.48 168.91L196.29 168.93L196.46 169.3L197.42 170.44L197.88 171.11L195.7 169.17L195.33 169.01L195.32 169.2L195.1 169.19L195.04 169.33L194.76 169.25L194.79 169.49L194.95 169.85L194.73 169.84L194.38 169.68L194.85 170.38L194.55 170.28L194.23 170.14L194.23 170.36L194.23 170.57L193.87 170.39L194.02 170.77L193.98 170.94L193.82 170.98L194.02 171.42L195.15 172.89L194.09 171.93L195.57 173.82L193.21 171.38L192.93 171.29L192.91 171.48L192.76 171.53L192.6 171.57L192.4 171.55L192.9 172.35L192.29 171.86L192.34 172.14L192.32 172.35L192.07 172.27L192.02 172.44L192.12 172.79L191.84 172.67L191.74 172.78L191.6 172.84L191.36 172.77L191.33 172.97L191.13 172.94L190.83 172.8L190.85 173.06L190.71 173.1L190.89 173.57L190.55 173.37L190.55 173.61L190.74 174.1L189.97 173.32L190.02 173.62L189.89 173.69L189.56 173.49L190.17 174.55L189.77 174.25L189.39 173.99L189.42 174.27L189.35 174.42L190.9 176.83L189.13 174.61L189.05 174.75L189.26 175.29L188.85 174.97L189.53 176.19L188.72 175.28L188.26 174.88L188.3 175.19L188.29 175.42L188.02 175.28L188.17 175.77L187.86 175.56L187.83 175.78L187.67 175.81L187.76 176.2L187.65 176.31L187.06 175.67L186.84 175.59L186.98 176.08L186.83 176.11L186.7 176.17L186.22 175.67L186.16 175.84L185.9 175.43A48.4 48.4 0 0 0 208.71 137.25Z" fill="#e9c076"/><path d="M209.32 137.29L209.7 137.46L209.09 137.56L210 137.77L209.96 137.91L209.7 138.04L209.74 138.19L209.48 138.31L209.2 138.43L209.45 138.6L209.72 138.77L210.61 138.99L209.81 139.06L210.78 139.31L209.97 139.37L209.8 139.5L211.76 139.86L209.75 139.79L212.74 140.27L210.01 140.11L209.45 140.19L209.92 140.39L209.26 140.45L209.07 140.58L208.84 140.69L208.96 140.85L210.9 141.26L208.94 141.14L209.58 141.37L209.84 141.56L209.82 141.7L210.5 141.95L209.56 141.96L209.06 142.02L209.07 142.17L209.52 142.39L208.98 142.45L209.53 142.69L210.56 143.02L209.45 142.97L210.49 143.3L209.64 143.3L210.25 143.56L208.91 143.46L208.78 143.58L208.87 143.75L210.84 144.28L208.7 144.01L208.56 144.12L210.8 144.73L208.34 144.37L208.45 144.54L208.64 144.73L208.95 144.94L208.86 145.07L209.3 145.32L209 145.4L209.08 145.57L208.61 145.61L208.57 145.75L208.22 145.81L208.55 146.04L208.2 146.1L208.13 146.23L207.69 146.27L208.12 146.53L207.65 146.56L208.11 146.82L209.7 147.4L209.25 147.43L208.56 147.39L208.28 147.47L208.68 147.73L208.23 147.75L208.28 147.92L208.38 148.1L208.32 148.23L208.56 148.46L208.24 148.51L208.12 148.63L207.69 148.65L207.68 148.8L207.41 148.87L207.83 149.15L207.89 149.32L207.56 149.37L208.06 149.68L207.31 149.59L207.04 149.65L207.3 149.89L209.91 150.92L207.42 150.24L207.55 150.43L207.64 150.62L207.71 150.8L207.84 151L208.55 151.41L209.82 152.02L206.34 150.92L206.58 151.16L206.39 151.25L206.71 151.52L206.44 151.57L207.79 152.23L206.46 151.88L206.31 151.98L206.47 152.2L206.3 152.29L206.66 152.58L206.42 152.64L206.7 152.91L206.71 153.08L206.5 153.15L206.2 153.18L206.01 153.26L208.68 154.53L206.18 153.64L205.82 153.65L206.14 153.94L205.66 153.89L205.83 154.12L205.25 154.03L205.25 154.18L205.35 154.38L204.95 154.36L205.05 154.56L205.65 155L205.04 154.87L204.99 155.01L205.02 155.18L205.38 155.51L204.75 155.37L205.76 156.01L205.5 156.05L204.81 155.88L205.06 156.16L205.18 156.38L204.64 156.28L205.01 156.62L205.18 156.87L204.65 156.77L205.01 157.12L207.86 158.75L204.61 157.23L203.97 157.06L203.8 157.14L203.77 157.29L203.62 157.37L204.73 158.13L203.98 157.89L204.08 158.11L204.88 158.71L203.55 158.15L203.76 158.43L204.86 159.21L203.45 158.59L203.59 158.83L203.54 158.97L203.71 159.24L203.43 159.24L204.8 160.21L202.77 159.19L203.39 159.72L203.1 159.72L206.87 162.15L202.71 159.82L202.51 159.87L202.81 160.23L206.6 162.72L202.37 160.29L202.55 160.57L202.29 160.58L202.21 160.71L202.24 160.89L201.89 160.84L201.68 160.87L201.77 161.11L201.54 161.13L202.11 161.67L201.85 161.68L201.37 161.53L201.74 161.95L201.75 162.13L201.41 162.08L201.29 162.17L201.24 162.31L201.11 162.4L200.75 162.32L200.71 162.47L201.7 163.34L200.45 162.64L203.04 164.66L200.78 163.22L200.66 163.32L201.16 163.86L201.67 164.41L200.44 163.7L200.47 163.9L200.13 163.83L199.97 163.89L200.09 164.16L200.06 164.32L199.78 164.29L199.37 164.16L199.54 164.47L199.33 164.49L199.08 164.47L199 164.6L199.09 164.85L199.1 165.04L199.3 165.39L198.95 165.29L198.88 165.42L198.51 165.3L198.33 165.34L198.3 165.5L198.65 165.98L198.39 165.95L198.57 166.29L198.62 166.52L198.59 166.69L198.54 166.84L198.66 167.14L198.23 166.96L197.7 166.69L197.78 166.95L197.54 166.93L199.97 169.28L197.26 167.07L198.79 168.64L197.22 167.42L198.42 168.7L196.74 167.38L196.71 167.54L196.43 167.48L196.85 168.07L196.23 167.69L196.19 167.84L196.05 167.91L196.13 168.18L196.23 168.48L196.48 168.91L196.29 168.93L196.46 169.3L197.42 170.44L197.88 171.11L195.7 169.17L195.33 169.01L195.32 169.2L195.1 169.19L195.04 169.33L194.76 169.25L194.79 169.49L194.95 169.85L194.73 169.84L194.38 169.68L194.85 170.38L194.55 170.28L194.23 170.14L194.23 170.36L194.23 170.57L193.87 170.39L194.02 170.77L193.98 170.94L193.82 170.98L194.02 171.42L195.15 172.89L194.09 171.93L195.57 173.82L193.21 171.38L192.93 171.29L192.91 171.48L192.76 171.53L192.6 171.57L192.4 171.55L192.9 172.35L192.29 171.86L192.34 172.14L192.32 172.35L192.07 172.27L192.02 172.44L192.12 172.79L191.84 172.67L191.74 172.78L191.6 172.84L191.36 172.77L191.33 172.97L191.13 172.94L190.83 172.8L190.85 173.06L190.71 173.1L190.89 173.57L190.55 173.37L190.55 173.61L190.74 174.1L189.97 173.32L190.02 173.62L189.89 173.69L189.56 173.49L190.17 174.55L189.77 174.25L189.39 173.99L189.42 174.27L189.35 174.42L190.9 176.83L189.13 174.61L189.05 174.75L189.26 175.29L188.85 174.97L189.53 176.19L188.72 175.28L188.26 174.88L188.3 175.19L188.29 175.42L188.02 175.28L188.17 175.77L187.86 175.56L187.83 175.78L187.67 175.81L187.76 176.2L187.65 176.31L187.06 175.67L186.84 175.59L186.98 176.08L186.83 176.11L186.7 176.17L186.22 175.67L186.16 175.84" fill="none" stroke="#4a3d22" stroke-width="0.55" stroke-linejoin="round"/>
<path d="M185.59 176.06L185.51 176.21L185.34 176.2L185.65 177L185.5 177.04L185.34 177.04L185.02 176.78L184.81 176.7L184.72 176.84L184.54 176.8L184.59 177.18L184.4 177.14L184.39 177.41L184.46 177.84L184.24 177.75L183.93 177.48L183.81 177.55L183.6 177.48L183.6 177.78L183.44 177.77L183.14 177.52L183.02 177.6L182.94 177.76L182.95 178.09L182.66 177.83L182.64 178.12L182.69 178.52L182.48 178.43L182.31 178.42L182.43 178.99L182.18 178.81L182.08 178.94L181.9 178.89L182.66 180.81L183.8 183.57L181.68 179.44L181.43 179.25L181.94 180.7L181.12 179.27L180.97 179.29L180.92 179.54L180.59 179.16L180.47 179.25L180.54 179.74L180.41 179.82L180.24 179.79L180.04 179.69L180.02 180.01L179.64 179.49L179.51 179.56L179.43 179.73L179.59 180.49L179.41 180.45L179.36 180.71L179.22 180.75L178.94 180.44L178.81 180.51L178.71 180.65L178.32 180.06L178.24 180.24L178.16 180.45L177.99 180.41L177.87 180.48L178.46 182.47L177.84 181.25L177.59 180.97L177.41 180.91L177.42 181.38L177.76 182.75L176.87 180.7L176.69 180.61L176.68 181.01L177.1 182.7L176.34 180.92L177.29 184.18L176.28 181.64L176.09 181.55L176.05 181.89L175.76 181.47L175.55 181.28L175.35 181.13L175.21 181.15L175.1 181.29L175.2 182.11L175.04 182.1L175.23 183.23L174.72 182.02L174.63 182.25L174.52 182.39L174.4 182.5L174.57 183.62L174.05 182.35L174.21 183.44L173.7 182.15L173.51 182.04L173.77 183.54L173.44 182.88L173.02 181.86L173.03 182.5L172.84 182.34L172.6 181.98L172.52 182.23L172.35 182.15L172.24 182.3L172.6 184.4L172.03 182.68L171.91 182.82L171.74 182.71L171.6 182.77L171.43 182.65L171.62 184.18L171.04 182.26L171.01 182.78L170.79 182.44L170.67 182.56L170.48 182.39L170.97 185.44L170.27 182.77L170.05 182.42L169.98 182.81L169.86 182.92L169.98 184.33L169.49 182.54L169.39 182.77L169.24 182.75L169.11 182.84L169.03 183.24L168.95 183.62L168.75 183.35L168.64 183.53L168.45 183.3L168.62 185.24L168.22 183.73L168.03 183.41L167.88 183.43L168 185.22L167.58 183.36L167.43 183.35L167.63 185.78L167.32 184.69L167 183.36L166.86 183.41L166.71 183.41L166.57 183.49L166.53 184.36L166.27 183.37L166.11 183.25L165.97 183.33L165.85 183.57L165.72 183.63L165.68 184.67L165.43 183.65L165.31 183.95L165.15 183.8L164.95 183.26L164.82 183.35L164.74 184.19L164.58 183.98L164.4 183.57L164.27 183.76L164.13 183.88L164.13 185.77L163.85 183.92L163.71 184.07L163.7 186.16L163.4 183.76L163.25 183.74L163.13 184.05L162.96 183.75L162.86 184.66L162.66 183.5L162.53 183.86L162.44 185.18L162.23 183.38L162.08 183.36L161.98 184.79L161.8 183.44L161.65 183.19L161.51 183.56L161.38 184.15L161.22 183.55L161.08 183.23L160.94 183.71L160.79 183.69L160.65 183.25L160.5 183.14L160.36 183.46L160.22 183.55L160.07 183.74L159.93 183.77L159.76 185.32L159.63 183.99L159.49 183.92L159.35 183.87L159.2 184.02L159.05 183.94L158.92 183.58L158.79 183.21L158.65 182.91L158.5 183.14L158.37 183.02L158.21 183.37L158.06 183.35L157.91 183.6L157.78 183.22L157.64 183.3L157.5 183.15L157.33 183.52L157.2 183.33L157.05 183.53L156.88 183.78L156.73 183.92L156.43 185.91L156.4 184.36L156.27 184.17L156.1 184.45L155.95 184.4L155.84 184L155.68 184.15L155.59 183.55L155.3 185.02L155.25 184.06L154.88 186.17L155.03 183.43L154.87 183.49L154.67 183.97L154.5 184.15L154.43 183.57L154.32 183.25L154.16 183.39L153.97 183.68L153.87 183.36L153.65 183.89L153.54 183.61L153.41 183.53L153.35 182.93L153.13 183.41L152.84 184.39L152.49 185.66L152.75 183.04L152.51 183.64L152.43 183.21L152.01 184.84L151.6 186.39L151.95 183.42L151.6 184.59L151.68 183.29L151.61 182.85L151.11 184.78L151.32 182.81L151.15 182.96L151.11 182.39L150.86 182.95L150.79 182.52L150.6 182.78L150.44 182.82L150.31 182.74L150.15 182.78L149.94 183.06L149.89 182.61L149.72 182.73L149.57 182.71L149.3 183.27L149.3 182.61L149.09 182.88L149.02 182.54L148.23 185.2L148.64 182.87L148.68 182.11L148.42 182.55L148.32 182.36L148.18 182.32L147.97 182.56L147.78 182.7L147.74 182.26L147.65 182.04L147.44 182.27L147.26 182.36L147.28 181.77L147.11 181.84L146.98 181.75L146.72 182.14L146.63 181.95L146.4 182.22L146.41 181.64L145.2 185.21L146.09 181.71L146.06 181.34L144.97 184.38L145.76 181.31L145.76 180.83L145.65 180.7L145.45 180.86L145.28 180.92L145.05 181.17L144.78 181.52L144.66 181.44L144.5 181.47L144.32 181.53L144.12 181.67L144.01 181.53L143.76 181.8L143.63 181.74L143.56 181.48L143.52 181.17L142.99 182.2L143.43 180.56L143.22 180.73L143.23 180.27L142.97 180.57L142.97 180.16L142.79 180.21L142.55 180.44L142.43 180.36L142.25 180.43L142.27 179.97L142.07 180.1L141.71 180.6L141.76 180.08L141.61 180.07L141.27 180.51L141.31 180.04L140.6 181.36L141.21 179.54L140.94 179.79L141.04 179.2L140.67 179.71L140.52 179.69L140.39 179.61L140.45 179.13L140.35 179L140.21 178.95L140.1 178.85L139.95 178.85L139.76 178.92L139.6 178.92L139.7 178.36L139.51 178.43L139.43 178.26L139.56 177.99A48.4 48.4 0 0 0 185.4 175.74Z" fill="#e9c076"/><path d="M185.59 176.06L185.51 176.21L185.34 176.2L185.65 177L185.5 177.04L185.34 177.04L185.02 176.78L184.81 176.7L184.72 176.84L184.54 176.8L184.59 177.18L184.4 177.14L184.39 177.41L184.46 177.84L184.24 177.75L183.93 177.48L183.81 177.55L183.6 177.48L183.6 177.78L183.44 177.77L183.14 177.52L183.02 177.6L182.94 177.76L182.95 178.09L182.66 177.83L182.64 178.12L182.69 178.52L182.48 178.43L182.31 178.42L182.43 178.99L182.18 178.81L182.08 178.94L181.9 178.89L182.66 180.81L183.8 183.57L181.68 179.44L181.43 179.25L181.94 180.7L181.12 179.27L180.97 179.29L180.92 179.54L180.59 179.16L180.47 179.25L180.54 179.74L180.41 179.82L180.24 179.79L180.04 179.69L180.02 180.01L179.64 179.49L179.51 179.56L179.43 179.73L179.59 180.49L179.41 180.45L179.36 180.71L179.22 180.75L178.94 180.44L178.81 180.51L178.71 180.65L178.32 180.06L178.24 180.24L178.16 180.45L177.99 180.41L177.87 180.48L178.46 182.47L177.84 181.25L177.59 180.97L177.41 180.91L177.42 181.38L177.76 182.75L176.87 180.7L176.69 180.61L176.68 181.01L177.1 182.7L176.34 180.92L177.29 184.18L176.28 181.64L176.09 181.55L176.05 181.89L175.76 181.47L175.55 181.28L175.35 181.13L175.21 181.15L175.1 181.29L175.2 182.11L175.04 182.1L175.23 183.23L174.72 182.02L174.63 182.25L174.52 182.39L174.4 182.5L174.57 183.62L174.05 182.35L174.21 183.44L173.7 182.15L173.51 182.04L173.77 183.54L173.44 182.88L173.02 181.86L173.03 182.5L172.84 182.34L172.6 181.98L172.52 182.23L172.35 182.15L172.24 182.3L172.6 184.4L172.03 182.68L171.91 182.82L171.74 182.71L171.6 182.77L171.43 182.65L171.62 184.18L171.04 182.26L171.01 182.78L170.79 182.44L170.67 182.56L170.48 182.39L170.97 185.44L170.27 182.77L170.05 182.42L169.98 182.81L169.86 182.92L169.98 184.33L169.49 182.54L169.39 182.77L169.24 182.75L169.11 182.84L169.03 183.24L168.95 183.62L168.75 183.35L168.64 183.53L168.45 183.3L168.62 185.24L168.22 183.73L168.03 183.41L167.88 183.43L168 185.22L167.58 183.36L167.43 183.35L167.63 185.78L167.32 184.69L167 183.36L166.86 183.41L166.71 183.41L166.57 183.49L166.53 184.36L166.27 183.37L166.11 183.25L165.97 183.33L165.85 183.57L165.72 183.63L165.68 184.67L165.43 183.65L165.31 183.95L165.15 183.8L164.95 183.26L164.82 183.35L164.74 184.19L164.58 183.98L164.4 183.57L164.27 183.76L164.13 183.88L164.13 185.77L163.85 183.92L163.71 184.07L163.7 186.16L163.4 183.76L163.25 183.74L163.13 184.05L162.96 183.75L162.86 184.66L162.66 183.5L162.53 183.86L162.44 185.18L162.23 183.38L162.08 183.36L161.98 184.79L161.8 183.44L161.65 183.19L161.51 183.56L161.38 184.15L161.22 183.55L161.08 183.23L160.94 183.71L160.79 183.69L160.65 183.25L160.5 183.14L160.36 183.46L160.22 183.55L160.07 183.74L159.93 183.77L159.76 185.32L159.63 183.99L159.49 183.92L159.35 183.87L159.2 184.02L159.05 183.94L158.92 183.58L158.79 183.21L158.65 182.91L158.5 183.14L158.37 183.02L158.21 183.37L158.06 183.35L157.91 183.6L157.78 183.22L157.64 183.3L157.5 183.15L157.33 183.52L157.2 183.33L157.05 183.53L156.88 183.78L156.73 183.92L156.43 185.91L156.4 184.36L156.27 184.17L156.1 184.45L155.95 184.4L155.84 184L155.68 184.15L155.59 183.55L155.3 185.02L155.25 184.06L154.88 186.17L155.03 183.43L154.87 183.49L154.67 183.97L154.5 184.15L154.43 183.57L154.32 183.25L154.16 183.39L153.97 183.68L153.87 183.36L153.65 183.89L153.54 183.61L153.41 183.53L153.35 182.93L153.13 183.41L152.84 184.39L152.49 185.66L152.75 183.04L152.51 183.64L152.43 183.21L152.01 184.84L151.6 186.39L151.95 183.42L151.6 184.59L151.68 183.29L151.61 182.85L151.11 184.78L151.32 182.81L151.15 182.96L151.11 182.39L150.86 182.95L150.79 182.52L150.6 182.78L150.44 182.82L150.31 182.74L150.15 182.78L149.94 183.06L149.89 182.61L149.72 182.73L149.57 182.71L149.3 183.27L149.3 182.61L149.09 182.88L149.02 182.54L148.23 185.2L148.64 182.87L148.68 182.11L148.42 182.55L148.32 182.36L148.18 182.32L147.97 182.56L147.78 182.7L147.74 182.26L147.65 182.04L147.44 182.27L147.26 182.36L147.28 181.77L147.11 181.84L146.98 181.75L146.72 182.14L146.63 181.95L146.4 182.22L146.41 181.64L145.2 185.21L146.09 181.71L146.06 181.34L144.97 184.38L145.76 181.31L145.76 180.83L145.65 180.7L145.45 180.86L145.28 180.92L145.05 181.17L144.78 181.52L144.66 181.44L144.5 181.47L144.32 181.53L144.12 181.67L144.01 181.53L143.76 181.8L143.63 181.74L143.56 181.48L143.52 181.17L142.99 182.2L143.43 180.56L143.22 180.73L143.23 180.27L142.97 180.57L142.97 180.16L142.79 180.21L142.55 180.44L142.43 180.36L142.25 180.43L142.27 179.97L142.07 180.1L141.71 180.6L141.76 180.08L141.61 180.07L141.27 180.51L141.31 180.04L140.6 181.36L141.21 179.54L140.94 179.79L141.04 179.2L140.67 179.71L140.52 179.69L140.39 179.61L140.45 179.13L140.35 179L140.21 178.95L140.1 178.85L139.95 178.85L139.76 178.92L139.6 178.92L139.7 178.36L139.51 178.43L139.43 178.26" fill="none" stroke="#4a3d22" stroke-width="0.55" stroke-linejoin="round"/>
<path d="M138.88 178.03L138.77 177.93L138.54 178.09L137.29 180.24L137.05 180.39L137.81 178.57L137.8 178.28L137 179.5L137.41 178.4L135.94 180.87L136.65 179.2L136.76 178.69L136.98 177.97L137.01 177.6L136.41 178.41L136.53 177.89L136.36 177.89L136.25 177.79L136.08 177.79L135.88 177.86L134.77 179.51L135.52 177.9L135.62 177.43L135.14 177.97L135.32 177.37L135.45 176.85L135.34 176.76L134.63 177.67L135.32 176.23L135.02 176.45L135.11 176.02L134.73 176.38L134.73 176.11L134.56 176.1L133.91 176.88L134.42 175.78L134.04 176.13L133.83 176.18L133.63 176.23L133.63 175.95L133.5 175.89L133.37 175.83L133.36 175.58L132.46 176.69L133.1 175.44L132.82 175.6L132.5 175.81L132.71 175.26L132.51 175.29L132.25 175.4L131.86 175.73L132.24 174.91L131.9 175.15L131.81 175.03L130.87 176.1L130.02 177.04L131.68 174.46L131.91 173.89L131.61 174.06L131.41 174.1L131.31 173.99L131 174.16L130.77 174.23L130.69 174.1L130.19 174.52L130.58 173.76L130.61 173.48L130.28 173.68L130.02 173.77L130 173.57L129.24 174.3L129.73 173.44L129.59 173.38L129.84 172.83L129.51 173.02L129.4 172.92L129.31 172.8L129.37 172.5L128.98 172.74L128.93 172.59L127.65 173.9L126.65 174.87L128.52 172.39L128.31 172.42L128.23 172.29L128.57 171.67L128.66 171.34L128.3 171.54L127.46 172.29L127.61 171.89L127.68 171.6L127.41 171.68L127.41 171.46L127.31 171.36L127.44 170.99L127.14 171.11L127.14 170.9L126.95 170.89L126.52 171.14L126.3 171.16L124.42 172.97L126.15 170.9L125.45 171.42L126.19 170.43L124.89 171.58L125.97 170.23L126.05 169.94L125.76 170.04L125.49 170.1L125.24 170.15L125.41 169.77L125.12 169.85L125.07 169.7L125.39 169.17L125.45 168.91L125.17 168.99L125.08 168.87L124.78 168.96L124.75 168.79L124.19 169.13L124.41 168.71L124.41 168.51L124.29 168.43L124.3 168.22L124.34 167.98L124 168.1L124.09 167.82L123.9 167.8L123.47 168L123.58 167.69L123.7 167.39L123.63 167.26L123.72 166.99L123.33 167.15L123.45 166.85L123.37 166.72L123.08 166.78L122.4 167.18L122.54 166.87L122.05 167.1L121.92 167.01L121.96 166.79L122.28 166.32L122.27 166.14L122.34 165.9L122.58 165.51L122.43 165.45L122.17 165.48L121.97 165.46L121.8 165.4L121.68 165.32L121.14 165.56L121.66 164.96L121.32 165.05L121.18 164.97L121.2 164.77L121.25 164.55L120.98 164.57L120.93 164.43L120.68 164.43L120.75 164.2L120.82 163.97L121.03 163.63L120.9 163.55L120.86 163.4L120.53 163.47L120.64 163.2L120.35 163.24L120.32 163.08L120.33 162.9L120.24 162.79L120.25 162.6L120.04 162.58L120.1 162.36L119.96 162.28L119.77 162.24L119.57 162.2L119.63 161.98L119.14 162.14L119.01 162.05L119.21 161.75L118.12 162.29L118.59 161.81L119.01 161.36L118.99 161.2L118.85 161.11L119.09 160.79L118.72 160.85L118.93 160.55L118.7 160.53L118.69 160.36L117.2 161.12L118.38 160.22L117.56 160.55L117.7 160.29L117.68 160.13L117.69 159.96L117.66 159.81L116.79 160.16L117.72 159.44L117.71 159.27L117.84 159.03L117.59 159.01L117.24 159.04L117.45 158.75L117.17 158.75L117.3 158.51L117.46 158.26L117.38 158.13L117.45 157.93L117.34 157.83L117.06 157.82L114.96 158.79L117.07 157.49L115.99 157.9L117.03 157.18L116.9 157.09L116.91 156.92L116.44 157.01L116.45 156.84L116.16 156.82L116.34 156.57L115.89 156.63L116.17 156.33L115.74 156.38L115.85 156.17L115.59 156.13L115.58 155.98L114.35 156.41L115.56 155.66L112 157.19L115.79 155.23L115.01 155.44L114.45 155.54L115.27 155L111.99 156.33L115.1 154.75L115.24 154.53L115.08 154.45L114.04 154.75L114.43 154.42L114.53 154.21L114.5 154.07L114.49 153.91L114.61 153.7L114.64 153.53L114.97 153.24L114.99 153.07L115.02 152.91L113.79 153.25L114.81 152.68L114.59 152.62L114.64 152.44L114.79 152.23L113.74 152.48L114.65 151.97L114.52 151.87L113.93 151.94L113.72 151.87L112.4 152.2L114.03 151.44L114.21 151.22L113.99 151.15L114.25 150.9L114.03 150.83L114.25 150.6L114.39 150.4L114.11 150.34L114.05 150.21L113.91 150.11L113.44 150.12L113.17 150.05L112.81 150.02L112.7 149.9L110.31 150.52L112.83 149.55L113.06 149.33L112.94 149.21L113.1 149.01L113.08 148.86L111.86 149.08L112.68 148.68L112.87 148.47L113.26 148.21L113.01 148.13L113.33 147.89L113.37 147.73L113.17 147.64L113.09 147.51L112.6 147.5L111.08 147.76L112.26 147.29L111.65 147.3L111.22 147.26L112.06 146.89L112.3 146.67L112.02 146.6L112.33 146.37L112.09 146.28L111.89 146.18L111.77 146.06L111.65 145.93L111.05 145.93L111.69 145.63L111.54 145.51L110.41 145.61L111.46 145.23L111.63 145.04L109.91 145.26L111.78 144.71L110.53 144.83L111.56 144.46L111.53 144.32L111.99 144.07L111.61 144L112.06 143.77L112.31 143.57L112.64 143.36L112.41 143.26L112.12 143.17L112.08 143.03L111.94 142.91L111.78 142.79L111.18 142.75L111.25 142.59L111.32 142.43L109.96 142.5L111.48 142.11L109.95 142.21L111.14 141.87L111.13 141.73L110.8 141.63L110.96 141.46L111.12 141.29L111.3 141.11L111.35 140.96L111.49 140.8L111.41 140.66L110.48 140.63L109.03 140.67L111.31 140.24L109.98 140.25L111.47 139.93L111.43 139.79L111.76 139.61L109.26 139.73L111.63 139.33L111.6 139.19L111.24 139.08L111.01 138.96L111.29 138.79L110.86 138.68L110.74 138.55L110.95 138.38L110.59 138.27L110.45 138.13L107.91 138.17L110.87 137.81L110.79 137.67L110.36 137.55L110.66 137.38L111.02 137.22L103.85 137.48L111.09 136.92L110.19 136.83L110.66 136.66L110.52 136.52L110.93 136.35L110.5 136.23L110.37 136.08L110.58 135.93L110.05 135.8L110.35 135.65L110.52 135.5L110.79 135.34L110.72 135.2L110.87 135.05L111.23 134.9L111.14 134.76L110.19 134.62L110.49 134.48L111.63 134.33L111.56 134.19L111.65 134.04L112 134.05A48.4 48.4 0 0 0 139.03 177.73Z" fill="#e9c076"/><path d="M138.88 178.03L138.77 177.93L138.54 178.09L137.29 180.24L137.05 180.39L137.81 178.57L137.8 178.28L137 179.5L137.41 178.4L135.94 180.87L136.65 179.2L136.76 178.69L136.98 177.97L137.01 177.6L136.41 178.41L136.53 177.89L136.36 177.89L136.25 177.79L136.08 177.79L135.88 177.86L134.77 179.51L135.52 177.9L135.62 177.43L135.14 177.97L135.32 177.37L135.45 176.85L135.34 176.76L134.63 177.67L135.32 176.23L135.02 176.45L135.11 176.02L134.73 176.38L134.73 176.11L134.56 176.1L133.91 176.88L134.42 175.78L134.04 176.13L133.83 176.18L133.63 176.23L133.63 175.95L133.5 175.89L133.37 175.83L133.36 175.58L132.46 176.69L133.1 175.44L132.82 175.6L132.5 175.81L132.71 175.26L132.51 175.29L132.25 175.4L131.86 175.73L132.24 174.91L131.9 175.15L131.81 175.03L130.87 176.1L130.02 177.04L131.68 174.46L131.91 173.89L131.61 174.06L131.41 174.1L131.31 173.99L131 174.16L130.77 174.23L130.69 174.1L130.19 174.52L130.58 173.76L130.61 173.48L130.28 173.68L130.02 173.77L130 173.57L129.24 174.3L129.73 173.44L129.59 173.38L129.84 172.83L129.51 173.02L129.4 172.92L129.31 172.8L129.37 172.5L128.98 172.74L128.93 172.59L127.65 173.9L126.65 174.87L128.52 172.39L128.31 172.42L128.23 172.29L128.57 171.67L128.66 171.34L128.3 171.54L127.46 172.29L127.61 171.89L127.68 171.6L127.41 171.68L127.41 171.46L127.31 171.36L127.44 170.99L127.14 171.11L127.14 170.9L126.95 170.89L126.52 171.14L126.3 171.16L124.42 172.97L126.15 170.9L125.45 171.42L126.19 170.43L124.89 171.58L125.97 170.23L126.05 169.94L125.76 170.04L125.49 170.1L125.24 170.15L125.41 169.77L125.12 169.85L125.07 169.7L125.39 169.17L125.45 168.91L125.17 168.99L125.08 168.87L124.78 168.96L124.75 168.79L124.19 169.13L124.41 168.71L124.41 168.51L124.29 168.43L124.3 168.22L124.34 167.98L124 168.1L124.09 167.82L123.9 167.8L123.47 168L123.58 167.69L123.7 167.39L123.63 167.26L123.72 166.99L123.33 167.15L123.45 166.85L123.37 166.72L123.08 166.78L122.4 167.18L122.54 166.87L122.05 167.1L121.92 167.01L121.96 166.79L122.28 166.32L122.27 166.14L122.34 165.9L122.58 165.51L122.43 165.45L122.17 165.48L121.97 165.46L121.8 165.4L121.68 165.32L121.14 165.56L121.66 164.96L121.32 165.05L121.18 164.97L121.2 164.77L121.25 164.55L120.98 164.57L120.93 164.43L120.68 164.43L120.75 164.2L120.82 163.97L121.03 163.63L120.9 163.55L120.86 163.4L120.53 163.47L120.64 163.2L120.35 163.24L120.32 163.08L120.33 162.9L120.24 162.79L120.25 162.6L120.04 162.58L120.1 162.36L119.96 162.28L119.77 162.24L119.57 162.2L119.63 161.98L119.14 162.14L119.01 162.05L119.21 161.75L118.12 162.29L118.59 161.81L119.01 161.36L118.99 161.2L118.85 161.11L119.09 160.79L118.72 160.85L118.93 160.55L118.7 160.53L118.69 160.36L117.2 161.12L118.38 160.22L117.56 160.55L117.7 160.29L117.68 160.13L117.69 159.96L117.66 159.81L116.79 160.16L117.72 159.44L117.71 159.27L117.84 159.03L117.59 159.01L117.24 159.04L117.45 158.75L117.17 158.75L117.3 158.51L117.46 158.26L117.38 158.13L117.45 157.93L117.34 157.83L117.06 157.82L114.96 158.79L117.07 157.49L115.99 157.9L117.03 157.18L116.9 157.09L116.91 156.92L116.44 157.01L116.45 156.84L116.16 156.82L116.34 156.57L115.89 156.63L116.17 156.33L115.74 156.38L115.85 156.17L115.59 156.13L115.58 155.98L114.35 156.41L115.56 155.66L112 157.19L115.79 155.23L115.01 155.44L114.45 155.54L115.27 155L111.99 156.33L115.1 154.75L115.24 154.53L115.08 154.45L114.04 154.75L114.43 154.42L114.53 154.21L114.5 154.07L114.49 153.91L114.61 153.7L114.64 153.53L114.97 153.24L114.99 153.07L115.02 152.91L113.79 153.25L114.81 152.68L114.59 152.62L114.64 152.44L114.79 152.23L113.74 152.48L114.65 151.97L114.52 151.87L113.93 151.94L113.72 151.87L112.4 152.2L114.03 151.44L114.21 151.22L113.99 151.15L114.25 150.9L114.03 150.83L114.25 150.6L114.39 150.4L114.11 150.34L114.05 150.21L113.91 150.11L113.44 150.12L113.17 150.05L112.81 150.02L112.7 149.9L110.31 150.52L112.83 149.55L113.06 149.33L112.94 149.21L113.1 149.01L113.08 148.86L111.86 149.08L112.68 148.68L112.87 148.47L113.26 148.21L113.01 148.13L113.33 147.89L113.37 147.73L113.17 147.64L113.09 147.51L112.6 147.5L111.08 147.76L112.26 147.29L111.65 147.3L111.22 147.26L112.06 146.89L112.3 146.67L112.02 146.6L112.33 146.37L112.09 146.28L111.89 146.18L111.77 146.06L111.65 145.93L111.05 145.93L111.69 145.63L111.54 145.51L110.41 145.61L111.46 145.23L111.63 145.04L109.91 145.26L111.78 144.71L110.53 144.83L111.56 144.46L111.53 144.32L111.99 144.07L111.61 144L112.06 143.77L112.31 143.57L112.64 143.36L112.41 143.26L112.12 143.17L112.08 143.03L111.94 142.91L111.78 142.79L111.18 142.75L111.25 142.59L111.32 142.43L109.96 142.5L111.48 142.11L109.95 142.21L111.14 141.87L111.13 141.73L110.8 141.63L110.96 141.46L111.12 141.29L111.3 141.11L111.35 140.96L111.49 140.8L111.41 140.66L110.48 140.63L109.03 140.67L111.31 140.24L109.98 140.25L111.47 139.93L111.43 139.79L111.76 139.61L109.26 139.73L111.63 139.33L111.6 139.19L111.24 139.08L111.01 138.96L111.29 138.79L110.86 138.68L110.74 138.55L110.95 138.38L110.59 138.27L110.45 138.13L107.91 138.17L110.87 137.81L110.79 137.67L110.36 137.55L110.66 137.38L111.02 137.22L103.85 137.48L111.09 136.92L110.19 136.83L110.66 136.66L110.52 136.52L110.93 136.35L110.5 136.23L110.37 136.08L110.58 135.93L110.05 135.8L110.35 135.65L110.52 135.5L110.79 135.34L110.72 135.2L110.87 135.05L111.23 134.9L111.14 134.76L110.19 134.62L110.49 134.48L111.63 134.33L111.56 134.19L111.65 134.04" fill="none" stroke="#4a3d22" stroke-width="0.55" stroke-linejoin="round"/>
<path d="M111.53 133.45L110.6 133.29L111.71 133.17L110.59 132.99L109.21 132.81L110.76 132.71L111.49 132.59L111.27 132.44L111.65 132.31L111.51 132.16L111.58 132.02L110.94 131.85L108.68 131.58L110.73 131.54L110.83 131.4L110.26 131.22L110.83 131.11L110.45 130.94L110.27 130.78L110.58 130.66L111.34 130.57L111.2 130.42L110.48 130.21L110.29 130.05L111.4 130L111.38 129.85L111.19 129.69L111.79 129.6L111.69 129.45L109.63 129.1L111.23 129.12L111.48 129L111.51 128.86L111.2 128.68L110.99 128.51L111.04 128.36L110.76 128.18L111.35 128.11L111.34 127.96L111.36 127.82L111.63 127.71L111.13 127.5L109.1 127.07L111.44 127.25L111.27 127.08L110.94 126.88L111.48 126.82L111.36 126.65L111.22 126.48L111.11 126.32L111.75 126.28L110.48 125.92L111.2 125.89L111.76 125.84L109.13 125.23L109.73 125.18L111.59 125.37L110.48 125.01L112.11 125.17L112.22 125.05L111.69 124.8L110.43 124.4L111.41 124.45L111.32 124.28L111.48 124.16L111.51 124.02L111.97 123.97L112.2 123.87L111.67 123.61L111.94 123.52L112.27 123.44L111.26 123.06L112.01 123.09L112.29 123L111.72 122.72L111.94 122.62L111.81 122.44L112.18 122.38L112.21 122.24L112.36 122.13L112.43 122L112.85 121.96L112.44 121.7L112.26 121.5L112.33 121.37L112.28 121.21L111.22 120.76L111.88 120.79L112.59 120.84L112.74 120.73L112.87 120.62L112.67 120.41L112.75 120.28L113.25 120.28L113.04 120.07L112.98 119.9L112.85 119.71L113.32 119.7L113.17 119.5L113.3 119.39L113.43 119.28L113.4 119.12L113.35 118.95L113.33 118.8L113.45 118.68L113.02 118.38L113.16 118.28L112.81 118L113.4 118.05L113.33 117.87L113.65 117.83L113.71 117.7L114.16 117.71L112.91 117.1L113.98 117.34L113.45 116.99L113.83 116.97L114.17 116.95L114.41 116.88L114.59 116.8L114.77 116.71L114.56 116.48L114.51 116.3L114.5 116.14L114.27 115.9L114.55 115.86L112.39 114.82L114.15 115.38L113.46 114.94L114.62 115.26L114.96 115.24L115.01 115.11L115.14 115.01L114.69 114.66L113.36 113.93L114.45 114.23L114.54 114.12L114.74 114.05L115.12 114.06L115.27 113.96L115.64 113.97L115.76 113.87L115.81 113.74L115.19 113.29L115.48 113.26L115.64 113.18L116.09 113.23L116.29 113.17L116 112.87L116.28 112.85L116.17 112.64L115.95 112.37L115.78 112.12L115.71 111.92L115.88 111.84L116.21 111.85L116.68 111.93L116.65 111.75L116.86 111.7L116.84 111.52L116.83 111.36L116.66 111.1L116.15 110.67L115.04 109.91L116.4 110.47L116.75 110.49L117.3 110.63L117.21 110.42L115.69 109.4L117.59 110.3L117.67 110.18L117.5 109.92L117.62 109.82L115.96 108.7L117.77 109.57L116.04 108.4L118.05 109.41L116.28 108.19L117.86 108.96L118.04 108.9L117.89 108.64L117.43 108.19L116.52 107.46L117.85 108.1L117.58 107.77L118.59 108.22L118.74 108.14L118.55 107.86L118.9 107.9L118.13 107.24L118.8 107.5L118.75 107.29L118.75 107.12L118.87 107.03L119.32 107.15L119.36 107.01L119.47 106.9L119.41 106.69L118.16 105.67L119.18 106.18L119.27 106.07L119.18 105.83L119.12 105.61L118.69 105.13L119.76 105.7L120.45 106.02L120.34 105.76L120.58 105.75L119.71 104.95L119.67 104.74L119.94 104.76L120.35 104.88L120.36 104.7L120.29 104.47L120.57 104.5L120.73 104.44L120.62 104.17L118.96 102.72L120.58 103.77L121.01 103.92L120.59 103.41L121.36 103.83L121.92 104.08L122.06 104L121.95 103.73L121.48 103.18L122.16 103.54L121.69 102.97L121.9 102.96L122.04 102.89L122.12 102.77L122.32 102.74L122.35 102.58L122.42 102.45L122.34 102.19L122.63 102.25L122.55 101.98L122.66 101.89L122.96 101.96L122.94 101.75L123.17 101.76L123.13 101.53L123.22 101.42L123.77 101.72L123.56 101.33L123.69 101.26L122.93 100.38L123.96 101.11L123.16 100.18L123.44 100.24L124.06 100.62L124.41 100.74L124.46 100.59L124.37 100.31L123.2 99L124.51 100.04L124.73 100.05L124.79 99.91L124.43 99.36L125.05 99.76L124.86 99.37L125.38 99.69L125.31 99.41L125.32 99.21L125.55 99.24L125.53 99.02L125.77 99.05L125.59 98.66L125.67 98.53L125.72 98.37L125.6 98.04L125.75 97.99L125.94 97.98L126 97.83L125.8 97.4L126.45 97.88L126.64 97.87L126.74 97.76L127.05 97.89L127.36 98.01L127.47 97.92L127.2 97.41L127.37 97.38L127.31 97.1L126.87 96.38L127.5 96.87L127.66 96.83L127.81 96.78L127.95 96.73L128.1 96.68L128.42 96.83L128.41 96.59L128.6 96.6L128.33 96.05L128.53 96.06L128.66 95.99L128.73 95.84L129.04 96L129.3 96.09L128.25 94.56L129.34 95.67L129.39 95.51L129.71 95.68L129.66 95.38L129.63 95.11L129.83 95.12L129.96 95.06L129.92 94.77L130.18 94.87L130.39 94.9L130.45 94.74L130.71 94.85L130.77 94.69L130.82 94.51L131.01 94.53L131.27 94.63L131.39 94.56L131.66 94.68L131.52 94.25L131.34 93.75L131.52 93.76L131.77 93.86L131.7 93.5L132.04 93.73L132.22 93.74L132.63 94.09L132.3 93.34L132.45 93.3L132.48 93.09L132.55 92.94L132.85 93.12L133.05 93.17L133.11 92.99L133.29 93.01L133.52 93.1L133.44 92.71L133.43 92.42L133.71 92.59L133.99 92.76L133.92 92.38L134.35 92.79L134.47 92.71L134.34 92.23L134.5 92.22L134.44 91.84L134.55 91.74L134.85 91.97L134.98 91.9L135.18 91.94L134.28 90.14L135.29 91.56L135.27 91.25L135.44 91.26L135.58 91.2L135.71 91.14L136.08 91.49L136.11 91.25L136.25 91.2L136.36 91.11L134.96 88.28L136.49 90.75L136.58 90.6L134.71 86.84L136.74 90.29L136.58 89.68L136.94 90.05L137.08 90L137.44 90.38L137.67 90.49L138.03 90.88L136.94 88.45L138.06 90.31L138.39 90.66L138.38 90.32L138.46 90.14L138.62 90.14L138.88 90.35L138.84 89.94L138.79 89.5L138.93 89.47L138.02 87.2L139.13 89.21L139.45 89.55L139.51 89.33L139.68 89.35L139.7 89.05L139.79 88.89L139.95 88.89L140.16 89.01L140.27 88.89L140.25 88.49L140.46 88.62L140.48 88.29L140.64 88.29L139.43 85.09L141.21 88.89L141.31 88.76L141.42 88.65L141.63 88.79L141.7 88.58L141.75 88.31L141.97 88.46L142.13 88.47L142.26 88.41L142.24 87.97L142.52 88.28L142.5 87.84L141.99 86.09L142.82 87.87L143.04 88.02L143.19 88.03L143.27 87.83L143.62 88.36L143.38 87.29L143.9 88.29L143.78 87.54L144.19 88.26L144.17 87.77L144.21 87.43L144.42 87.62L144.52 87.45L144.6 87.24L144.58 86.72L144.98 87.46L145.1 87.37L145.32 87.6L145.28 86.98L145.03 85.73L144.55 83.68L145.8 87.19L145.49 85.68L145.99 86.85L146.03 86.45L146.28 86.79L146.47 86.94L146.54 86.66L146.82 87.09L146.57 85.69L146.94 86.45L147.16 86.73L147.15 86.15L147.28 86.04L147.13 84.94L147.52 85.83L147.82 86.37L147.09 82.99L147.99 85.9L148.18 86.03L148.19 85.47L148.43 85.85L148.6 85.9L148.89 86.51L148.99 86.3L148.6 84.02L149.3 86.38L149.42 86.24L149.46 85.79L149.61 85.76L149.8 85.98L149.96 86.04L150.24 86.65L150.39 86.65L150.49 86.44L150.59 86.91A48.4 48.4 0 0 0 112.01 133.46Z" fill="#e9c076"/><path d="M111.53 133.45L110.6 133.29L111.71 133.17L110.59 132.99L109.21 132.81L110.76 132.71L111.49 132.59L111.27 132.44L111.65 132.31L111.51 132.16L111.58 132.02L110.94 131.85L108.68 131.58L110.73 131.54L110.83 131.4L110.26 131.22L110.83 131.11L110.45 130.94L110.27 130.78L110.58 130.66L111.34 130.57L111.2 130.42L110.48 130.21L110.29 130.05L111.4 130L111.38 129.85L111.19 129.69L111.79 129.6L111.69 129.45L109.63 129.1L111.23 129.12L111.48 129L111.51 128.86L111.2 128.68L110.99 128.51L111.04 128.36L110.76 128.18L111.35 128.11L111.34 127.96L111.36 127.82L111.63 127.71L111.13 127.5L109.1 127.07L111.44 127.25L111.27 127.08L110.94 126.88L111.48 126.82L111.36 126.65L111.22 126.48L111.11 126.32L111.75 126.28L110.48 125.92L111.2 125.89L111.76 125.84L109.13 125.23L109.73 125.18L111.59 125.37L110.48 125.01L112.11 125.17L112.22 125.05L111.69 124.8L110.43 124.4L111.41 124.45L111.32 124.28L111.48 124.16L111.51 124.02L111.97 123.97L112.2 123.87L111.67 123.61L111.94 123.52L112.27 123.44L111.26 123.06L112.01 123.09L112.29 123L111.72 122.72L111.94 122.62L111.81 122.44L112.18 122.38L112.21 122.24L112.36 122.13L112.43 122L112.85 121.96L112.44 121.7L112.26 121.5L112.33 121.37L112.28 121.21L111.22 120.76L111.88 120.79L112.59 120.84L112.74 120.73L112.87 120.62L112.67 120.41L112.75 120.28L113.25 120.28L113.04 120.07L112.98 119.9L112.85 119.71L113.32 119.7L113.17 119.5L113.3 119.39L113.43 119.28L113.4 119.12L113.35 118.95L113.33 118.8L113.45 118.68L113.02 118.38L113.16 118.28L112.81 118L113.4 118.05L113.33 117.87L113.65 117.83L113.71 117.7L114.16 117.71L112.91 117.1L113.98 117.34L113.45 116.99L113.83 116.97L114.17 116.95L114.41 116.88L114.59 116.8L114.77 116.71L114.56 116.48L114.51 116.3L114.5 116.14L114.27 115.9L114.55 115.86L112.39 114.82L114.15 115.38L113.46 114.94L114.62 115.26L114.96 115.24L115.01 115.11L115.14 115.01L114.69 114.66L113.36 113.93L114.45 114.23L114.54 114.12L114.74 114.05L115.12 114.06L115.27 113.96L115.64 113.97L115.76 113.87L115.81 113.74L115.19 113.29L115.48 113.26L115.64 113.18L116.09 113.23L116.29 113.17L116 112.87L116.28 112.85L116.17 112.64L115.95 112.37L115.78 112.12L115.71 111.92L115.88 111.84L116.21 111.85L116.68 111.93L116.65 111.75L116.86 111.7L116.84 111.52L116.83 111.36L116.66 111.1L116.15 110.67L115.04 109.91L116.4 110.47L116.75 110.49L117.3 110.63L117.21 110.42L115.69 109.4L117.59 110.3L117.67 110.18L117.5 109.92L117.62 109.82L115.96 108.7L117.77 109.57L116.04 108.4L118.05 109.41L116.28 108.19L117.86 108.96L118.04 108.9L117.89 108.64L117.43 108.19L116.52 107.46L117.85 108.1L117.58 107.77L118.59 108.22L118.74 108.14L118.55 107.86L118.9 107.9L118.13 107.24L118.8 107.5L118.75 107.29L118.75 107.12L118.87 107.03L119.32 107.15L119.36 107.01L119.47 106.9L119.41 106.69L118.16 105.67L119.18 106.18L119.27 106.07L119.18 105.83L119.12 105.61L118.69 105.13L119.76 105.7L120.45 106.02L120.34 105.76L120.58 105.75L119.71 104.95L119.67 104.74L119.94 104.76L120.35 104.88L120.36 104.7L120.29 104.47L120.57 104.5L120.73 104.44L120.62 104.17L118.96 102.72L120.58 103.77L121.01 103.92L120.59 103.41L121.36 103.83L121.92 104.08L122.06 104L121.95 103.73L121.48 103.18L122.16 103.54L121.69 102.97L121.9 102.96L122.04 102.89L122.12 102.77L122.32 102.74L122.35 102.58L122.42 102.45L122.34 102.19L122.63 102.25L122.55 101.98L122.66 101.89L122.96 101.96L122.94 101.75L123.17 101.76L123.13 101.53L123.22 101.42L123.77 101.72L123.56 101.33L123.69 101.26L122.93 100.38L123.96 101.11L123.16 100.18L123.44 100.24L124.06 100.62L124.41 100.74L124.46 100.59L124.37 100.31L123.2 99L124.51 100.04L124.73 100.05L124.79 99.91L124.43 99.36L125.05 99.76L124.86 99.37L125.38 99.69L125.31 99.41L125.32 99.21L125.55 99.24L125.53 99.02L125.77 99.05L125.59 98.66L125.67 98.53L125.72 98.37L125.6 98.04L125.75 97.99L125.94 97.98L126 97.83L125.8 97.4L126.45 97.88L126.64 97.87L126.74 97.76L127.05 97.89L127.36 98.01L127.47 97.92L127.2 97.41L127.37 97.38L127.31 97.1L126.87 96.38L127.5 96.87L127.66 96.83L127.81 96.78L127.95 96.73L128.1 96.68L128.42 96.83L128.41 96.59L128.6 96.6L128.33 96.05L128.53 96.06L128.66 95.99L128.73 95.84L129.04 96L129.3 96.09L128.25 94.56L129.34 95.67L129.39 95.51L129.71 95.68L129.66 95.38L129.63 95.11L129.83 95.12L129.96 95.06L129.92 94.77L130.18 94.87L130.39 94.9L130.45 94.74L130.71 94.85L130.77 94.69L130.82 94.51L131.01 94.53L131.27 94.63L131.39 94.56L131.66 94.68L131.52 94.25L131.34 93.75L131.52 93.76L131.77 93.86L131.7 93.5L132.04 93.73L132.22 93.74L132.63 94.09L132.3 93.34L132.45 93.3L132.48 93.09L132.55 92.94L132.85 93.12L133.05 93.17L133.11 92.99L133.29 93.01L133.52 93.1L133.44 92.71L133.43 92.42L133.71 92.59L133.99 92.76L133.92 92.38L134.35 92.79L134.47 92.71L134.34 92.23L134.5 92.22L134.44 91.84L134.55 91.74L134.85 91.97L134.98 91.9L135.18 91.94L134.28 90.14L135.29 91.56L135.27 91.25L135.44 91.26L135.58 91.2L135.71 91.14L136.08 91.49L136.11 91.25L136.25 91.2L136.36 91.11L134.96 88.28L136.49 90.75L136.58 90.6L134.71 86.84L136.74 90.29L136.58 89.68L136.94 90.05L137.08 90L137.44 90.38L137.67 90.49L138.03 90.88L136.94 88.45L138.06 90.31L138.39 90.66L138.38 90.32L138.46 90.14L138.62 90.14L138.88 90.35L138.84 89.94L138.79 89.5L138.93 89.47L138.02 87.2L139.13 89.21L139.45 89.55L139.51 89.33L139.68 89.35L139.7 89.05L139.79 88.89L139.95 88.89L140.16 89.01L140.27 88.89L140.25 88.49L140.46 88.62L140.48 88.29L140.64 88.29L139.43 85.09L141.21 88.89L141.31 88.76L141.42 88.65L141.63 88.79L141.7 88.58L141.75 88.31L141.97 88.46L142.13 88.47L142.26 88.41L142.24 87.97L142.52 88.28L142.5 87.84L141.99 86.09L142.82 87.87L143.04 88.02L143.19 88.03L143.27 87.83L143.62 88.36L143.38 87.29L143.9 88.29L143.78 87.54L144.19 88.26L144.17 87.77L144.21 87.43L144.42 87.62L144.52 87.45L144.6 87.24L144.58 86.72L144.98 87.46L145.1 87.37L145.32 87.6L145.28 86.98L145.03 85.73L144.55 83.68L145.8 87.19L145.49 85.68L145.99 86.85L146.03 86.45L146.28 86.79L146.47 86.94L146.54 86.66L146.82 87.09L146.57 85.69L146.94 86.45L147.16 86.73L147.15 86.15L147.28 86.04L147.13 84.94L147.52 85.83L147.82 86.37L147.09 82.99L147.99 85.9L148.18 86.03L148.19 85.47L148.43 85.85L148.6 85.9L148.89 86.51L148.99 86.3L148.6 84.02L149.3 86.38L149.42 86.24L149.46 85.79L149.61 85.76L149.8 85.98L149.96 86.04L150.24 86.65L150.39 86.65L150.49 86.44" fill="none" stroke="#4a3d22" stroke-width="0.55" stroke-linejoin="round"/>
<path d="M151.08 86.35L151.22 86.26L151.37 86.25L151.35 85.29L151.6 85.84L151.69 85.43L151.87 85.58L152.05 85.72L152.16 85.44L152.25 85.1L152.46 85.39L152.59 85.24L152.78 85.48L152.95 85.55L153.03 85.06L153.18 85.04L153.46 85.91L153.61 85.88L153.76 85.83L153.83 86.35A48.4 48.4 0 0 0 151.16 86.79Z" fill="#e9c076"/><path d="M151.08 86.35L151.22 86.26L151.37 86.25L151.35 85.29L151.6 85.84L151.69 85.43L151.87 85.58L152.05 85.72L152.16 85.44L152.25 85.1L152.46 85.39L152.59 85.24L152.78 85.48L152.95 85.55L153.03 85.06L153.18 85.04L153.46 85.91L153.61 85.88L153.76 85.83" fill="none" stroke="#4a3d22" stroke-width="0.55" stroke-linejoin="round"/>
<path d="M189.32 94.5L194.61 87.22M200.7 106.08L204.8 103.21M204.24 111.96L209.58 109.24M208.78 143.27L216.64 144.72M204.24 156.64L210.47 159.81M197.53 166.58L201.31 169.86M177.23 180.53L179.62 187.11M163.83 183.38L164.39 191.36M155.26 183.23L154.63 189.2M116.56 156.64L109.43 160.27M114.17 151.13L109.47 152.84M114.78 115.87L108.29 113.25M130.11 95.53L126.42 90.8M140.39 89.35L138.76 85.7M170.63 86.18L171.46 82.26" stroke="#3a3226" stroke-width="0.45" fill="none"/>
<path d="M160.4 100.4L160.5 100.52L160.6 100.2L160.7 99.58L160.81 99.37L160.9 100.05L161 99.87L161.1 100.07L161.21 99.48L161.31 99.72L161.4 99.94L161.5 100.2L161.6 100L161.7 100.02L161.79 100.23L161.9 99.99L162.01 99.92L162.1 100.05L162.19 100.19L162.37 98.75L162.36 100.74L162.51 99.86L162.59 100.33L162.71 99.92L162.78 100.39L162.91 99.93L163.01 99.97L163.12 99.83L163.24 99.62L163.32 99.91L163.42 99.86L163.5 100.14L163.57 100.49L163.67 100.43L163.76 100.62L163.9 100.22L164.03 99.93L164.13 99.89L164.21 100.13L164.35 99.81L164.41 100.12L164.53 99.94L164.59 100.33L164.76 99.77L164.78 100.39L164.89 100.34L165.03 100.03L165.15 99.94L165.24 99.99L165.36 99.86L165.47 99.82L165.51 100.23L165.8 99L165.73 100.12L165.9 99.7L165.97 99.91L166.05 100.03L166.22 99.65L166.27 99.97L166.26 100.6L166.34 100.74L166.49 100.49L166.53 100.81L166.65 100.71L166.73 100.81L166.78 101.07L166.86 101.18L167.03 100.85L167.12 100.91L167.26 100.73L167.47 100.19L167.59 100.11L167.64 100.35L167.79 100.14L167.84 100.39L167.93 100.45L168.09 100.24L168.12 100.57L168.16 100.81L168.4 100.23L168.36 100.84L168.51 100.66L168.61 100.69L168.66 100.88L168.63 101.42L168.84 100.99L169.43 99.11L169.17 100.53L169.11 101.15L169.32 100.76L169.22 101.52L169.4 101.22L169.51 101.2L169.66 101.05L169.76 101.07L169.9 100.92L170.07 100.72L170.16 100.76L170.11 101.31L170.24 101.21L170.38 101.1L170.39 101.42L170.56 101.19L170.63 101.32L171.12 100.1L171.01 100.8L170.93 101.39L171.04 101.35L171.01 101.77L171.21 101.5L171.49 100.98L171.36 101.67L171.44 101.75L171.68 101.36L171.82 101.28L171.93 101.28L171.91 101.64L172.22 101.06L172.33 101.05L172.19 101.75L172.31 101.71L172.55 101.36L172.61 101.5L172.52 102.02L172.57 102.18L172.58 102.43L172.82 102.08L172.91 102.14L173.14 101.81L173.28 101.73L173.45 101.6L173.44 101.89L173.39 102.29L173.59 102.07L173.63 102.24L173.7 102.32L173.64 102.73L174.64 100.62L174.32 101.66L173.92 102.85L173.94 103.05L174.14 102.84L174.49 102.29L174.53 102.45L174.75 102.22L174.64 102.71L174.81 102.57L174.93 102.55L174.81 103.05L174.95 102.99L175.1 102.92L175.22 102.9L174.91 103.79L175.28 103.25L175.08 103.89L175.1 104.06L175.32 103.85L175.65 103.4L175.43 104.07L175.71 103.73L175.98 103.41L176.28 103.04L176.01 103.81L176.23 103.59L176.17 103.92L176.26 103.97L176.14 104.42L177.08 102.84L176.35 104.45L176.42 104.53L176.49 104.6L177.46 103.03L176.79 104.46L176.74 104.76L177.08 104.34L177.45 103.9L178.15 102.86L177.82 103.65L177.7 104.06L177.57 104.5L178.02 103.92L177.91 104.32L177.71 104.85L178.4 103.89L178.77 103.46L178 104.96L178.11 104.97L178.25 104.93L178.32 105L178.8 104.41L178.65 104.85L178.77 104.85L179.11 104.51L179.04 104.81L178.96 105.12L178.99 105.25L178.69 105.91L179.09 105.47L179.12 105.61L179.76 104.81L179.65 105.17L179.57 105.48L179.54 105.7L179.25 106.32L179.5 106.12L179.49 106.32L179.89 105.91L179.78 106.23L180.03 106.05L179.9 106.42L180.28 106.05L180.31 106.18L180.56 106L180.76 105.9L180.68 106.18L180.92 106.03L180.93 106.18L180.7 106.67L180.77 106.75L180.49 107.29L180.92 106.88L180.88 107.1L180.91 107.23L181.03 107.23L181.33 107L181.38 107.11L181.74 106.8L181.92 106.73L181.75 107.11L181.75 107.28L182.05 107.06L182.15 107.1L182.05 107.39L182.45 107.05L183.04 106.49L182.74 107.02L183.19 106.64L183.33 106.64L183.37 106.75L183.08 107.25L183.26 107.21L183.25 107.37L183.52 107.22L183.51 107.39L183.63 107.41L183.53 107.68L183.57 107.79L183.86 107.62L183.64 108.02L183.46 108.38L183.43 108.57L183.74 108.37L183.54 108.75L183.63 108.8L183.79 108.77L183.73 108.99L184.08 108.75L184.07 108.92L184.01 109.13L184.26 109.01L184.4 109L184.32 109.24L184.03 109.69L184.23 109.62L184.98 109L184.48 109.66L185.48 108.78L184.85 109.57L185.17 109.39L185.14 109.57L185.37 109.48L184.84 110.15L184.87 110.26L185.03 110.24L185.11 110.31L184.96 110.59L185.84 109.89L185.73 110.13L186.15 109.87L186.36 109.82L185.76 110.52L186.18 110.27L186.12 110.46L185.63 111.06L186.04 110.82L186.2 110.81L186.06 111.07L185.93 111.32L186.49 110.96L186.82 110.8L186.49 111.23L186.74 111.15L186.43 111.55L186.68 111.48L186.93 111.39L186.43 111.96L186.55 111.98L186.94 111.79L186.69 112.13L186.97 112.02L186.77 112.33L186.59 112.6L186.46 112.84L186.5 112.93L186.48 113.08L186.76 112.98L186.62 113.21L187.05 113L187.19 113.01L187.28 113.07L187.13 113.32L187.69 113L187.88 112.99L187.8 113.17L188.2 112.99L188.71 112.74L187.68 113.65L187.43 113.96L187.92 113.71L187.5 114.15L187.63 114.18L187.88 114.11L188 114.15L187.95 114.31L188.17 114.28L188.27 114.33L188.83 114.05L188.39 114.49L188.48 114.55L188.46 114.68L188.99 114.44L188.94 114.6L188.59 114.96L188.6 115.08L188.91 114.98L188.65 115.28L188.72 115.35L188.98 115.3L189.2 115.27L188.77 115.68L189.07 115.6L189.06 115.73L188.88 115.96L189.36 115.77L189.1 116.06L189.43 115.96L189.23 116.21L188.94 116.5L189.19 116.46L189.39 116.46L189.53 116.49L189.92 116.37L190.84 115.93L190.36 116.34L190.22 116.54L189.98 116.8L190.85 116.41L190.28 116.86L189.72 117.3L189.74 117.4L189.81 117.48L189.63 117.7L190.47 117.33L190.21 117.59L190.88 117.34L190.34 117.75L190.24 117.92L190.19 118.06L190.17 118.18L190.23 118.27L190.38 118.29L190.61 118.29L190.99 118.2L193.99 116.74L190.69 118.58L190.72 118.68L190.86 118.72L191.08 118.72L190.73 119.01L190.68 119.14L190.92 119.13L190.98 119.21L191.08 119.28L191.25 119.3L191.31 119.39L191.25 119.53L191.75 119.4L191.84 119.47L193.51 118.8L191.96 119.64L192.06 119.7L191.38 120.13L191.96 119.97L191.45 120.31L191.98 120.19L191.64 120.45L192.35 120.24L192.95 120.09L192.18 120.54L192.05 120.71L191.75 120.94L192.61 120.69L191.87 121.11L192.11 121.12L192.2 121.19L192.1 121.34L192.03 121.47L192.32 121.46L192.4 121.54L192.56 121.59L192.42 121.75L193.29 121.52L192.81 121.82L192.53 122.03L193.72 121.69L192.8 122.14L192.79 122.25L192.26 122.56L192.32 122.64L192.45 122.7L192.67 122.73L192.3 122.96L192.66 122.94L192.51 123.1L192.58 123.18L192.81 123.21L192.73 123.34L192.99 123.36L194.87 122.84L192.88 123.6L193.98 123.35L193.1 123.74L193.15 123.83L193.9 123.7L193.33 123.99L193.44 124.06L193 124.3L193.15 124.36L193.33 124.41L193.12 124.57L193.33 124.62L193.38 124.71L193.08 124.9L193.23 124.96L193.11 125.1L193.28 125.15L193.43 125.21L193.53 125.29L193.2 125.48L194.02 125.37L193.93 125.5L195.07 125.3L194.45 125.57L195.8 125.34L196.25 125.33L196.1 125.48L195.54 125.73L196.2 125.68L196.24 125.78L196.51 125.83L195.42 126.19L195.54 126.27L195.56 126.37L196.06 126.37L195.04 126.7L195.75 126.66L195.13 126.9L194.14 127.21L194.28 127.28L192.13 127.73A32.4 32.4 0 0 0 160.4 101.9Z" fill="#8ecbb1"/><path d="M160.4 100.4L160.5 100.52L160.6 100.2L160.7 99.58L160.81 99.37L160.9 100.05L161 99.87L161.1 100.07L161.21 99.48L161.31 99.72L161.4 99.94L161.5 100.2L161.6 100L161.7 100.02L161.79 100.23L161.9 99.99L162.01 99.92L162.1 100.05L162.19 100.19L162.37 98.75L162.36 100.74L162.51 99.86L162.59 100.33L162.71 99.92L162.78 100.39L162.91 99.93L163.01 99.97L163.12 99.83L163.24 99.62L163.32 99.91L163.42 99.86L163.5 100.14L163.57 100.49L163.67 100.43L163.76 100.62L163.9 100.22L164.03 99.93L164.13 99.89L164.21 100.13L164.35 99.81L164.41 100.12L164.53 99.94L164.59 100.33L164.76 99.77L164.78 100.39L164.89 100.34L165.03 100.03L165.15 99.94L165.24 99.99L165.36 99.86L165.47 99.82L165.51 100.23L165.8 99L165.73 100.12L165.9 99.7L165.97 99.91L166.05 100.03L166.22 99.65L166.27 99.97L166.26 100.6L166.34 100.74L166.49 100.49L166.53 100.81L166.65 100.71L166.73 100.81L166.78 101.07L166.86 101.18L167.03 100.85L167.12 100.91L167.26 100.73L167.47 100.19L167.59 100.11L167.64 100.35L167.79 100.14L167.84 100.39L167.93 100.45L168.09 100.24L168.12 100.57L168.16 100.81L168.4 100.23L168.36 100.84L168.51 100.66L168.61 100.69L168.66 100.88L168.63 101.42L168.84 100.99L169.43 99.11L169.17 100.53L169.11 101.15L169.32 100.76L169.22 101.52L169.4 101.22L169.51 101.2L169.66 101.05L169.76 101.07L169.9 100.92L170.07 100.72L170.16 100.76L170.11 101.31L170.24 101.21L170.38 101.1L170.39 101.42L170.56 101.19L170.63 101.32L171.12 100.1L171.01 100.8L170.93 101.39L171.04 101.35L171.01 101.77L171.21 101.5L171.49 100.98L171.36 101.67L171.44 101.75L171.68 101.36L171.82 101.28L171.93 101.28L171.91 101.64L172.22 101.06L172.33 101.05L172.19 101.75L172.31 101.71L172.55 101.36L172.61 101.5L172.52 102.02L172.57 102.18L172.58 102.43L172.82 102.08L172.91 102.14L173.14 101.81L173.28 101.73L173.45 101.6L173.44 101.89L173.39 102.29L173.59 102.07L173.63 102.24L173.7 102.32L173.64 102.73L174.64 100.62L174.32 101.66L173.92 102.85L173.94 103.05L174.14 102.84L174.49 102.29L174.53 102.45L174.75 102.22L174.64 102.71L174.81 102.57L174.93 102.55L174.81 103.05L174.95 102.99L175.1 102.92L175.22 102.9L174.91 103.79L175.28 103.25L175.08 103.89L175.1 104.06L175.32 103.85L175.65 103.4L175.43 104.07L175.71 103.73L175.98 103.41L176.28 103.04L176.01 103.81L176.23 103.59L176.17 103.92L176.26 103.97L176.14 104.42L177.08 102.84L176.35 104.45L176.42 104.53L176.49 104.6L177.46 103.03L176.79 104.46L176.74 104.76L177.08 104.34L177.45 103.9L178.15 102.86L177.82 103.65L177.7 104.06L177.57 104.5L178.02 103.92L177.91 104.32L177.71 104.85L178.4 103.89L178.77 103.46L178 104.96L178.11 104.97L178.25 104.93L178.32 105L178.8 104.41L178.65 104.85L178.77 104.85L179.11 104.51L179.04 104.81L178.96 105.12L178.99 105.25L178.69 105.91L179.09 105.47L179.12 105.61L179.76 104.81L179.65 105.17L179.57 105.48L179.54 105.7L179.25 106.32L179.5 106.12L179.49 106.32L179.89 105.91L179.78 106.23L180.03 106.05L179.9 106.42L180.28 106.05L180.31 106.18L180.56 106L180.76 105.9L180.68 106.18L180.92 106.03L180.93 106.18L180.7 106.67L180.77 106.75L180.49 107.29L180.92 106.88L180.88 107.1L180.91 107.23L181.03 107.23L181.33 107L181.38 107.11L181.74 106.8L181.92 106.73L181.75 107.11L181.75 107.28L182.05 107.06L182.15 107.1L182.05 107.39L182.45 107.05L183.04 106.49L182.74 107.02L183.19 106.64L183.33 106.64L183.37 106.75L183.08 107.25L183.26 107.21L183.25 107.37L183.52 107.22L183.51 107.39L183.63 107.41L183.53 107.68L183.57 107.79L183.86 107.62L183.64 108.02L183.46 108.38L183.43 108.57L183.74 108.37L183.54 108.75L183.63 108.8L183.79 108.77L183.73 108.99L184.08 108.75L184.07 108.92L184.01 109.13L184.26 109.01L184.4 109L184.32 109.24L184.03 109.69L184.23 109.62L184.98 109L184.48 109.66L185.48 108.78L184.85 109.57L185.17 109.39L185.14 109.57L185.37 109.48L184.84 110.15L184.87 110.26L185.03 110.24L185.11 110.31L184.96 110.59L185.84 109.89L185.73 110.13L186.15 109.87L186.36 109.82L185.76 110.52L186.18 110.27L186.12 110.46L185.63 111.06L186.04 110.82L186.2 110.81L186.06 111.07L185.93 111.32L186.49 110.96L186.82 110.8L186.49 111.23L186.74 111.15L186.43 111.55L186.68 111.48L186.93 111.39L186.43 111.96L186.55 111.98L186.94 111.79L186.69 112.13L186.97 112.02L186.77 112.33L186.59 112.6L186.46 112.84L186.5 112.93L186.48 113.08L186.76 112.98L186.62 113.21L187.05 113L187.19 113.01L187.28 113.07L187.13 113.32L187.69 113L187.88 112.99L187.8 113.17L188.2 112.99L188.71 112.74L187.68 113.65L187.43 113.96L187.92 113.71L187.5 114.15L187.63 114.18L187.88 114.11L188 114.15L187.95 114.31L188.17 114.28L188.27 114.33L188.83 114.05L188.39 114.49L188.48 114.55L188.46 114.68L188.99 114.44L188.94 114.6L188.59 114.96L188.6 115.08L188.91 114.98L188.65 115.28L188.72 115.35L188.98 115.3L189.2 115.27L188.77 115.68L189.07 115.6L189.06 115.73L188.88 115.96L189.36 115.77L189.1 116.06L189.43 115.96L189.23 116.21L188.94 116.5L189.19 116.46L189.39 116.46L189.53 116.49L189.92 116.37L190.84 115.93L190.36 116.34L190.22 116.54L189.98 116.8L190.85 116.41L190.28 116.86L189.72 117.3L189.74 117.4L189.81 117.48L189.63 117.7L190.47 117.33L190.21 117.59L190.88 117.34L190.34 117.75L190.24 117.92L190.19 118.06L190.17 118.18L190.23 118.27L190.38 118.29L190.61 118.29L190.99 118.2L193.99 116.74L190.69 118.58L190.72 118.68L190.86 118.72L191.08 118.72L190.73 119.01L190.68 119.14L190.92 119.13L190.98 119.21L191.08 119.28L191.25 119.3L191.31 119.39L191.25 119.53L191.75 119.4L191.84 119.47L193.51 118.8L191.96 119.64L192.06 119.7L191.38 120.13L191.96 119.97L191.45 120.31L191.98 120.19L191.64 120.45L192.35 120.24L192.95 120.09L192.18 120.54L192.05 120.71L191.75 120.94L192.61 120.69L191.87 121.11L192.11 121.12L192.2 121.19L192.1 121.34L192.03 121.47L192.32 121.46L192.4 121.54L192.56 121.59L192.42 121.75L193.29 121.52L192.81 121.82L192.53 122.03L193.72 121.69L192.8 122.14L192.79 122.25L192.26 122.56L192.32 122.64L192.45 122.7L192.67 122.73L192.3 122.96L192.66 122.94L192.51 123.1L192.58 123.18L192.81 123.21L192.73 123.34L192.99 123.36L194.87 122.84L192.88 123.6L193.98 123.35L193.1 123.74L193.15 123.83L193.9 123.7L193.33 123.99L193.44 124.06L193 124.3L193.15 124.36L193.33 124.41L193.12 124.57L193.33 124.62L193.38 124.71L193.08 124.9L193.23 124.96L193.11 125.1L193.28 125.15L193.43 125.21L193.53 125.29L193.2 125.48L194.02 125.37L193.93 125.5L195.07 125.3L194.45 125.57L195.8 125.34L196.25 125.33L196.1 125.48L195.54 125.73L196.2 125.68L196.24 125.78L196.51 125.83L195.42 126.19L195.54 126.27L195.56 126.37L196.06 126.37L195.04 126.7L195.75 126.66L195.13 126.9L194.14 127.21L194.28 127.28" fill="none" stroke="#27483c" stroke-width="0.55" stroke-linejoin="round"/>
<path d="M194.17 127.74L196.11 127.47L195.35 127.72L195.25 127.85L195.14 127.98L196.19 127.89L195.92 128.05L195.13 128.3L196.58 128.16L196.98 128.2L195.71 128.52L196.74 128.46L197.79 128.41L197.83 128.52L197.32 128.71L197.13 128.85L196.86 129L195.23 129.34L196.05 129.33L196.09 129.43L196.27 129.52L195.91 129.67L195.85 129.79L195.66 129.92L195.8 130.01L195.39 130.16L196.28 130.17L196.06 130.3L197.14 130.29L197 130.42L196.92 130.53L196.98 130.64L197.78 130.67L197.05 130.85L197.14 130.95L197.28 131.05L197.92 131.11L197.55 131.25L198.87 131.25L198.34 131.41L198.86 131.49L198.27 131.64L199.18 131.69L198.11 131.88L198.31 131.98L197.23 132.15L197.42 132.25L197.55 132.36L196.98 132.5L196.49 132.63L196.69 132.73L197.11 132.82L197 132.93L199.65 132.95L197.14 133.15L196.46 133.27L197.19 133.36L197.12 133.47L196.62 133.59L195.9 133.71L196.13 133.81L195.48 133.93L195.04 134.04L194.85 134.14L195.74 134.24L195.84 134.35L195.48 134.45L196.46 134.56L195.11 134.65L194.7 134.75L195.02 134.86L194.84 134.96L194.71 135.06L195.11 135.17L194.97 135.27L195.57 135.39L195.19 135.48L194.88 135.58L195.88 135.72L195.8 135.82L195.53 135.91L195.64 136.02L192.76 135.88A32.4 32.4 0 0 0 192.2 128.12Z" fill="#8ecbb1"/><path d="M194.17 127.74L196.11 127.47L195.35 127.72L195.25 127.85L195.14 127.98L196.19 127.89L195.92 128.05L195.13 128.3L196.58 128.16L196.98 128.2L195.71 128.52L196.74 128.46L197.79 128.41L197.83 128.52L197.32 128.71L197.13 128.85L196.86 129L195.23 129.34L196.05 129.33L196.09 129.43L196.27 129.52L195.91 129.67L195.85 129.79L195.66 129.92L195.8 130.01L195.39 130.16L196.28 130.17L196.06 130.3L197.14 130.29L197 130.42L196.92 130.53L196.98 130.64L197.78 130.67L197.05 130.85L197.14 130.95L197.28 131.05L197.92 131.11L197.55 131.25L198.87 131.25L198.34 131.41L198.86 131.49L198.27 131.64L199.18 131.69L198.11 131.88L198.31 131.98L197.23 132.15L197.42 132.25L197.55 132.36L196.98 132.5L196.49 132.63L196.69 132.73L197.11 132.82L197 132.93L199.65 132.95L197.14 133.15L196.46 133.27L197.19 133.36L197.12 133.47L196.62 133.59L195.9 133.71L196.13 133.81L195.48 133.93L195.04 134.04L194.85 134.14L195.74 134.24L195.84 134.35L195.48 134.45L196.46 134.56L195.11 134.65L194.7 134.75L195.02 134.86L194.84 134.96L194.71 135.06L195.11 135.17L194.97 135.27L195.57 135.39L195.19 135.48L194.88 135.58L195.88 135.72L195.8 135.82L195.53 135.91L195.64 136.02" fill="none" stroke="#27483c" stroke-width="0.55" stroke-linejoin="round"/>
<path d="M194.27 136.37L194.23 136.47L194.3 136.57L194.76 136.7L194.32 136.77L193.7 136.82L194.25 136.97L194.27 137.07L195.04 137.23L193.17 137.17L193.52 137.3L192.94 137.34L193.23 137.47L193.8 137.62L193.85 137.72L193.88 137.82L194.12 137.95L193.92 138.03L193.9 138.12L194.77 138.32L193.24 138.24L193.74 138.4L193.95 138.53L193.48 138.57L194.01 138.73L193.96 138.83L193.95 138.93L194.32 139.08L194.5 139.2L195.41 139.44L193.99 139.33L193.46 139.35L194.69 139.64L193.66 139.58L193.45 139.65L193.3 139.72L193.75 139.89L194.36 140.1L194.85 140.29L193.33 140.12L193.35 140.22L192.92 140.24L193.18 140.39L194.33 140.71L193.7 140.69L193.9 140.83L193.66 140.88L193.69 140.99L193.43 141.04L192.93 141.04L193.09 141.17L192.82 141.21L192.7 141.28L193.1 141.47L192.73 141.49L193.27 141.71L192.64 141.66L193.18 141.89L192.97 141.94L193.29 142.12L193.24 142.21L192.88 142.22L192.69 142.27L193.23 142.51L193.08 142.57L192.91 142.63L193.38 142.86L192.99 142.86L192.18 142.74L192.46 142.92L193.19 143.21L192.8 143.21L193.08 143.39L193.21 143.53L192.8 143.52L192.91 143.65L193.17 143.83L193.19 143.94L193.58 144.16L193.08 144.11L193.09 144.22L192.61 144.18L192.61 144.28L192.07 144.21L192.44 144.43L192.56 144.58L192.55 144.68L192.61 144.8L193.24 145.11L193.03 145.15L193.05 145.26L192.68 145.24L192.71 145.35L192.43 145.37L191.95 145.3L192.22 145.5L191.76 145.44L191.47 145.44L191.18 145.44L191.4 145.62L191.5 145.76L191.69 145.93L192.66 146.4L191.89 146.22L192.31 146.48L191.87 146.42L191.75 146.48L191.66 146.55L191.79 146.7L191.68 146.77L192.17 147.07L192.31 147.24L191.75 147.11L192.11 147.37L191.68 147.3L191.33 147.26L191.83 147.58L191.72 147.64L191.76 147.76L191.76 147.88L191.37 147.81L190.99 147.75L191.22 147.96L191.18 148.05L191.23 148.18L191.02 148.2L191.01 148.3L191.01 148.41L190.87 148.45L191.06 148.65L190.75 148.61L190.62 148.66L192.2 149.52L190.58 148.86L190.25 148.8L190.53 149.05L190.74 149.26L190.73 149.37L190.92 149.58L190.57 149.51L190.78 149.73L190.68 149.79L190.35 149.73L190.56 149.95L190.3 149.92L190.4 150.09L189.92 149.95L189.87 150.03L189.99 150.2L190.47 150.58L190.05 150.46L189.86 150.47L190.29 150.82L190.22 150.89L190.61 151.23L191.45 151.82L190.46 151.37L190.83 151.7L191.09 151.97L190.59 151.8L190.33 151.76L190.28 151.85L189.84 151.71L189.99 151.92L189.34 151.64L189.01 151.56L189.89 152.21L189.39 152.02L189.16 152L188.96 151.99L188.97 152.11L188.79 152.11L188.99 152.35L189.15 152.57L189.13 152.68L188.86 152.62L188.87 152.74L188.89 152.88L189.69 153.52L188.82 153.07L188.68 153.1L188.53 153.12L188.28 153.07L188.77 153.51L188.2 153.25L187.77 153.08L187.92 153.3L187.55 153.15L187.51 153.25L187.23 153.17L187.37 153.38L187.85 153.84L187.92 154.02L187.62 153.92L188.21 154.47L187.58 154.14L187.29 154.05L186.83 153.83L187.06 154.11L187.16 154.31L187.04 154.34L187.2 154.59L187.12 154.65L186.99 154.67L187.01 154.81L186.85 154.81L187.07 155.11L188.46 156.32L186.94 155.25L186.52 155.05L186.68 155.3L186.27 155.1L186.15 155.13L185.96 155.1L185.82 155.11L185.93 155.32L185.63 155.19L185.76 155.43L185.7 155.51L186.57 156.37L185.82 155.86L186.27 156.37L185.98 156.25L186.1 156.49L185.83 156.38L185.97 156.64L186.09 156.87L185.65 156.62L185.9 156.97L185.47 156.72L185.19 156.6L185.12 156.67L184.8 156.51L184.59 156.44L184.36 156.36L184.62 156.73L184.74 156.98L185.13 157.48L184.88 157.38L184.92 157.55L184.53 157.32L184.3 157.23L184.24 157.31L184.25 157.45L184.15 157.48L184.43 157.9L184.32 157.93L184.34 158.09L184.05 157.94L183.77 157.8L183.84 158L183.87 158.17L184.68 159.14L184.01 158.6L184.1 158.83L183.59 158.44L184.37 159.4L183.67 158.82L183.22 158.48L182.67 158.04L182.67 158.18L182.72 158.37L183.09 158.92L182.79 158.73L182.92 159.01L183.21 159.48L183.28 159.7L183.07 159.63L182.97 159.66L182.76 159.58L183.18 160.2L182.68 159.78L182.35 159.55L182.26 159.6L182.49 160.01L182.6 160.29L181.91 159.64L182.17 160.1L182.06 160.12L182.17 160.4L181.96 160.31L181.84 160.31L181.5 160.05L181.6 160.33L181.63 160.53L181.57 160.61L181.46 160.63L181.43 160.75L181.29 160.72L181.14 160.69L181.07 160.77L181.29 161.21L181 161L180.53 160.54L180.49 160.65L180.71 161.1L180.59 161.11L180.75 161.48L180.95 161.92L181.22 162.46L180.79 162.04L180.65 162.02L181.04 162.72L181.54 163.6L180.89 162.88L180.81 162.93L182.06 164.88L181.18 163.82L181.03 163.79L181.3 164.36L181.03 164.15L181.3 164.73L180.69 164.03L181.34 165.18L180.99 164.85L181.26 165.45L181.28 165.68L180.52 164.73L180.21 164.45L179.81 164.03L179.59 163.88L179.47 163.88L179.77 164.54L179.35 164.08L179.11 163.9L179.19 164.21L178.92 163.98L178.11 162.86L177.47 161.84A32.4 32.4 0 0 0 192.74 136.28Z" fill="#8ecbb1"/><path d="M194.27 136.37L194.23 136.47L194.3 136.57L194.76 136.7L194.32 136.77L193.7 136.82L194.25 136.97L194.27 137.07L195.04 137.23L193.17 137.17L193.52 137.3L192.94 137.34L193.23 137.47L193.8 137.62L193.85 137.72L193.88 137.82L194.12 137.95L193.92 138.03L193.9 138.12L194.77 138.32L193.24 138.24L193.74 138.4L193.95 138.53L193.48 138.57L194.01 138.73L193.96 138.83L193.95 138.93L194.32 139.08L194.5 139.2L195.41 139.44L193.99 139.33L193.46 139.35L194.69 139.64L193.66 139.58L193.45 139.65L193.3 139.72L193.75 139.89L194.36 140.1L194.85 140.29L193.33 140.12L193.35 140.22L192.92 140.24L193.18 140.39L194.33 140.71L193.7 140.69L193.9 140.83L193.66 140.88L193.69 140.99L193.43 141.04L192.93 141.04L193.09 141.17L192.82 141.21L192.7 141.28L193.1 141.47L192.73 141.49L193.27 141.71L192.64 141.66L193.18 141.89L192.97 141.94L193.29 142.12L193.24 142.21L192.88 142.22L192.69 142.27L193.23 142.51L193.08 142.57L192.91 142.63L193.38 142.86L192.99 142.86L192.18 142.74L192.46 142.92L193.19 143.21L192.8 143.21L193.08 143.39L193.21 143.53L192.8 143.52L192.91 143.65L193.17 143.83L193.19 143.94L193.58 144.16L193.08 144.11L193.09 144.22L192.61 144.18L192.61 144.28L192.07 144.21L192.44 144.43L192.56 144.58L192.55 144.68L192.61 144.8L193.24 145.11L193.03 145.15L193.05 145.26L192.68 145.24L192.71 145.35L192.43 145.37L191.95 145.3L192.22 145.5L191.76 145.44L191.47 145.44L191.18 145.44L191.4 145.62L191.5 145.76L191.69 145.93L192.66 146.4L191.89 146.22L192.31 146.48L191.87 146.42L191.75 146.48L191.66 146.55L191.79 146.7L191.68 146.77L192.17 147.07L192.31 147.24L191.75 147.11L192.11 147.37L191.68 147.3L191.33 147.26L191.83 147.58L191.72 147.64L191.76 147.76L191.76 147.88L191.37 147.81L190.99 147.75L191.22 147.96L191.18 148.05L191.23 148.18L191.02 148.2L191.01 148.3L191.01 148.41L190.87 148.45L191.06 148.65L190.75 148.61L190.62 148.66L192.2 149.52L190.58 148.86L190.25 148.8L190.53 149.05L190.74 149.26L190.73 149.37L190.92 149.58L190.57 149.51L190.78 149.73L190.68 149.79L190.35 149.73L190.56 149.95L190.3 149.92L190.4 150.09L189.92 149.95L189.87 150.03L189.99 150.2L190.47 150.58L190.05 150.46L189.86 150.47L190.29 150.82L190.22 150.89L190.61 151.23L191.45 151.82L190.46 151.37L190.83 151.7L191.09 151.97L190.59 151.8L190.33 151.76L190.28 151.85L189.84 151.71L189.99 151.92L189.34 151.64L189.01 151.56L189.89 152.21L189.39 152.02L189.16 152L188.96 151.99L188.97 152.11L188.79 152.11L188.99 152.35L189.15 152.57L189.13 152.68L188.86 152.62L188.87 152.74L188.89 152.88L189.69 153.52L188.82 153.07L188.68 153.1L188.53 153.12L188.28 153.07L188.77 153.51L188.2 153.25L187.77 153.08L187.92 153.3L187.55 153.15L187.51 153.25L187.23 153.17L187.37 153.38L187.85 153.84L187.92 154.02L187.62 153.92L188.21 154.47L187.58 154.14L187.29 154.05L186.83 153.83L187.06 154.11L187.16 154.31L187.04 154.34L187.2 154.59L187.12 154.65L186.99 154.67L187.01 154.81L186.85 154.81L187.07 155.11L188.46 156.32L186.94 155.25L186.52 155.05L186.68 155.3L186.27 155.1L186.15 155.13L185.96 155.1L185.82 155.11L185.93 155.32L185.63 155.19L185.76 155.43L185.7 155.51L186.57 156.37L185.82 155.86L186.27 156.37L185.98 156.25L186.1 156.49L185.83 156.38L185.97 156.64L186.09 156.87L185.65 156.62L185.9 156.97L185.47 156.72L185.19 156.6L185.12 156.67L184.8 156.51L184.59 156.44L184.36 156.36L184.62 156.73L184.74 156.98L185.13 157.48L184.88 157.38L184.92 157.55L184.53 157.32L184.3 157.23L184.24 157.31L184.25 157.45L184.15 157.48L184.43 157.9L184.32 157.93L184.34 158.09L184.05 157.94L183.77 157.8L183.84 158L183.87 158.17L184.68 159.14L184.01 158.6L184.1 158.83L183.59 158.44L184.37 159.4L183.67 158.82L183.22 158.48L182.67 158.04L182.67 158.18L182.72 158.37L183.09 158.92L182.79 158.73L182.92 159.01L183.21 159.48L183.28 159.7L183.07 159.63L182.97 159.66L182.76 159.58L183.18 160.2L182.68 159.78L182.35 159.55L182.26 159.6L182.49 160.01L182.6 160.29L181.91 159.64L182.17 160.1L182.06 160.12L182.17 160.4L181.96 160.31L181.84 160.31L181.5 160.05L181.6 160.33L181.63 160.53L181.57 160.61L181.46 160.63L181.43 160.75L181.29 160.72L181.14 160.69L181.07 160.77L181.29 161.21L181 161L180.53 160.54L180.49 160.65L180.71 161.1L180.59 161.11L180.75 161.48L180.95 161.92L181.22 162.46L180.79 162.04L180.65 162.02L181.04 162.72L181.54 163.6L180.89 162.88L180.81 162.93L182.06 164.88L181.18 163.82L181.03 163.79L181.3 164.36L181.03 164.15L181.3 164.73L180.69 164.03L181.34 165.18L180.99 164.85L181.26 165.45L181.28 165.68L180.52 164.73L180.21 164.45L179.81 164.03L179.59 163.88L179.47 163.88L179.77 164.54L179.35 164.08L179.11 163.9L179.19 164.21L178.92 163.98L178.11 162.86" fill="none" stroke="#27483c" stroke-width="0.55" stroke-linejoin="round"/>
<path d="M179.11 165.31L178.44 164.41L178.14 164.1L178.49 164.9L178.08 164.39L177.87 164.23L178.53 165.58L178.12 165.08L178.06 165.19L177.97 165.24L177.8 165.14L178.22 166.11L178.36 166.59L178.13 166.39L178.18 166.7L178.13 166.84L177.31 165.56L177.03 165.25L176.75 164.94L176.81 165.27L176.68 165.25L176.96 166L176.45 165.25L176.12 164.83L175.98 164.78L175.8 164.63L175.43 164.13L175.38 164.24L175.38 164.47L175.37 164.67L175.98 166.15L175.24 164.86L175.44 165.49L175.11 165.03L175.23 165.53L174.79 164.82L174.68 164.83L174.61 164.91L174.55 165.02L174.51 165.16L174.48 165.33L174.54 165.72L174.29 165.4L174.16 165.36L174.33 165.99L173.82 165.07L173.73 165.1L173.86 165.66L173.56 165.2L173.42 165.14L173.5 165.57L173.34 165.45L173.11 165.15L173.13 165.45L173 165.39L173.01 165.68L172.76 165.33L173.34 167.07L172.51 165.21L172.42 165.27L172.28 165.17L172.43 165.83L172.08 165.18L172.01 165.27L172.13 165.86L171.93 165.62L171.89 165.79L171.89 166.09L171.78 166.06L171.74 166.23L171.6 166.15L171.45 166L171.22 165.64L171.12 165.66L171.11 165.93L170.99 165.86L170.9 165.92L170.94 166.35L170.84 166.36L172.29 171.17L170.7 166.56L170.62 166.63L170.49 166.56L170.39 166.58L170.29 166.59L170.11 166.33L170.1 166.63L169.88 166.24L169.83 166.42L169.7 166.33L169.64 166.47L169.56 166.54L169.52 166.76L169.38 166.62L169.4 167.07L169.28 166.98L169.1 166.73L169.01 166.76L168.79 166.3L168.82 166.83L168.74 166.88L168.58 166.67L168.39 166.31L168.31 166.4L168.24 166.51L168.16 166.57L168.02 166.43L167.99 166.72L168.04 167.36L167.87 167.07L167.82 167.26L167.66 167L167.57 167.04L167.38 166.67L167.31 166.77L167.26 167.02L167.24 167.38L167.23 167.84L167.14 167.92L167.03 167.86L166.96 168.05L166.8 167.74L166.77 168.09L166.6 167.76L166.81 169.46L166.35 167.46L166.24 167.43L166.1 167.18L165.97 167.02L165.77 166.4L165.73 166.75L165.59 166.47L165.61 167.21L165.51 167.23L165.54 168.07L165.45 168.09L165.41 168.56L165.33 168.69L165.13 168L165.04 168.03L164.95 168.15L164.99 169.2L164.66 167.47L164.53 167.23L164.45 167.34L164.3 166.88L164.31 167.84L164.15 167.26L164.16 168.27L164 167.68L163.88 167.51L163.83 168.03L163.63 167L163.59 167.57L163.51 167.76L163.41 167.69L163.31 167.69L163.22 167.82L163.1 167.55L163.03 167.88L162.96 168.25L162.85 168.16L162.77 168.47L162.74 169.49L162.55 168.16L162.47 168.4L162.36 168.25L162.29 168.83L162.21 169.24L162.04 167.85L161.95 167.94L161.83 167.51L161.75 167.87L161.63 167.31L161.55 167.74L161.45 167.81L161.37 168.59L161.26 167.98L161.17 168.59L161.07 168.4L160.97 168.45L160.87 168.35L160.77 168.53L160.67 168.37L160.57 168.34L160.47 167.47L160.37 168.17L160.28 167.52L160.18 167.83L160.07 168.44L159.97 168.66L159.88 168.12L159.78 168.19L159.68 167.92L159.59 167.94L159.5 167.46L159.4 167.58L159.3 167.77L159.2 167.7L159.09 168.01L159.01 167.64L158.91 167.64L158.82 167.52L158.69 168.19L158.59 168.2L158.53 167.51L158.4 167.97L158.18 169.88L158.23 167.63L158.12 167.71L158.02 167.79L157.91 167.89L157.84 167.6L157.72 167.83L157.65 167.49L157.54 167.69L157.49 167.12L157.4 167.03L157.29 167.12L157.2 167.09L157.08 167.28L157.01 167.08L156.88 167.37L156.71 168.02L156.71 167.17L156.59 167.36L156.4 168.16L156.46 166.84L156.33 167.07L156.22 167.2L156.14 167.03L155.95 167.7L155.9 167.39L155.79 167.48L155.69 167.47L155.54 167.8L155.41 168.04L155.32 167.96L155.21 168L155.1 168.04L155.04 167.82L154.94 167.82L154.55 169.56L154.76 167.66L154.63 167.82L154.61 167.41L154.4 168L154.35 167.71L154.22 167.9L154.08 168.09L154.07 167.61L153.99 167.51L153.92 167.34L153.9 166.93L153.75 167.18L153.67 167.09L153.59 166.97L153.44 167.2L153.3 167.39L153.05 168.11L153.22 166.87L153.12 166.86L152.81 167.78L152.9 166.94L152.8 166.95L152.76 166.66L152.7 166.49L152.61 166.47L152.55 166.32L152.35 166.72L152.27 166.65L152.06 167.07L151.9 167.31L151.75 167.46L151.68 167.34L151.72 166.8L151.64 166.71L151.57 166.61L151.56 166.26L151.45 166.33L151.24 166.7L151.17 166.58L150.73 167.75L150.91 166.77L150.74 167L150.82 166.37L150.73 166.34L150.69 166.15L150.52 166.35L150.43 166.31L150.33 166.3L149.91 167.32L149.8 167.32L149.99 166.39L149.95 166.22L149.86 166.17L149.62 166.59L149.58 166.38L149.57 166.11L149.53 165.93L149.44 165.89L149.39 165.73L149.22 165.93L149.1 165.96L148.99 165.97L148.84 166.11L148.67 166.28L148.56 166.29L148.67 165.71L148.48 165.95L148.45 165.74L147.47 168.01L148.29 165.61L148.23 165.49L147.9 166.06L148.1 165.28L147.94 165.42L147.68 165.8L147.46 166.07L147.01 166.93L147.12 166.39L146.97 166.49L146.84 166.53L146.8 166.36L146.68 166.39L146.36 166.86L146.09 167.23L146.3 166.5L145.93 167.08L145.67 167.4L145.67 167.13L145.8 166.6L145.79 166.36L145.16 167.49L145.22 167.1L145.67 165.89L145.48 166.05L145.72 165.31L145.62 165.29L146.45 163.54A32.4 32.4 0 0 0 177.14 162.04Z" fill="#8ecbb1"/><path d="M179.11 165.31L178.44 164.41L178.14 164.1L178.49 164.9L178.08 164.39L177.87 164.23L178.53 165.58L178.12 165.08L178.06 165.19L177.97 165.24L177.8 165.14L178.22 166.11L178.36 166.59L178.13 166.39L178.18 166.7L178.13 166.84L177.31 165.56L177.03 165.25L176.75 164.94L176.81 165.27L176.68 165.25L176.96 166L176.45 165.25L176.12 164.83L175.98 164.78L175.8 164.63L175.43 164.13L175.38 164.24L175.38 164.47L175.37 164.67L175.98 166.15L175.24 164.86L175.44 165.49L175.11 165.03L175.23 165.53L174.79 164.82L174.68 164.83L174.61 164.91L174.55 165.02L174.51 165.16L174.48 165.33L174.54 165.72L174.29 165.4L174.16 165.36L174.33 165.99L173.82 165.07L173.73 165.1L173.86 165.66L173.56 165.2L173.42 165.14L173.5 165.57L173.34 165.45L173.11 165.15L173.13 165.45L173 165.39L173.01 165.68L172.76 165.33L173.34 167.07L172.51 165.21L172.42 165.27L172.28 165.17L172.43 165.83L172.08 165.18L172.01 165.27L172.13 165.86L171.93 165.62L171.89 165.79L171.89 166.09L171.78 166.06L171.74 166.23L171.6 166.15L171.45 166L171.22 165.64L171.12 165.66L171.11 165.93L170.99 165.86L170.9 165.92L170.94 166.35L170.84 166.36L172.29 171.17L170.7 166.56L170.62 166.63L170.49 166.56L170.39 166.58L170.29 166.59L170.11 166.33L170.1 166.63L169.88 166.24L169.83 166.42L169.7 166.33L169.64 166.47L169.56 166.54L169.52 166.76L169.38 166.62L169.4 167.07L169.28 166.98L169.1 166.73L169.01 166.76L168.79 166.3L168.82 166.83L168.74 166.88L168.58 166.67L168.39 166.31L168.31 166.4L168.24 166.51L168.16 166.57L168.02 166.43L167.99 166.72L168.04 167.36L167.87 167.07L167.82 167.26L167.66 167L167.57 167.04L167.38 166.67L167.31 166.77L167.26 167.02L167.24 167.38L167.23 167.84L167.14 167.92L167.03 167.86L166.96 168.05L166.8 167.74L166.77 168.09L166.6 167.76L166.81 169.46L166.35 167.46L166.24 167.43L166.1 167.18L165.97 167.02L165.77 166.4L165.73 166.75L165.59 166.47L165.61 167.21L165.51 167.23L165.54 168.07L165.45 168.09L165.41 168.56L165.33 168.69L165.13 168L165.04 168.03L164.95 168.15L164.99 169.2L164.66 167.47L164.53 167.23L164.45 167.34L164.3 166.88L164.31 167.84L164.15 167.26L164.16 168.27L164 167.68L163.88 167.51L163.83 168.03L163.63 167L163.59 167.57L163.51 167.76L163.41 167.69L163.31 167.69L163.22 167.82L163.1 167.55L163.03 167.88L162.96 168.25L162.85 168.16L162.77 168.47L162.74 169.49L162.55 168.16L162.47 168.4L162.36 168.25L162.29 168.83L162.21 169.24L162.04 167.85L161.95 167.94L161.83 167.51L161.75 167.87L161.63 167.31L161.55 167.74L161.45 167.81L161.37 168.59L161.26 167.98L161.17 168.59L161.07 168.4L160.97 168.45L160.87 168.35L160.77 168.53L160.67 168.37L160.57 168.34L160.47 167.47L160.37 168.17L160.28 167.52L160.18 167.83L160.07 168.44L159.97 168.66L159.88 168.12L159.78 168.19L159.68 167.92L159.59 167.94L159.5 167.46L159.4 167.58L159.3 167.77L159.2 167.7L159.09 168.01L159.01 167.64L158.91 167.64L158.82 167.52L158.69 168.19L158.59 168.2L158.53 167.51L158.4 167.97L158.18 169.88L158.23 167.63L158.12 167.71L158.02 167.79L157.91 167.89L157.84 167.6L157.72 167.83L157.65 167.49L157.54 167.69L157.49 167.12L157.4 167.03L157.29 167.12L157.2 167.09L157.08 167.28L157.01 167.08L156.88 167.37L156.71 168.02L156.71 167.17L156.59 167.36L156.4 168.16L156.46 166.84L156.33 167.07L156.22 167.2L156.14 167.03L155.95 167.7L155.9 167.39L155.79 167.48L155.69 167.47L155.54 167.8L155.41 168.04L155.32 167.96L155.21 168L155.1 168.04L155.04 167.82L154.94 167.82L154.55 169.56L154.76 167.66L154.63 167.82L154.61 167.41L154.4 168L154.35 167.71L154.22 167.9L154.08 168.09L154.07 167.61L153.99 167.51L153.92 167.34L153.9 166.93L153.75 167.18L153.67 167.09L153.59 166.97L153.44 167.2L153.3 167.39L153.05 168.11L153.22 166.87L153.12 166.86L152.81 167.78L152.9 166.94L152.8 166.95L152.76 166.66L152.7 166.49L152.61 166.47L152.55 166.32L152.35 166.72L152.27 166.65L152.06 167.07L151.9 167.31L151.75 167.46L151.68 167.34L151.72 166.8L151.64 166.71L151.57 166.61L151.56 166.26L151.45 166.33L151.24 166.7L151.17 166.58L150.73 167.75L150.91 166.77L150.74 167L150.82 166.37L150.73 166.34L150.69 166.15L150.52 166.35L150.43 166.31L150.33 166.3L149.91 167.32L149.8 167.32L149.99 166.39L149.95 166.22L149.86 166.17L149.62 166.59L149.58 166.38L149.57 166.11L149.53 165.93L149.44 165.89L149.39 165.73L149.22 165.93L149.1 165.96L148.99 165.97L148.84 166.11L148.67 166.28L148.56 166.29L148.67 165.71L148.48 165.95L148.45 165.74L147.47 168.01L148.29 165.61L148.23 165.49L147.9 166.06L148.1 165.28L147.94 165.42L147.68 165.8L147.46 166.07L147.01 166.93L147.12 166.39L146.97 166.49L146.84 166.53L146.8 166.36L146.68 166.39L146.36 166.86L146.09 167.23L146.3 166.5L145.93 167.08L145.67 167.4L145.67 167.13L145.8 166.6L145.79 166.36L145.16 167.49L145.22 167.1L145.67 165.89L145.48 166.05L145.72 165.31L145.62 165.29" fill="none" stroke="#27483c" stroke-width="0.55" stroke-linejoin="round"/>
<path d="M144.53 166.56L145.19 164.98L145.16 164.83L145.06 164.8L144.92 164.86L145.01 164.46L144.98 164.3L144.7 164.63L143.31 167.08L144.32 164.92L143.92 165.47L143.68 165.69L143.67 165.5L143.62 165.37L143.19 165.93L143.57 165.03L143.67 164.63L143.44 164.84L143.45 164.61L143.59 164.15L143.13 164.77L143.3 164.27L143.42 163.84L143.39 163.71L143.27 163.71L142.94 164.09L143.24 163.36L142.99 163.59L143.06 163.28L142.92 163.34L142.8 163.34L142.74 163.24L142.84 162.9L142.59 163.11L142.58 162.95L142.76 162.46L142.6 162.53L142.75 162.12L142.19 162.82L142.41 162.29L142.35 162.2L142.04 162.51L142.03 162.34L141.91 162.34L141.12 163.36L141.26 162.96L141.5 162.43L141.46 162.31L141.69 161.8L141.58 161.78L141.52 161.71L141.37 161.74L141.26 161.73L141.19 161.66L141 161.77L140.76 161.93L140.98 161.46L140.54 161.9L140.85 161.3L140.37 161.8L140.2 161.85L140.29 161.57L140.3 161.39L139.96 161.68L140.35 161L140.31 160.88L139.97 161.17L139.81 161.22L139.91 160.92L139.83 160.87L139.6 161L139.07 161.52L139.6 160.68L139.6 160.52L139.82 160.1L139.84 159.91L139.94 159.64L139.78 159.69L139.6 159.75L138.31 161.17L139.17 159.97L138.94 160.09L139.02 159.85L138.75 160.01L138.67 159.96L138.55 159.95L138.7 159.63L138.52 159.69L138.8 159.21L137.93 160.06L138.48 159.29L138.64 158.95L138.41 159.07L138.38 158.96L137.92 159.32L137.69 159.43L137.55 159.44L137.39 159.47L135.74 161.11L137.16 159.42L137.2 159.23L136.89 159.42L137.17 158.98L136.98 159.04L137.14 158.72L137.39 158.31L137.02 158.56L137.17 158.27L137.25 158.04L137.06 158.1L136.76 158.26L136.84 158.05L136.51 158.24L136.56 158.05L136.64 157.83L135.87 158.45L136.21 157.98L135.98 158.06L135.71 158.18L135.83 157.93L135.5 158.11L135.96 157.53L135.87 157.48L135.94 157.28L136.03 157.06L134.65 158.21L135.85 156.96L135.52 157.13L135.5 157.02L135.13 157.22L135.13 157.09L135.22 156.87L135.27 156.7L134.73 157.04L134.93 156.73L134.64 156.85L134.62 156.74L134.68 156.56L135.11 156.05L134.88 156.12L135.19 155.73L135.09 155.69L134.92 155.7L134.31 156.09L134.36 155.92L134.3 155.84L134.55 155.51L134.15 155.7L134.36 155.41L134.28 155.35L134.09 155.38L134.35 155.04L134.1 155.12L134.37 154.78L134.29 154.71L134.06 154.78L133.3 155.24L133.28 155.13L133.42 154.9L133.29 154.87L131.23 156.3L133.44 154.51L132.38 155.17L133.31 154.36L133.68 153.96L133.13 154.24L133.25 154.04L133.08 154.04L132.78 154.14L132.83 153.98L131.91 154.51L132.15 154.22L132.3 153.98L132.56 153.68L132.62 153.52L132.47 153.51L132.42 153.42L132.75 153.08L132.71 152.99L132.64 152.91L132.52 152.87L132.78 152.59L132.27 152.81L131.65 153.1L132.02 152.73L131.73 152.8L132.15 152.41L132.41 152.13L132.7 151.83L132.29 151.98L131.91 152.1L131.56 152.2L131.71 152L131.56 151.97L131.68 151.78L131.32 151.89L131.66 151.57L131.37 151.62L131.01 151.72L131.63 151.24L131.83 151.01L131.26 151.23L131.33 151.08L131.41 150.92L130.48 151.34L131.23 150.8L131.09 150.76L131.21 150.58L131.42 150.35L130.91 150.53L130.57 150.6L130.44 150.56L130.53 150.39L129.71 150.72L130.74 150.06L130.52 150.06L130.78 149.82L130.63 149.79L129.94 150.03L130.35 149.71L130.4 149.57L129.87 149.73L129.74 149.69L130.11 149.39L130.47 149.1L130.35 149.05L130.37 148.93L129.98 149.01L129.58 149.1L130.03 148.77L130.06 148.65L129.74 148.69L130.29 148.32L129.75 148.46L129.24 148.59L129.47 148.38L129.86 148.09L129.67 148.07L129.32 148.11L129.74 147.82L129.41 147.86L129.15 147.86L129.34 147.68L128.67 147.85L129.03 147.59L129.47 147.3L129.21 147.3L129.63 147.02L129.88 146.82L129.69 146.79L129.61 146.72L128.79 146.94L128.17 147.08L128.62 146.79L128.69 146.66L129.02 146.42L129.01 146.32L128.81 146.29L129.26 146.02L129.52 145.82L129 145.9L128.77 145.89L128.89 145.74L128.34 145.83L128.7 145.6L128.78 145.46L129.04 145.27L128.54 145.34L128.42 145.28L128.55 145.13L128.28 145.12L128.25 145.02L128.37 144.88L128.37 144.77L128.25 144.71L125.27 145.56L128.21 144.52L128.07 144.46L128.33 144.27L127.85 144.32L127.86 144.21L127.76 144.14L128.01 143.96L126.45 144.31L127.84 143.8L126.35 144.13L127.79 143.61L127.81 143.5L127.78 143.41L127.83 143.29L127.63 143.24L127.48 143.18L127.61 143.04L127.93 142.86L127.85 142.78L127.62 142.73L127.39 142.69L126.54 142.8L126.95 142.59L126.87 142.51L126.9 142.4L126.82 142.31L127.1 142.15L127.32 141.99L127.27 141.9L127.96 141.64L127.26 141.7L127.39 141.57L127.65 141.41L127.32 141.38L127.43 141.26L126.93 141.26L127.24 141.1L127.75 140.89L127.64 140.82L127.8 140.68L127.48 140.65L127.4 140.56L127.58 140.43L127.29 140.38L127.78 140.2L127.47 140.15L128.01 139.96L127.94 139.87L127.71 139.81L127.01 139.83L127.48 139.66L127.57 139.54L127.8 139.41L127.62 139.34L127.75 139.22L127.26 139.2L126.4 139.22L127.16 139.01L127.2 138.91L127.2 138.81L126.7 138.78L127.17 138.62L126.75 138.57L126.81 138.46L126.93 138.35L126.97 138.24L126.73 138.17L126.93 138.05L127 137.94L127.26 137.82L127.43 137.7L127.67 137.58L127.61 137.49L127 137.45L126.67 137.38L125.91 137.35L126.4 137.21L125.58 137.18L126.1 137.03L125.01 137.01L124.29 136.96L125.18 136.79L124.68 136.73L124.44 136.64L123.31 136.6L123.78 136.46L122.69 136.42L123.73 136.25L124.49 136.11L121.73 136.13L123.41 135.94L123.03 135.85L121.69 135.79L122.85 135.64L121.92 135.56L123.11 135.41L120.12 135.38L122.39 135.21L122.92 135.09L121.88 135L124.17 134.85L122.76 134.76L124.11 134.64L123.99 134.53L123.41 134.43L121.23 134.32L122.87 134.21L121.15 134.09L128 134.13A32.4 32.4 0 0 0 146.1 163.37Z" fill="#8ecbb1"/><path d="M144.53 166.56L145.19 164.98L145.16 164.83L145.06 164.8L144.92 164.86L145.01 164.46L144.98 164.3L144.7 164.63L143.31 167.08L144.32 164.92L143.92 165.47L143.68 165.69L143.67 165.5L143.62 165.37L143.19 165.93L143.57 165.03L143.67 164.63L143.44 164.84L143.45 164.61L143.59 164.15L143.13 164.77L143.3 164.27L143.42 163.84L143.39 163.71L143.27 163.71L142.94 164.09L143.24 163.36L142.99 163.59L143.06 163.28L142.92 163.34L142.8 163.34L142.74 163.24L142.84 162.9L142.59 163.11L142.58 162.95L142.76 162.46L142.6 162.53L142.75 162.12L142.19 162.82L142.41 162.29L142.35 162.2L142.04 162.51L142.03 162.34L141.91 162.34L141.12 163.36L141.26 162.96L141.5 162.43L141.46 162.31L141.69 161.8L141.58 161.78L141.52 161.71L141.37 161.74L141.26 161.73L141.19 161.66L141 161.77L140.76 161.93L140.98 161.46L140.54 161.9L140.85 161.3L140.37 161.8L140.2 161.85L140.29 161.57L140.3 161.39L139.96 161.68L140.35 161L140.31 160.88L139.97 161.17L139.81 161.22L139.91 160.92L139.83 160.87L139.6 161L139.07 161.52L139.6 160.68L139.6 160.52L139.82 160.1L139.84 159.91L139.94 159.64L139.78 159.69L139.6 159.75L138.31 161.17L139.17 159.97L138.94 160.09L139.02 159.85L138.75 160.01L138.67 159.96L138.55 159.95L138.7 159.63L138.52 159.69L138.8 159.21L137.93 160.06L138.48 159.29L138.64 158.95L138.41 159.07L138.38 158.96L137.92 159.32L137.69 159.43L137.55 159.44L137.39 159.47L135.74 161.11L137.16 159.42L137.2 159.23L136.89 159.42L137.17 158.98L136.98 159.04L137.14 158.72L137.39 158.31L137.02 158.56L137.17 158.27L137.25 158.04L137.06 158.1L136.76 158.26L136.84 158.05L136.51 158.24L136.56 158.05L136.64 157.83L135.87 158.45L136.21 157.98L135.98 158.06L135.71 158.18L135.83 157.93L135.5 158.11L135.96 157.53L135.87 157.48L135.94 157.28L136.03 157.06L134.65 158.21L135.85 156.96L135.52 157.13L135.5 157.02L135.13 157.22L135.13 157.09L135.22 156.87L135.27 156.7L134.73 157.04L134.93 156.73L134.64 156.85L134.62 156.74L134.68 156.56L135.11 156.05L134.88 156.12L135.19 155.73L135.09 155.69L134.92 155.7L134.31 156.09L134.36 155.92L134.3 155.84L134.55 155.51L134.15 155.7L134.36 155.41L134.28 155.35L134.09 155.38L134.35 155.04L134.1 155.12L134.37 154.78L134.29 154.71L134.06 154.78L133.3 155.24L133.28 155.13L133.42 154.9L133.29 154.87L131.23 156.3L133.44 154.51L132.38 155.17L133.31 154.36L133.68 153.96L133.13 154.24L133.25 154.04L133.08 154.04L132.78 154.14L132.83 153.98L131.91 154.51L132.15 154.22L132.3 153.98L132.56 153.68L132.62 153.52L132.47 153.51L132.42 153.42L132.75 153.08L132.71 152.99L132.64 152.91L132.52 152.87L132.78 152.59L132.27 152.81L131.65 153.1L132.02 152.73L131.73 152.8L132.15 152.41L132.41 152.13L132.7 151.83L132.29 151.98L131.91 152.1L131.56 152.2L131.71 152L131.56 151.97L131.68 151.78L131.32 151.89L131.66 151.57L131.37 151.62L131.01 151.72L131.63 151.24L131.83 151.01L131.26 151.23L131.33 151.08L131.41 150.92L130.48 151.34L131.23 150.8L131.09 150.76L131.21 150.58L131.42 150.35L130.91 150.53L130.57 150.6L130.44 150.56L130.53 150.39L129.71 150.72L130.74 150.06L130.52 150.06L130.78 149.82L130.63 149.79L129.94 150.03L130.35 149.71L130.4 149.57L129.87 149.73L129.74 149.69L130.11 149.39L130.47 149.1L130.35 149.05L130.37 148.93L129.98 149.01L129.58 149.1L130.03 148.77L130.06 148.65L129.74 148.69L130.29 148.32L129.75 148.46L129.24 148.59L129.47 148.38L129.86 148.09L129.67 148.07L129.32 148.11L129.74 147.82L129.41 147.86L129.15 147.86L129.34 147.68L128.67 147.85L129.03 147.59L129.47 147.3L129.21 147.3L129.63 147.02L129.88 146.82L129.69 146.79L129.61 146.72L128.79 146.94L128.17 147.08L128.62 146.79L128.69 146.66L129.02 146.42L129.01 146.32L128.81 146.29L129.26 146.02L129.52 145.82L129 145.9L128.77 145.89L128.89 145.74L128.34 145.83L128.7 145.6L128.78 145.46L129.04 145.27L128.54 145.34L128.42 145.28L128.55 145.13L128.28 145.12L128.25 145.02L128.37 144.88L128.37 144.77L128.25 144.71L125.27 145.56L128.21 144.52L128.07 144.46L128.33 144.27L127.85 144.32L127.86 144.21L127.76 144.14L128.01 143.96L126.45 144.31L127.84 143.8L126.35 144.13L127.79 143.61L127.81 143.5L127.78 143.41L127.83 143.29L127.63 143.24L127.48 143.18L127.61 143.04L127.93 142.86L127.85 142.78L127.62 142.73L127.39 142.69L126.54 142.8L126.95 142.59L126.87 142.51L126.9 142.4L126.82 142.31L127.1 142.15L127.32 141.99L127.27 141.9L127.96 141.64L127.26 141.7L127.39 141.57L127.65 141.41L127.32 141.38L127.43 141.26L126.93 141.26L127.24 141.1L127.75 140.89L127.64 140.82L127.8 140.68L127.48 140.65L127.4 140.56L127.58 140.43L127.29 140.38L127.78 140.2L127.47 140.15L128.01 139.96L127.94 139.87L127.71 139.81L127.01 139.83L127.48 139.66L127.57 139.54L127.8 139.41L127.62 139.34L127.75 139.22L127.26 139.2L126.4 139.22L127.16 139.01L127.2 138.91L127.2 138.81L126.7 138.78L127.17 138.62L126.75 138.57L126.81 138.46L126.93 138.35L126.97 138.24L126.73 138.17L126.93 138.05L127 137.94L127.26 137.82L127.43 137.7L127.67 137.58L127.61 137.49L127 137.45L126.67 137.38L125.91 137.35L126.4 137.21L125.58 137.18L126.1 137.03L125.01 137.01L124.29 136.96L125.18 136.79L124.68 136.73L124.44 136.64L123.31 136.6L123.78 136.46L122.69 136.42L123.73 136.25L124.49 136.11L121.73 136.13L123.41 135.94L123.03 135.85L121.69 135.79L122.85 135.64L121.92 135.56L123.11 135.41L120.12 135.38L122.39 135.21L122.92 135.09L121.88 135L124.17 134.85L122.76 134.76L124.11 134.64L123.99 134.53L123.41 134.43L121.23 134.32L122.87 134.21L121.15 134.09" fill="none" stroke="#27483c" stroke-width="0.55" stroke-linejoin="round"/>
<path d="M121.92 133.63L121.84 133.51L122.58 133.42L120.56 133.26L120.56 133.14L121.81 133.06L123.32 133L122.92 132.88L123.02 132.77L121.57 132.6L120.34 132.43L118.43 132.22L120.84 132.22L121.68 132.15L119.47 131.91L122.84 132L121.38 131.79L122.02 131.72L120.41 131.5L122.15 131.51L122.23 131.4L122.31 131.29L123.31 131.26L123.64 131.18L124.37 131.14L124.31 131.03L124.06 130.9L125.2 130.9L124.95 130.77L124.59 130.63L126.1 130.68L126.26 130.6L126.86 130.57L127.27 130.51L127.23 130.41L126.18 130.19L126.65 130.14L126.89 130.07L125.74 129.82L126.57 129.83L124.62 129.47L126.91 129.68L126.73 129.55L126.6 129.43L127.23 129.42L127.22 129.32L127.21 129.22L127.61 129.19L127.83 129.12L127.49 128.97L127.73 128.91L127.45 128.77L126.72 128.54L126.6 128.42L126.73 128.34L127.08 128.3L127.18 128.22L126.73 128.04L127.65 128.11L127.09 127.9L127.56 127.89L126.45 127.57L126.87 127.56L126.76 127.43L127.28 127.44L127.63 127.41L127.74 127.33L127.63 127.21L127.07 126.99L127.07 126.88L126.43 126.64L127.09 126.68L126.79 126.51L127.28 126.52L127.87 126.56L128 126.49L127.95 126.38L127.31 126.12L127.89 126.16L127.12 125.87L127.04 125.74L127.16 125.67L127.58 125.68L127.76 125.62L128.04 125.6L127.36 125.31L128.41 125.5L128.1 125.31L127.97 125.17L128.29 125.16L128.44 125.1L128.27 124.95L128.11 124.8L128.2 124.72L128.32 124.66L127.01 124.16L128.46 124.5L128.61 124.44L129.15 124.51L128.48 124.2L128.63 124.14L129.06 124.18L128.7 123.96L126.85 123.25L128.73 123.76L128.79 123.68L128.36 123.43L128.52 123.38L128.95 123.43L127.62 122.86L128.7 123.13L128.45 122.94L129.06 123.05L128.68 122.81L129.46 122.99L128.79 122.64L129.45 122.79L128.44 122.3L128.91 122.37L128.47 122.1L128.96 122.18L128.59 121.93L129.08 122.02L129.51 122.08L129.7 122.05L129.36 121.81L129.74 121.86L129.82 121.79L129.94 121.73L129.56 121.47L129.67 121.41L129.81 121.36L129.88 121.29L129.63 121.08L129.44 120.89L129.89 120.98L129.58 120.74L129.37 120.53L129.7 120.57L129.44 120.35L129.69 120.35L129.29 120.06L129.25 119.93L129.45 119.91L129.65 119.9L129.44 119.69L129.33 119.53L128.69 119.11L129.84 119.55L129.9 119.47L130.29 119.55L130.32 119.46L130.57 119.47L130.71 119.43L130.75 119.34L130.63 119.17L129.96 118.72L130.32 118.8L130.63 118.84L130.44 118.64L130.79 118.71L130.57 118.48L130.34 118.24L129.71 117.8L130.31 118L130.4 117.94L130.43 117.84L131.14 118.12L131.45 118.18L129.96 117.24L131.81 118.16L131.49 117.87L131.67 117.86L130.86 117.28L131.52 117.55L131.67 117.53L131.67 117.41L131.71 117.32L131.96 117.36L130.3 116.25L131.91 117.1L131.32 116.63L131.5 116.62L131.49 116.5L131.96 116.68L131.78 116.45L131.86 116.38L132.17 116.46L132.15 116.34L132.16 116.22L132.55 116.36L131.47 115.54L132.71 116.23L132.48 115.96L132.36 115.77L132.5 115.75L132.02 115.3L131.35 114.74L132.6 115.45L132.67 115.39L132.88 115.41L132.65 115.14L132.98 115.24L132.98 115.12L132.64 114.77L133.1 114.97L133.15 114.88L133.13 114.75L132.75 114.35L132.44 114.01L132.99 114.29L132.94 114.13L132.97 114.03L133.24 114.1L133.78 114.38L133.75 114.24L133.69 114.07L134.01 114.19L134 114.06L134.21 114.1L134.19 113.96L133.2 113.06L132.95 112.74L134.07 113.5L134.01 113.32L134.62 113.69L134.62 113.56L133.85 112.82L134.37 113.11L134.59 113.17L134.16 112.68L134.49 112.82L134.37 112.6L134.55 112.62L134.52 112.47L134.92 112.67L134.7 112.36L135.16 112.63L135.18 112.51L134.96 112.19L134.06 111.28L135.55 112.45L135.23 112.04L135.32 111.99L135.36 111.9L135.45 111.84L135.6 111.84L135.22 111.36L135.34 111.34L135.85 111.68L135.59 111.3L135.83 111.39L135.82 111.25L136.18 111.45L136.03 111.17L135.63 110.66L135.68 110.57L136.03 110.77L136.13 110.72L136.2 110.65L136.07 110.39L136.51 110.69L136.48 110.52L136.42 110.32L136.51 110.27L136.79 110.41L136.86 110.34L136.42 109.75L137.14 110.35L137.01 110.07L136.83 109.74L137.12 109.9L137.51 110.17L135.94 108.36L137.82 110.22L137.89 110.15L137.58 109.67L137.33 109.26L137.36 109.14L137.47 109.12L137.78 109.31L137.77 109.15L137.91 109.16L137.78 108.87L137.48 108.38L137.79 108.58L138.04 108.71L138.33 108.89L138.22 108.62L138.2 108.45L138.44 108.57L138.28 108.22L138.58 108.43L138.38 108.04L138.74 108.31L138.5 107.87L139.08 108.41L139.02 108.19L139.12 108.16L139.31 108.23L139.08 107.79L139.39 108.01L139.33 107.79L139.65 108.03L139.71 107.94L139.68 107.75L139.91 107.88L139.65 107.39L139.81 107.44L140.07 107.61L139.94 107.27L140.01 107.21L139.93 106.94L139.52 106.22L140.3 107.1L140.52 107.23L140.43 106.94L140.99 107.55L140.94 107.32L141.21 107.52L141.18 107.31L141.18 107.15L141.24 107.07L141.28 106.95L140.98 106.35L141.15 106.41L141.11 106.18L141.21 106.16L141.32 106.14L141.61 106.4L142.08 106.91L141.93 106.51L142.01 106.47L141.99 106.26L142.18 106.36L142.18 106.19L142.06 105.82L142.35 106.09L142.55 106.22L142.47 105.92L142.29 105.45L142.5 105.6L142.74 105.79L142.63 105.43L142.73 105.4L143.05 105.73L143.25 105.89L143.4 105.94L143.62 106.13L143.4 105.57L143.42 105.4L143.52 105.39L143.61 105.35L143.34 104.67L143.63 104.97L143.8 105.08L143.39 104.16L143.87 104.8L144.15 105.1L144.24 105.06L144.1 104.61L144.06 104.33L144.12 104.23L144.17 104.12L144.27 104.08L144.38 104.08L144.48 104.07L144.57 104.02L144.52 103.71L144.67 103.77L144.93 104.06L145.13 104.23L145.27 104.29L145.4 104.34L144.05 101.4L145.59 104.27L145.71 104.29L145.71 104.07L145.72 103.88L145.64 103.48L145.77 103.51L145.93 103.62L146.04 103.62L146.35 104.06L146.39 103.9L146.29 103.45L146.39 103.45L146.39 103.19L146.09 102.29L146.6 103.17L146.64 103.02L146.64 102.78L146.99 103.32L147.02 103.14L147.09 103.06L147.49 103.75L147.51 103.55L147.65 103.63L147.81 103.77L147.89 103.7L148.01 103.75L148.16 103.86L148.02 103.24L148.13 103.25L148.36 103.57L148.29 103.13L148.4 103.15L148.44 102.98L148.62 103.19L148.79 103.35L148.82 103.16L148.84 102.95L149.08 103.3L149.12 103.14L149.04 102.62L149.18 102.74L149.17 102.39L149.36 102.66L149.41 102.5L149.45 102.3L149.55 102.31L149.9 103.03L149.88 102.65L149.98 102.65L149.99 102.37L150.02 102.14L150.28 102.64L150.38 102.63L150.21 101.78L150.46 102.22L150.51 102.07L150.67 102.26L150.79 102.32L150.65 101.49L150.95 102.17L150.92 101.71L151.26 102.53L151.34 102.45L151.27 101.84L151.34 101.73L151.43 101.69L151.48 101.5L151.54 101.34L151.68 101.47L151.89 101.9L152.07 102.17L152.12 102L152.15 101.73L152.18 101.43L152.4 101.93L152.37 101.36L152.51 101.56L152.64 101.66L152.75 101.69L152.77 101.37L152.94 101.65L153.07 101.79L153.06 101.29L152.63 98.86L153.32 101.54L153.33 101.13L153.55 101.69L153.61 101.51L153.83 102.57A32.4 32.4 0 0 0 128 133.73Z" fill="#8ecbb1"/><path d="M121.92 133.63L121.84 133.51L122.58 133.42L120.56 133.26L120.56 133.14L121.81 133.06L123.32 133L122.92 132.88L123.02 132.77L121.57 132.6L120.34 132.43L118.43 132.22L120.84 132.22L121.68 132.15L119.47 131.91L122.84 132L121.38 131.79L122.02 131.72L120.41 131.5L122.15 131.51L122.23 131.4L122.31 131.29L123.31 131.26L123.64 131.18L124.37 131.14L124.31 131.03L124.06 130.9L125.2 130.9L124.95 130.77L124.59 130.63L126.1 130.68L126.26 130.6L126.86 130.57L127.27 130.51L127.23 130.41L126.18 130.19L126.65 130.14L126.89 130.07L125.74 129.82L126.57 129.83L124.62 129.47L126.91 129.68L126.73 129.55L126.6 129.43L127.23 129.42L127.22 129.32L127.21 129.22L127.61 129.19L127.83 129.12L127.49 128.97L127.73 128.91L127.45 128.77L126.72 128.54L126.6 128.42L126.73 128.34L127.08 128.3L127.18 128.22L126.73 128.04L127.65 128.11L127.09 127.9L127.56 127.89L126.45 127.57L126.87 127.56L126.76 127.43L127.28 127.44L127.63 127.41L127.74 127.33L127.63 127.21L127.07 126.99L127.07 126.88L126.43 126.64L127.09 126.68L126.79 126.51L127.28 126.52L127.87 126.56L128 126.49L127.95 126.38L127.31 126.12L127.89 126.16L127.12 125.87L127.04 125.74L127.16 125.67L127.58 125.68L127.76 125.62L128.04 125.6L127.36 125.31L128.41 125.5L128.1 125.31L127.97 125.17L128.29 125.16L128.44 125.1L128.27 124.95L128.11 124.8L128.2 124.72L128.32 124.66L127.01 124.16L128.46 124.5L128.61 124.44L129.15 124.51L128.48 124.2L128.63 124.14L129.06 124.18L128.7 123.96L126.85 123.25L128.73 123.76L128.79 123.68L128.36 123.43L128.52 123.38L128.95 123.43L127.62 122.86L128.7 123.13L128.45 122.94L129.06 123.05L128.68 122.81L129.46 122.99L128.79 122.64L129.45 122.79L128.44 122.3L128.91 122.37L128.47 122.1L128.96 122.18L128.59 121.93L129.08 122.02L129.51 122.08L129.7 122.05L129.36 121.81L129.74 121.86L129.82 121.79L129.94 121.73L129.56 121.47L129.67 121.41L129.81 121.36L129.88 121.29L129.63 121.08L129.44 120.89L129.89 120.98L129.58 120.74L129.37 120.53L129.7 120.57L129.44 120.35L129.69 120.35L129.29 120.06L129.25 119.93L129.45 119.91L129.65 119.9L129.44 119.69L129.33 119.53L128.69 119.11L129.84 119.55L129.9 119.47L130.29 119.55L130.32 119.46L130.57 119.47L130.71 119.43L130.75 119.34L130.63 119.17L129.96 118.72L130.32 118.8L130.63 118.84L130.44 118.64L130.79 118.71L130.57 118.48L130.34 118.24L129.71 117.8L130.31 118L130.4 117.94L130.43 117.84L131.14 118.12L131.45 118.18L129.96 117.24L131.81 118.16L131.49 117.87L131.67 117.86L130.86 117.28L131.52 117.55L131.67 117.53L131.67 117.41L131.71 117.32L131.96 117.36L130.3 116.25L131.91 117.1L131.32 116.63L131.5 116.62L131.49 116.5L131.96 116.68L131.78 116.45L131.86 116.38L132.17 116.46L132.15 116.34L132.16 116.22L132.55 116.36L131.47 115.54L132.71 116.23L132.48 115.96L132.36 115.77L132.5 115.75L132.02 115.3L131.35 114.74L132.6 115.45L132.67 115.39L132.88 115.41L132.65 115.14L132.98 115.24L132.98 115.12L132.64 114.77L133.1 114.97L133.15 114.88L133.13 114.75L132.75 114.35L132.44 114.01L132.99 114.29L132.94 114.13L132.97 114.03L133.24 114.1L133.78 114.38L133.75 114.24L133.69 114.07L134.01 114.19L134 114.06L134.21 114.1L134.19 113.96L133.2 113.06L132.95 112.74L134.07 113.5L134.01 113.32L134.62 113.69L134.62 113.56L133.85 112.82L134.37 113.11L134.59 113.17L134.16 112.68L134.49 112.82L134.37 112.6L134.55 112.62L134.52 112.47L134.92 112.67L134.7 112.36L135.16 112.63L135.18 112.51L134.96 112.19L134.06 111.28L135.55 112.45L135.23 112.04L135.32 111.99L135.36 111.9L135.45 111.84L135.6 111.84L135.22 111.36L135.34 111.34L135.85 111.68L135.59 111.3L135.83 111.39L135.82 111.25L136.18 111.45L136.03 111.17L135.63 110.66L135.68 110.57L136.03 110.77L136.13 110.72L136.2 110.65L136.07 110.39L136.51 110.69L136.48 110.52L136.42 110.32L136.51 110.27L136.79 110.41L136.86 110.34L136.42 109.75L137.14 110.35L137.01 110.07L136.83 109.74L137.12 109.9L137.51 110.17L135.94 108.36L137.82 110.22L137.89 110.15L137.58 109.67L137.33 109.26L137.36 109.14L137.47 109.12L137.78 109.31L137.77 109.15L137.91 109.16L137.78 108.87L137.48 108.38L137.79 108.58L138.04 108.71L138.33 108.89L138.22 108.62L138.2 108.45L138.44 108.57L138.28 108.22L138.58 108.43L138.38 108.04L138.74 108.31L138.5 107.87L139.08 108.41L139.02 108.19L139.12 108.16L139.31 108.23L139.08 107.79L139.39 108.01L139.33 107.79L139.65 108.03L139.71 107.94L139.68 107.75L139.91 107.88L139.65 107.39L139.81 107.44L140.07 107.61L139.94 107.27L140.01 107.21L139.93 106.94L139.52 106.22L140.3 107.1L140.52 107.23L140.43 106.94L140.99 107.55L140.94 107.32L141.21 107.52L141.18 107.31L141.18 107.15L141.24 107.07L141.28 106.95L140.98 106.35L141.15 106.41L141.11 106.18L141.21 106.16L141.32 106.14L141.61 106.4L142.08 106.91L141.93 106.51L142.01 106.47L141.99 106.26L142.18 106.36L142.18 106.19L142.06 105.82L142.35 106.09L142.55 106.22L142.47 105.92L142.29 105.45L142.5 105.6L142.74 105.79L142.63 105.43L142.73 105.4L143.05 105.73L143.25 105.89L143.4 105.94L143.62 106.13L143.4 105.57L143.42 105.4L143.52 105.39L143.61 105.35L143.34 104.67L143.63 104.97L143.8 105.08L143.39 104.16L143.87 104.8L144.15 105.1L144.24 105.06L144.1 104.61L144.06 104.33L144.12 104.23L144.17 104.12L144.27 104.08L144.38 104.08L144.48 104.07L144.57 104.02L144.52 103.71L144.67 103.77L144.93 104.06L145.13 104.23L145.27 104.29L145.4 104.34L144.05 101.4L145.59 104.27L145.71 104.29L145.71 104.07L145.72 103.88L145.64 103.48L145.77 103.51L145.93 103.62L146.04 103.62L146.35 104.06L146.39 103.9L146.29 103.45L146.39 103.45L146.39 103.19L146.09 102.29L146.6 103.17L146.64 103.02L146.64 102.78L146.99 103.32L147.02 103.14L147.09 103.06L147.49 103.75L147.51 103.55L147.65 103.63L147.81 103.77L147.89 103.7L148.01 103.75L148.16 103.86L148.02 103.24L148.13 103.25L148.36 103.57L148.29 103.13L148.4 103.15L148.44 102.98L148.62 103.19L148.79 103.35L148.82 103.16L148.84 102.95L149.08 103.3L149.12 103.14L149.04 102.62L149.18 102.74L149.17 102.39L149.36 102.66L149.41 102.5L149.45 102.3L149.55 102.31L149.9 103.03L149.88 102.65L149.98 102.65L149.99 102.37L150.02 102.14L150.28 102.64L150.38 102.63L150.21 101.78L150.46 102.22L150.51 102.07L150.67 102.26L150.79 102.32L150.65 101.49L150.95 102.17L150.92 101.71L151.26 102.53L151.34 102.45L151.27 101.84L151.34 101.73L151.43 101.69L151.48 101.5L151.54 101.34L151.68 101.47L151.89 101.9L152.07 102.17L152.12 102L152.15 101.73L152.18 101.43L152.4 101.93L152.37 101.36L152.51 101.56L152.64 101.66L152.75 101.69L152.77 101.37L152.94 101.65L153.07 101.79L153.06 101.29L152.63 98.86L153.32 101.54L153.33 101.13L153.55 101.69L153.61 101.51" fill="none" stroke="#27483c" stroke-width="0.55" stroke-linejoin="round"/>
<path d="M153.87 100.72L153.97 100.64L154.08 100.67L154.13 100.35L154.16 99.95L154.16 99.33L154.23 99.06L154.17 98.09L154.34 98.4L154.37 97.85L154.61 98.61L154.81 99.16L155 99.66L155.13 99.8L155.31 100.26L155.48 100.74L155.48 100L155.69 100.67L155.82 100.87L156 102.2A32.4 32.4 0 0 0 154.22 102.5Z" fill="#8ecbb1"/><path d="M153.87 100.72L153.97 100.64L154.08 100.67L154.13 100.35L154.16 99.95L154.16 99.33L154.23 99.06L154.17 98.09L154.34 98.4L154.37 97.85L154.61 98.61L154.81 99.16L155 99.66L155.13 99.8L155.31 100.26L155.48 100.74L155.48 100L155.69 100.67L155.82 100.87" fill="none" stroke="#27483c" stroke-width="0.55" stroke-linejoin="round"/>
<path d="M180.38 107.79L184.59 102.19M189.71 118.71L194.13 116.37M189.71 149.89L195.01 152.7M178.48 162.14L181.21 166.34M127.33 131.41L121.35 130.88" stroke="#3a3226" stroke-width="0.45" fill="none"/>
<path d="M160.65 40.6L160.66 36.5M160.6 58.2L160.61 53.4M160.57 70.6L160.59 63.4" stroke="#333" stroke-width="0.5" fill="none"/>
<circle cx="160.4" cy="134.3" r="48.4" fill="none" stroke="#6b5a34" stroke-width="0.35"/>
<circle cx="160.4" cy="134.3" r="32.4" fill="none" stroke="#2f5a4a" stroke-width="0.5"/>
<text x="151.42" y="17.64" font-size="4.6" fill="#111" text-anchor="middle" dominant-baseline="central" stroke="#222" stroke-width="0.12">Mb</text>
<text x="153.07" y="39.08" font-size="4.6" fill="#111" text-anchor="middle" dominant-baseline="central" stroke="#222" stroke-width="0.12">I</text>
<text x="154.45" y="56.93" font-size="4.6" fill="#111" text-anchor="middle" dominant-baseline="central" stroke="#222" stroke-width="0.12">II</text>
<text x="155.28" y="67.7" font-size="4.6" fill="#111" text-anchor="middle" dominant-baseline="central" stroke="#222" stroke-width="0.12">III</text>
<text x="156.61" y="85.05" font-size="4.6" fill="#111" text-anchor="middle" dominant-baseline="central" stroke="#222" stroke-width="0.12">IV</text>
<text x="157.79" y="100.4" font-size="4.6" fill="#111" text-anchor="middle" dominant-baseline="central" stroke="#222" stroke-width="0.12">V</text>
<rect x="143.9" y="113.5" width="5.2" height="5.2" fill="#efb9b3"/>
<text x="152" y="116.3" font-size="4.7" fill="#111" dominant-baseline="central" stroke="#111" stroke-width="0.122">HiFi depth</text>
<rect x="143.9" y="121.7" width="5.2" height="5.2" fill="#d9737b"/>
<text x="152" y="124.5" font-size="4.7" fill="#111" dominant-baseline="central" stroke="#111" stroke-width="0.122">ONT depth</text>
<rect x="143.9" y="129.9" width="5.2" height="5.2" fill="#6e8bbe"/>
<text x="152" y="132.7" font-size="4.7" fill="#111" dominant-baseline="central" stroke="#111" stroke-width="0.122">GC content</text>
<rect x="143.9" y="138.1" width="5.2" height="5.2" fill="#ebc27a"/>
<text x="152" y="140.9" font-size="4.7" fill="#111" dominant-baseline="central" stroke="#111" stroke-width="0.122">Gene density</text>
<rect x="143.9" y="146.3" width="5.2" height="5.2" fill="#8cc2aa"/>
<text x="152" y="149.1" font-size="4.7" fill="#111" dominant-baseline="central" stroke="#111" stroke-width="0.122">Repeat density</text>
</g>
<text x="-0.9" y="17.4" font-size="13.5" font-weight="bold" fill="#111" stroke="#111" stroke-width="0.16">a</text>
<g id="panelB">
<rect x="52.2" y="281.6" width="200.5" height="200.2" fill="#fdc775"/>
<rect x="52.2" y="450.5" width="31.3" height="31.3" fill="#fba654"/>
<rect x="52.2" y="418.5" width="31.3" height="32" fill="#fbb25e"/>
<rect x="52.2" y="289.8" width="31.3" height="45.8" fill="#fcc87a"/>
<rect x="52.2" y="281.6" width="31.3" height="8.2" fill="#fff0b8"/>
<rect x="83.5" y="450.5" width="33" height="31.3" fill="#fbb25e"/>
<rect x="83.5" y="418.5" width="33" height="32" fill="#fba654"/>
<rect x="83.5" y="289.8" width="33" height="45.8" fill="#fcc87a"/>
<rect x="83.5" y="281.6" width="33" height="8.2" fill="#fff0b8"/>
<rect x="116.5" y="381.4" width="37" height="37.1" fill="#fba654"/>
<rect x="116.5" y="335.6" width="37" height="45.8" fill="#fbb25e"/>
<rect x="116.5" y="289.8" width="37" height="45.8" fill="#fcc87a"/>
<rect x="116.5" y="281.6" width="37" height="8.2" fill="#fff0b8"/>
<rect x="153.5" y="381.4" width="45.5" height="37.1" fill="#fbb25e"/>
<rect x="153.5" y="335.6" width="45.5" height="45.8" fill="#fba654"/>
<rect x="153.5" y="289.8" width="45.5" height="45.8" fill="#fbc371"/>
<rect x="153.5" y="281.6" width="45.5" height="8.2" fill="#fff0b8"/>
<rect x="199" y="450.5" width="45.3" height="31.3" fill="#fcd190"/>
<rect x="199" y="418.5" width="45.3" height="32" fill="#fcd190"/>
<rect x="199" y="381.4" width="45.3" height="37.1" fill="#fcd190"/>
<rect x="199" y="335.6" width="45.3" height="45.8" fill="#fcd190"/>
<rect x="199" y="289.8" width="45.3" height="45.8" fill="#fba654"/>
<rect x="199" y="281.6" width="45.3" height="8.2" fill="#fff0b8"/>
<rect x="244.3" y="450.5" width="8.4" height="31.3" fill="#fff0b8"/>
<rect x="244.3" y="418.5" width="8.4" height="32" fill="#fff0b8"/>
<rect x="244.3" y="381.4" width="8.4" height="37.1" fill="#fff0b8"/>
<rect x="244.3" y="335.6" width="8.4" height="45.8" fill="#fff0b8"/>
<rect x="244.3" y="289.8" width="8.4" height="45.8" fill="#fff0b8"/>
<rect x="244.3" y="281.6" width="8.4" height="8.2" fill="#fff0b8"/>
<rect x="228.6" y="281.6" width="15.7" height="200.2" fill="#fff4c6"/>
<rect x="52.2" y="289.8" width="200.5" height="15.87" fill="#fff4c6"/>
<polygon points="52.2,481.8 65.2,481.8 83.5,463.5 83.5,450.5 70.5,450.5 52.2,468.8" fill="#fa9c4b"/>
<polygon points="52.2,481.8 57.2,481.8 83.5,455.5 83.5,450.5 78.5,450.5 52.2,476.8" fill="#f8904a"/>
<polygon points="52.2,481.8 54.1,481.8 83.5,452.4 83.5,450.5 81.6,450.5 52.2,479.9" fill="#f26c37"/>
<polygon points="83.5,450.5 96.5,450.5 116.5,431.11 116.5,418.5 103.5,418.5 83.5,437.89" fill="#fa9c4b"/>
<polygon points="83.5,450.5 88.5,450.5 116.5,423.35 116.5,418.5 111.5,418.5 83.5,445.65" fill="#f8904a"/>
<polygon points="83.5,450.5 85.4,450.5 116.5,420.34 116.5,418.5 114.6,418.5 83.5,448.66" fill="#f26c37"/>
<polygon points="116.5,418.5 129.5,418.5 153.5,394.44 153.5,381.4 140.5,381.4 116.5,405.46" fill="#fa9c4b"/>
<polygon points="116.5,418.5 121.5,418.5 153.5,386.41 153.5,381.4 148.5,381.4 116.5,413.49" fill="#f8904a"/>
<polygon points="116.5,418.5 118.4,418.5 153.5,383.31 153.5,381.4 151.6,381.4 116.5,416.59" fill="#f26c37"/>
<polygon points="153.5,381.4 166.5,381.4 199,348.69 199,335.6 186,335.6 153.5,368.31" fill="#fa9c4b"/>
<polygon points="153.5,381.4 158.5,381.4 199,340.63 199,335.6 194,335.6 153.5,376.37" fill="#f8904a"/>
<polygon points="153.5,381.4 155.4,381.4 199,337.51 199,335.6 197.1,335.6 153.5,379.49" fill="#f26c37"/>
<polygon points="199,335.6 212,335.6 228.6,318.82 228.6,305.67 215.6,305.67 199,322.46" fill="#fa9c4b"/>
<polygon points="199,335.6 204,335.6 228.6,310.73 228.6,305.67 223.6,305.67 199,330.54" fill="#f8904a"/>
<polygon points="199,335.6 200.9,335.6 228.6,307.59 228.6,305.67 226.7,305.67 199,333.68" fill="#f26c37"/>
<rect x="52.2" y="391.63" width="200.5" height="0.6" fill="#fff6d0" opacity="0.26"/>
<rect x="142.7" y="281.6" width="0.6" height="200.2" fill="#fff6d0" opacity="0.33"/>
<rect x="52.2" y="388.99" width="200.5" height="0.6" fill="#fff6d0" opacity="0.25"/>
<rect x="145.33" y="281.6" width="0.6" height="200.2" fill="#fff6d0" opacity="0.27"/>
<rect x="52.2" y="444.04" width="200.5" height="0.6" fill="#fff6d0" opacity="0.25"/>
<rect x="89.56" y="281.6" width="0.6" height="200.2" fill="#fff6d0" opacity="0.28"/>
<rect x="52.2" y="323.57" width="200.5" height="0.6" fill="#fff6d0" opacity="0.17"/>
<rect x="210.31" y="281.6" width="0.6" height="200.2" fill="#fff6d0" opacity="0.21"/>
<rect x="52.2" y="462.5" width="200.5" height="0.6" fill="#fff6d0" opacity="0.31"/>
<rect x="70.9" y="281.6" width="0.6" height="200.2" fill="#fff6d0" opacity="0.29"/>
<rect x="52.2" y="472.19" width="200.5" height="0.6" fill="#fff6d0" opacity="0.35"/>
<rect x="61.21" y="281.6" width="0.6" height="200.2" fill="#fff6d0" opacity="0.34"/>
<rect x="52.2" y="351.4" width="200.5" height="0.6" fill="#fff6d0" opacity="0.27"/>
<rect x="182.7" y="281.6" width="0.6" height="200.2" fill="#fff6d0" opacity="0.18"/>
<rect x="52.2" y="477.52" width="200.5" height="0.6" fill="#fff6d0" opacity="0.26"/>
<rect x="55.88" y="281.6" width="0.6" height="200.2" fill="#fff6d0" opacity="0.16"/>
<rect x="52.2" y="442.97" width="200.5" height="0.6" fill="#fff6d0" opacity="0.2"/>
<rect x="90.66" y="281.6" width="0.6" height="200.2" fill="#fff6d0" opacity="0.16"/>
<rect x="52.2" y="389.33" width="200.5" height="0.6" fill="#fff6d0" opacity="0.24"/>
<rect x="144.99" y="281.6" width="0.6" height="200.2" fill="#fff6d0" opacity="0.32"/>
<rect x="52.2" y="378.34" width="200.5" height="0.6" fill="#fff6d0" opacity="0.28"/>
<rect x="155.95" y="281.6" width="0.6" height="200.2" fill="#fff6d0" opacity="0.25"/>
<rect x="52.2" y="349.7" width="200.5" height="0.6" fill="#fff6d0" opacity="0.24"/>
<rect x="184.4" y="281.6" width="0.6" height="200.2" fill="#fff6d0" opacity="0.21"/>
<rect x="52.2" y="282.73" width="200.5" height="0.6" fill="#fff6d0" opacity="0.35"/>
<rect x="250.93" y="281.6" width="0.6" height="200.2" fill="#fff6d0" opacity="0.32"/>
<rect x="52.2" y="340.63" width="200.5" height="0.6" fill="#fff6d0" opacity="0.21"/>
<rect x="193.4" y="281.6" width="0.6" height="200.2" fill="#fff6d0" opacity="0.2"/>
<rect x="52.2" y="423.95" width="200.5" height="0.6" fill="#fff6d0" opacity="0.16"/>
<rect x="110.27" y="281.6" width="0.6" height="200.2" fill="#fff6d0" opacity="0.3"/>
<rect x="52.2" y="401.98" width="200.5" height="0.6" fill="#fff6d0" opacity="0.32"/>
<rect x="132.38" y="281.6" width="0.6" height="200.2" fill="#fff6d0" opacity="0.23"/>
<rect x="52.2" y="290.44" width="200.5" height="0.6" fill="#fff6d0" opacity="0.32"/>
<rect x="243.07" y="281.6" width="0.6" height="200.2" fill="#fff6d0" opacity="0.15"/>
<rect x="52.2" y="439.21" width="200.5" height="0.6" fill="#fff6d0" opacity="0.33"/>
<rect x="94.53" y="281.6" width="0.6" height="200.2" fill="#fff6d0" opacity="0.24"/>
<rect x="52.2" y="286.08" width="200.5" height="0.6" fill="#fff6d0" opacity="0.23"/>
<rect x="247.5" y="281.6" width="0.6" height="200.2" fill="#fff6d0" opacity="0.16"/>
<rect x="52.2" y="356.29" width="200.5" height="0.6" fill="#fff6d0" opacity="0.31"/>
<rect x="177.85" y="281.6" width="0.6" height="200.2" fill="#fff6d0" opacity="0.2"/>
<rect x="52.2" y="463.2" width="200.5" height="0.6" fill="#fff6d0" opacity="0.22"/>
<rect x="70.2" y="281.6" width="0.6" height="200.2" fill="#fff6d0" opacity="0.34"/>
<rect x="52.2" y="330.58" width="200.5" height="0.6" fill="#fff6d0" opacity="0.17"/>
<rect x="203.37" y="281.6" width="0.6" height="200.2" fill="#fff6d0" opacity="0.2"/>
<rect x="52.2" y="460.44" width="200.5" height="0.6" fill="#fff6d0" opacity="0.16"/>
<rect x="72.96" y="281.6" width="0.6" height="200.2" fill="#fff6d0" opacity="0.31"/>
<rect x="52.2" y="445.38" width="200.5" height="0.6" fill="#fff6d0" opacity="0.26"/>
<rect x="88.17" y="281.6" width="0.6" height="200.2" fill="#fff6d0" opacity="0.24"/>
<rect x="52.2" y="442.88" width="200.5" height="0.6" fill="#fff6d0" opacity="0.3"/>
<rect x="90.75" y="281.6" width="0.6" height="200.2" fill="#fff6d0" opacity="0.18"/>
<rect x="52.2" y="353.44" width="200.5" height="0.6" fill="#fff6d0" opacity="0.17"/>
<rect x="180.68" y="281.6" width="0.6" height="200.2" fill="#fff6d0" opacity="0.23"/>
<rect x="52.2" y="438.61" width="200.5" height="0.6" fill="#fff6d0" opacity="0.2"/>
<rect x="95.15" y="281.6" width="0.6" height="200.2" fill="#fff6d0" opacity="0.34"/>
<rect x="52.2" y="321.47" width="200.5" height="0.6" fill="#fff6d0" opacity="0.21"/>
<rect x="212.38" y="281.6" width="0.6" height="200.2" fill="#fff6d0" opacity="0.33"/>
<rect x="52.2" y="439.02" width="200.5" height="0.6" fill="#fff6d0" opacity="0.23"/>
<rect x="94.73" y="281.6" width="0.6" height="200.2" fill="#fff6d0" opacity="0.32"/>
<rect x="52.2" y="353.82" width="200.5" height="0.6" fill="#fff6d0" opacity="0.17"/>
<rect x="180.3" y="281.6" width="0.6" height="200.2" fill="#fff6d0" opacity="0.35"/>
<rect x="52.2" y="438.54" width="200.5" height="0.6" fill="#fff6d0" opacity="0.2"/>
<rect x="95.23" y="281.6" width="0.6" height="200.2" fill="#fff6d0" opacity="0.3"/>
<rect x="52.2" y="416.2" width="200.5" height="0.6" fill="#fff6d0" opacity="0.21"/>
<rect x="118.2" y="281.6" width="0.6" height="200.2" fill="#fff6d0" opacity="0.16"/>
<rect x="52.2" y="462.61" width="200.5" height="0.6" fill="#fff6d0" opacity="0.27"/>
<rect x="70.79" y="281.6" width="0.6" height="200.2" fill="#fff6d0" opacity="0.2"/>
<rect x="52.2" y="361.92" width="200.5" height="0.6" fill="#fff6d0" opacity="0.22"/>
<rect x="172.25" y="281.6" width="0.6" height="200.2" fill="#fff6d0" opacity="0.24"/>
<rect x="79.9" y="281.6" width="3.6" height="200.2" fill="#fff3c4" opacity="0.6"/>
<rect x="52.2" y="450.5" width="200.5" height="3.6" fill="#fff3c4" opacity="0.6"/>
<rect x="83.5" y="281.6" width="4.7" height="200.2" fill="#fff3c4" opacity="0.8"/>
<rect x="52.2" y="445.94" width="200.5" height="4.56" fill="#fff3c4" opacity="0.8"/>
<rect x="146.8" y="281.6" width="6.7" height="200.2" fill="#fff3c4" opacity="0.7"/>
<rect x="52.2" y="381.4" width="200.5" height="6.72" fill="#fff3c4" opacity="0.7"/>
<rect x="153.5" y="281.6" width="7.3" height="200.2" fill="#fff3c4" opacity="0.75"/>
<rect x="52.2" y="374.05" width="200.5" height="7.35" fill="#fff3c4" opacity="0.75"/>
<rect x="115.6" y="281.6" width="2.4" height="200.2" fill="#fff3c4" opacity="0.3"/>
<rect x="52.2" y="417" width="200.5" height="2.38" fill="#fff3c4" opacity="0.3"/>
<rect x="196.8" y="281.6" width="2.2" height="200.2" fill="#fff3c4" opacity="0.35"/>
<rect x="52.2" y="335.6" width="200.5" height="2.21" fill="#fff3c4" opacity="0.35"/>
<rect x="84" y="445.94" width="4.2" height="4.07" fill="#f47a3a"/>
<rect x="147.5" y="382.4" width="5" height="5.01" fill="#f8934a"/>
<rect x="154" y="376.87" width="4" height="4.03" fill="#f58a42"/>
<rect x="227.6" y="303.04" width="3.6" height="3.64" fill="#fba85a"/>
<rect x="233" y="290.8" width="4.2" height="4.6" fill="#fbb062"/>
<rect x="84" y="282.5" width="6" height="5" fill="#fcc87c"/>
<rect x="154" y="282.5" width="6" height="5" fill="#fcc87c"/>
<rect x="245.5" y="282.5" width="6" height="5" fill="#fcc07a"/>
<rect x="246" y="372.5" width="5.5" height="7.5" fill="#fcc37a" opacity="0.8"/>
<rect x="246" y="444.5" width="5.5" height="7" fill="#fcc780" opacity="0.8"/>
<rect x="227.6" y="305.67" width="1" height="29.93" fill="#fb9f55" opacity="0.8"/>
<rect x="160.8" y="304.37" width="38.2" height="1.3" fill="#fbb060" opacity="0.8"/>
<rect x="52.2" y="334.6" width="200.5" height="1.8" fill="#a08e5a" opacity="0.55"/>
<rect x="198.2" y="281.6" width="1.8" height="200.2" fill="#a08e5a" opacity="0.55"/>
<line x1="52.2" y1="481.8" x2="228.6" y2="305.67" stroke="#e3452d" stroke-width="1.1"/>
<path d="M83.5 281.6V481.8M116.5 281.6V481.8M153.5 281.6V481.8M199 281.6V481.8M244.3 281.6V481.8M52.2 450.5H252.7M52.2 418.5H252.7M52.2 381.4H252.7M52.2 335.6H252.7M52.2 289.8H252.7" stroke="#2a2a2a" stroke-width="0.6" stroke-dasharray="1 1" fill="none"/>
<path d="M200 281.6V481.8M52.2 334.6H252.7" stroke="#555" stroke-width="0.6" stroke-dasharray="1.1 1.1" fill="none" opacity="0.7"/>
</g>
<defs><linearGradient id="ylorrd" x1="0" y1="1" x2="0" y2="0"><stop offset="0" stop-color="#ffffcc"/><stop offset="0.125" stop-color="#ffeda0"/><stop offset="0.25" stop-color="#fed976"/><stop offset="0.375" stop-color="#feb24c"/><stop offset="0.5" stop-color="#fd8d3c"/><stop offset="0.625" stop-color="#fc4e2a"/><stop offset="0.75" stop-color="#e31a1c"/><stop offset="0.875" stop-color="#bd0026"/><stop offset="1" stop-color="#800026"/></linearGradient></defs>
<rect x="266.7" y="281.0" width="10.2" height="200.8" fill="url(#ylorrd)"/>
<line x1="276.9" y1="482" x2="279.4" y2="482" stroke="#222" stroke-width="0.6"/>
<text x="281.3" y="482" font-size="9" fill="#111" dominant-baseline="central" stroke="#222" stroke-width="0.16">0.0</text>
<line x1="276.9" y1="447.9" x2="279.4" y2="447.9" stroke="#222" stroke-width="0.6"/>
<text x="281.3" y="447.9" font-size="9" fill="#111" dominant-baseline="central" stroke="#222" stroke-width="0.16">2.5</text>
<line x1="276.9" y1="413.8" x2="279.4" y2="413.8" stroke="#222" stroke-width="0.6"/>
<text x="281.3" y="413.8" font-size="9" fill="#111" dominant-baseline="central" stroke="#222" stroke-width="0.16">5.0</text>
<line x1="276.9" y1="379.7" x2="279.4" y2="379.7" stroke="#222" stroke-width="0.6"/>
<text x="281.3" y="379.7" font-size="9" fill="#111" dominant-baseline="central" stroke="#222" stroke-width="0.16">7.5</text>
<line x1="276.9" y1="345.6" x2="279.4" y2="345.6" stroke="#222" stroke-width="0.6"/>
<text x="281.3" y="345.6" font-size="9" fill="#111" dominant-baseline="central" stroke="#222" stroke-width="0.16">10.0</text>
<line x1="276.9" y1="311.5" x2="279.4" y2="311.5" stroke="#222" stroke-width="0.6"/>
<text x="281.3" y="311.5" font-size="9" fill="#111" dominant-baseline="central" stroke="#222" stroke-width="0.16">12.5</text>
<line x1="48.6" y1="286.2" x2="52.2" y2="286.2" stroke="#222" stroke-width="0.6"/>
<text x="46" y="286.2" font-size="8" fill="#111" text-anchor="end" dominant-baseline="central" stroke="#222" stroke-width="0.16">ChrY</text>
<line x1="48.6" y1="313" x2="52.2" y2="313" stroke="#222" stroke-width="0.6"/>
<text x="46" y="313" font-size="8" fill="#111" text-anchor="end" dominant-baseline="central" stroke="#222" stroke-width="0.16">ChrX</text>
<line x1="48.6" y1="335.8" x2="52.2" y2="335.8" stroke="#222" stroke-width="0.6"/>
<text x="46" y="335.8" font-size="8" fill="#111" text-anchor="end" dominant-baseline="central" stroke="#222" stroke-width="0.16">Chr4</text>
<line x1="48.6" y1="358.7" x2="52.2" y2="358.7" stroke="#222" stroke-width="0.6"/>
<text x="46" y="358.7" font-size="8" fill="#111" text-anchor="end" dominant-baseline="central" stroke="#222" stroke-width="0.16">Chr3R</text>
<line x1="48.6" y1="400" x2="52.2" y2="400" stroke="#222" stroke-width="0.6"/>
<text x="46" y="400" font-size="8" fill="#111" text-anchor="end" dominant-baseline="central" stroke="#222" stroke-width="0.16">Chr3L</text>
<line x1="48.6" y1="434.5" x2="52.2" y2="434.5" stroke="#222" stroke-width="0.6"/>
<text x="46" y="434.5" font-size="8" fill="#111" text-anchor="end" dominant-baseline="central" stroke="#222" stroke-width="0.16">Chr2R</text>
<line x1="48.6" y1="466" x2="52.2" y2="466" stroke="#222" stroke-width="0.6"/>
<text x="46" y="466" font-size="8" fill="#111" text-anchor="end" dominant-baseline="central" stroke="#222" stroke-width="0.16">Chr2L</text>
<line x1="68" y1="481.8" x2="68" y2="485.4" stroke="#222" stroke-width="0.6"/>
<text x="68" y="487.8" font-size="8" fill="#111" text-anchor="end" dominant-baseline="central" transform="rotate(-90 68 487.8)" stroke="#222" stroke-width="0.16">Chr2L</text>
<line x1="100" y1="481.8" x2="100" y2="485.4" stroke="#222" stroke-width="0.6"/>
<text x="100" y="487.8" font-size="8" fill="#111" text-anchor="end" dominant-baseline="central" transform="rotate(-90 100 487.8)" stroke="#222" stroke-width="0.16">Chr2R</text>
<line x1="135" y1="481.8" x2="135" y2="485.4" stroke="#222" stroke-width="0.6"/>
<text x="135" y="487.8" font-size="8" fill="#111" text-anchor="end" dominant-baseline="central" transform="rotate(-90 135 487.8)" stroke="#222" stroke-width="0.16">Chr3L</text>
<line x1="176" y1="481.8" x2="176" y2="485.4" stroke="#222" stroke-width="0.6"/>
<text x="176" y="487.8" font-size="8" fill="#111" text-anchor="end" dominant-baseline="central" transform="rotate(-90 176 487.8)" stroke="#222" stroke-width="0.16">Chr3R</text>
<line x1="198.8" y1="481.8" x2="198.8" y2="485.4" stroke="#222" stroke-width="0.6"/>
<text x="198.8" y="487.8" font-size="8" fill="#111" text-anchor="end" dominant-baseline="central" transform="rotate(-90 198.8 487.8)" stroke="#222" stroke-width="0.16">Chr4</text>
<line x1="222.3" y1="481.8" x2="222.3" y2="485.4" stroke="#222" stroke-width="0.6"/>
<text x="222.3" y="487.8" font-size="8" fill="#111" text-anchor="end" dominant-baseline="central" transform="rotate(-90 222.3 487.8)" stroke="#222" stroke-width="0.16">ChrX</text>
<line x1="248.7" y1="481.8" x2="248.7" y2="485.4" stroke="#222" stroke-width="0.6"/>
<text x="248.7" y="487.8" font-size="8" fill="#111" text-anchor="end" dominant-baseline="central" transform="rotate(-90 248.7 487.8)" stroke="#222" stroke-width="0.16">ChrY</text>
<text x="-1.3" y="272.3" font-size="13.5" font-weight="bold" fill="#111" stroke="#111" stroke-width="0.16">b</text>
<text x="324.6" y="17.8" font-size="13.5" font-weight="bold" fill="#111" stroke="#111" stroke-width="0.16">c</text>
<rect x="374.1" y="25" width="127.6" height="201" fill="none" stroke="#666" stroke-width="0.9"/>
<rect x="377.1" y="115.7" width="9" height="101.4" fill="#74b4d8" stroke="#bbb" stroke-width="0.4"/>
<line x1="381.6" y1="226" x2="381.6" y2="228.5" stroke="#444" stroke-width="0.7"/>
<text x="386.8" y="234.9" font-size="7.6" fill="#111" text-anchor="end" transform="rotate(-45 386.8 234.9)" stroke="#222" stroke-width="0.16">LINE</text>
<rect x="389.55" y="34.58" width="9" height="182.52" fill="#9cc46c" stroke="#bbb" stroke-width="0.4"/>
<line x1="394.05" y1="226" x2="394.05" y2="228.5" stroke="#444" stroke-width="0.7"/>
<text x="399.25" y="234.9" font-size="7.6" fill="#111" text-anchor="end" transform="rotate(-45 399.25 234.9)" stroke="#222" stroke-width="0.16">LTR</text>
<rect x="402" y="216.16" width="9" height="0.94" fill="#d9d9d9" stroke="#bbb" stroke-width="0.4"/>
<line x1="406.5" y1="226" x2="406.5" y2="228.5" stroke="#444" stroke-width="0.7"/>
<text x="411.7" y="234.9" font-size="7.6" fill="#111" text-anchor="end" transform="rotate(-45 411.7 234.9)" stroke="#222" stroke-width="0.16">SINE</text>
<rect x="414.45" y="178.88" width="9" height="38.22" fill="#6268ae" stroke="#bbb" stroke-width="0.4"/>
<line x1="418.95" y1="226" x2="418.95" y2="228.5" stroke="#444" stroke-width="0.7"/>
<text x="424.15" y="234.9" font-size="7.6" fill="#111" text-anchor="end" transform="rotate(-45 424.15 234.9)" stroke="#222" stroke-width="0.16">DNA</text>
<rect x="426.9" y="208.52" width="9" height="8.58" fill="#f98b45" stroke="#bbb" stroke-width="0.4"/>
<line x1="431.4" y1="226" x2="431.4" y2="228.5" stroke="#444" stroke-width="0.7"/>
<text x="436.6" y="234.9" font-size="7.6" fill="#111" text-anchor="end" transform="rotate(-45 436.6 234.9)" stroke="#222" stroke-width="0.16">tandem_repeat</text>
<rect x="439.35" y="213.98" width="9" height="3.12" fill="#f7c6e4" stroke="#bbb" stroke-width="0.4"/>
<line x1="443.85" y1="226" x2="443.85" y2="228.5" stroke="#444" stroke-width="0.7"/>
<text x="449.05" y="234.9" font-size="7.6" fill="#111" text-anchor="end" transform="rotate(-45 449.05 234.9)" stroke="#222" stroke-width="0.16">SSR</text>
<rect x="451.8" y="185.9" width="9" height="31.2" fill="#9b6428" stroke="#bbb" stroke-width="0.4"/>
<line x1="456.3" y1="226" x2="456.3" y2="228.5" stroke="#444" stroke-width="0.7"/>
<text x="461.5" y="234.9" font-size="7.6" fill="#111" text-anchor="end" transform="rotate(-45 461.5 234.9)" stroke="#222" stroke-width="0.16">Simple repeats</text>
<rect x="464.25" y="216.48" width="9" height="0.62" fill="#f7d08a" stroke="#bbb" stroke-width="0.4"/>
<line x1="468.75" y1="226" x2="468.75" y2="228.5" stroke="#444" stroke-width="0.7"/>
<text x="473.95" y="234.9" font-size="7.6" fill="#111" text-anchor="end" transform="rotate(-45 473.95 234.9)" stroke="#222" stroke-width="0.16">Low complexity</text>
<rect x="476.7" y="131.3" width="9" height="85.8" fill="#d88aa2" stroke="#bbb" stroke-width="0.4"/>
<line x1="481.2" y1="226" x2="481.2" y2="228.5" stroke="#444" stroke-width="0.7"/>
<text x="486.4" y="234.9" font-size="7.6" fill="#111" text-anchor="end" transform="rotate(-45 486.4 234.9)" stroke="#222" stroke-width="0.16">Other</text>
<rect x="489.15" y="191.36" width="9" height="25.74" fill="#92dccf" stroke="#bbb" stroke-width="0.4"/>
<line x1="493.65" y1="226" x2="493.65" y2="228.5" stroke="#444" stroke-width="0.7"/>
<text x="498.85" y="234.9" font-size="7.6" fill="#111" text-anchor="end" transform="rotate(-45 498.85 234.9)" stroke="#222" stroke-width="0.16">Unknown</text>
<path d="M377.1 161.6H386.1M377.1 167.2H386.1M377.1 174.6H386.1M377.1 209.3H386.1M377.1 212.4H386.1" stroke="#b8b8b8" stroke-width="0.5" fill="none"/>
<path d="M389.55 174.1H398.55M389.55 208.8H398.55" stroke="#b8b8b8" stroke-width="0.5" fill="none"/>
<path d="M414.45 188H423.45M414.45 190.7H423.45M414.45 193.5H423.45M414.45 196.3H423.45M414.45 200.4H423.45M414.45 204.6H423.45M414.45 214.3H423.45" stroke="#b8b8b8" stroke-width="0.5" fill="none"/>
<line x1="371.6" y1="217.1" x2="374.1" y2="217.1" stroke="#444" stroke-width="0.7"/>
<text x="369.2" y="217.1" font-size="8.5" fill="#333" text-anchor="end" dominant-baseline="central" stroke="#333" stroke-width="0.16">0</text>
<line x1="371.6" y1="170.3" x2="374.1" y2="170.3" stroke="#444" stroke-width="0.7"/>
<text x="369.2" y="170.3" font-size="8.5" fill="#333" text-anchor="end" dominant-baseline="central" stroke="#333" stroke-width="0.16">3</text>
<line x1="371.6" y1="123.5" x2="374.1" y2="123.5" stroke="#444" stroke-width="0.7"/>
<text x="369.2" y="123.5" font-size="8.5" fill="#333" text-anchor="end" dominant-baseline="central" stroke="#333" stroke-width="0.16">6</text>
<line x1="371.6" y1="76.7" x2="374.1" y2="76.7" stroke="#444" stroke-width="0.7"/>
<text x="369.2" y="76.7" font-size="8.5" fill="#333" text-anchor="end" dominant-baseline="central" stroke="#333" stroke-width="0.16">9</text>
<line x1="371.6" y1="29.9" x2="374.1" y2="29.9" stroke="#444" stroke-width="0.7"/>
<text x="369.2" y="29.9" font-size="8.5" fill="#333" text-anchor="end" dominant-baseline="central" stroke="#333" stroke-width="0.16">12</text>
<text x="0" y="0" font-size="10" fill="#111" text-anchor="middle" transform="translate(354.9 117) rotate(-90)" stroke="#111" stroke-width="0.16">Ratio (%)</text>
<rect x="517.2" y="25.2" width="16.2" height="16.6" fill="#74b4d8" stroke="#b0b0b0" stroke-width="0.6"/>
<text x="540" y="34.8" font-size="8" fill="#111" dominant-baseline="central" stroke="#222" stroke-width="0.16">I−Jockey</text>
<rect x="517.2" y="41.8" width="16.2" height="16.6" fill="#74b4d8" stroke="#b0b0b0" stroke-width="0.6"/>
<text x="540" y="51.4" font-size="8" fill="#111" dominant-baseline="central" stroke="#222" stroke-width="0.16">L2</text>
<rect x="517.2" y="58.4" width="16.2" height="16.6" fill="#74b4d8" stroke="#b0b0b0" stroke-width="0.6"/>
<text x="540" y="68" font-size="8" fill="#111" dominant-baseline="central" stroke="#222" stroke-width="0.16">I</text>
<rect x="517.2" y="75" width="16.2" height="16.6" fill="#74b4d8" stroke="#b0b0b0" stroke-width="0.6"/>
<text x="540" y="84.6" font-size="8" fill="#111" dominant-baseline="central" stroke="#222" stroke-width="0.16">CR1</text>
<rect x="517.2" y="91.6" width="16.2" height="16.6" fill="#74b4d8" stroke="#b0b0b0" stroke-width="0.6"/>
<text x="540" y="101.2" font-size="8" fill="#111" dominant-baseline="central" stroke="#222" stroke-width="0.16">R1</text>
<rect x="517.2" y="108.2" width="16.2" height="16.6" fill="#74b4d8" stroke="#b0b0b0" stroke-width="0.6"/>
<text x="540" y="117.8" font-size="8" fill="#111" dominant-baseline="central" stroke="#222" stroke-width="0.16">R1−LOA</text>
<rect x="517.2" y="124.8" width="16.2" height="16.6" fill="#74b4d8" stroke="#b0b0b0" stroke-width="0.6"/>
<text x="540" y="134.4" font-size="8" fill="#111" dominant-baseline="central" stroke="#222" stroke-width="0.16">R2</text>
<rect x="517.2" y="141.4" width="16.2" height="16.6" fill="#9cc46c" stroke="#b0b0b0" stroke-width="0.6"/>
<text x="540" y="151" font-size="8" fill="#111" dominant-baseline="central" stroke="#222" stroke-width="0.16">Gypsy</text>
<rect x="517.2" y="158" width="16.2" height="16.6" fill="#9cc46c" stroke="#b0b0b0" stroke-width="0.6"/>
<text x="540" y="167.6" font-size="8" fill="#111" dominant-baseline="central" stroke="#222" stroke-width="0.16">Pao</text>
<rect x="517.2" y="174.6" width="16.2" height="16.6" fill="#9cc46c" stroke="#b0b0b0" stroke-width="0.6"/>
<text x="540" y="184.2" font-size="8" fill="#111" dominant-baseline="central" stroke="#222" stroke-width="0.16">Copia</text>
<rect x="517.2" y="191.2" width="16.2" height="16.6" fill="#d9d9d9" stroke="#b0b0b0" stroke-width="0.6"/>
<text x="540" y="200.8" font-size="8" fill="#111" dominant-baseline="central" stroke="#222" stroke-width="0.16">SINE</text>
<rect x="517.2" y="207.8" width="16.2" height="16.6" fill="#6268ae" stroke="#b0b0b0" stroke-width="0.6"/>
<text x="540" y="217.4" font-size="8" fill="#111" dominant-baseline="central" stroke="#222" stroke-width="0.16">Helitron</text>
<rect x="517.2" y="224.4" width="16.2" height="16.6" fill="#6268ae" stroke="#b0b0b0" stroke-width="0.6"/>
<text x="540" y="234" font-size="8" fill="#111" dominant-baseline="central" stroke="#222" stroke-width="0.16">CMC−Transib</text>
<rect x="597" y="25.2" width="16.2" height="16.6" fill="#6268ae" stroke="#b0b0b0" stroke-width="0.6"/>
<text x="618.8" y="34.8" font-size="8" fill="#111" dominant-baseline="central" stroke="#222" stroke-width="0.16">CMC−EnSpm</text>
<rect x="597" y="41.8" width="16.2" height="16.6" fill="#6268ae" stroke="#b0b0b0" stroke-width="0.6"/>
<text x="618.8" y="51.4" font-size="8" fill="#111" dominant-baseline="central" stroke="#222" stroke-width="0.16">Maverick</text>
<rect x="597" y="58.4" width="16.2" height="16.6" fill="#6268ae" stroke="#b0b0b0" stroke-width="0.6"/>
<text x="618.8" y="68" font-size="8" fill="#111" dominant-baseline="central" stroke="#222" stroke-width="0.16">hAT−Ac</text>
<rect x="597" y="75" width="16.2" height="16.6" fill="#6268ae" stroke="#b0b0b0" stroke-width="0.6"/>
<text x="618.8" y="84.6" font-size="8" fill="#111" dominant-baseline="central" stroke="#222" stroke-width="0.16">TcMar−Tc1</text>
<rect x="597" y="91.6" width="16.2" height="16.6" fill="#6268ae" stroke="#b0b0b0" stroke-width="0.6"/>
<text x="618.8" y="101.2" font-size="8" fill="#111" dominant-baseline="central" stroke="#222" stroke-width="0.16">P</text>
<rect x="597" y="108.2" width="16.2" height="16.6" fill="#6268ae" stroke="#b0b0b0" stroke-width="0.6"/>
<text x="618.8" y="117.8" font-size="8" fill="#111" dominant-baseline="central" stroke="#222" stroke-width="0.16">MITE</text>
<rect x="597" y="124.8" width="16.2" height="16.6" fill="#f98b45" stroke="#b0b0b0" stroke-width="0.6"/>
<text x="618.8" y="134.4" font-size="8" fill="#111" dominant-baseline="central" stroke="#222" stroke-width="0.16">tandem_repeat</text>
<rect x="597" y="141.4" width="16.2" height="16.6" fill="#f7c6e4" stroke="#b0b0b0" stroke-width="0.6"/>
<text x="618.8" y="151" font-size="8" fill="#111" dominant-baseline="central" stroke="#222" stroke-width="0.16">SSR</text>
<rect x="597" y="158" width="16.2" height="16.6" fill="#9b6428" stroke="#b0b0b0" stroke-width="0.6"/>
<text x="618.8" y="167.6" font-size="8" fill="#111" dominant-baseline="central" stroke="#222" stroke-width="0.16">Simple repeats</text>
<rect x="597" y="174.6" width="16.2" height="16.6" fill="#f7d08a" stroke="#b0b0b0" stroke-width="0.6"/>
<text x="618.8" y="184.2" font-size="8" fill="#111" dominant-baseline="central" stroke="#222" stroke-width="0.16">Low complexity</text>
<rect x="597" y="191.2" width="16.2" height="16.6" fill="#d88aa2" stroke="#b0b0b0" stroke-width="0.6"/>
<text x="618.8" y="200.8" font-size="8" fill="#111" dominant-baseline="central" stroke="#222" stroke-width="0.16">Other</text>
<rect x="597" y="207.8" width="16.2" height="16.6" fill="#92dccf" stroke="#b0b0b0" stroke-width="0.6"/>
<text x="618.8" y="217.4" font-size="8" fill="#111" dominant-baseline="central" stroke="#222" stroke-width="0.16">Unknown</text>
<text x="325.5" y="274.0" font-size="13.5" font-weight="bold" fill="#111" stroke="#111" stroke-width="0.16">d</text>
<rect x="373.6" y="288.9" width="310.8" height="198.6" fill="none" stroke="#222" stroke-width="1.1"/>
<text x="369.3" y="479.1" font-size="8.2" fill="#111" text-anchor="end" dominant-baseline="central" stroke="#222" stroke-width="0.16">0</text>
<text x="369.3" y="435.3" font-size="8.2" fill="#111" text-anchor="end" dominant-baseline="central" stroke="#222" stroke-width="0.16">40</text>
<text x="369.3" y="391.5" font-size="8.2" fill="#111" text-anchor="end" dominant-baseline="central" stroke="#222" stroke-width="0.16">80</text>
<text x="369.3" y="347.7" font-size="8.2" fill="#111" text-anchor="end" dominant-baseline="central" stroke="#222" stroke-width="0.16">120</text>
<text x="369.3" y="303.9" font-size="8.2" fill="#111" text-anchor="end" dominant-baseline="central" stroke="#222" stroke-width="0.16">160</text>
<text x="0" y="0" font-size="10" fill="#111" text-anchor="middle" transform="translate(351.6 387.7) rotate(-90)" stroke="#111" stroke-width="0.16">Genome Size (Mb)</text>
<polyline points="399.4,343.6 442.6,342.7 485.8,340 529,338 572.2,330.8 615.4,317.9 658.6,300" fill="none" stroke="#b9454f" stroke-width="2.1" stroke-opacity="0.85" stroke-linejoin="round"/>
<polyline points="399.4,351.86 442.6,343.76 485.8,351.2 529,349.45 572.2,326.35 615.4,321.75 658.6,302.12" fill="none" stroke="#4d6aa9" stroke-width="2.2" stroke-opacity="0.85" stroke-linejoin="round"/>
<circle cx="399.4" cy="351.86" r="3.6" fill="#4d6aa9" fill-opacity="0.9"/>
<circle cx="442.6" cy="343.76" r="3.6" fill="#4d6aa9" fill-opacity="0.9"/>
<circle cx="485.8" cy="351.2" r="3.6" fill="#4d6aa9" fill-opacity="0.9"/>
<circle cx="529" cy="349.45" r="3.6" fill="#4d6aa9" fill-opacity="0.9"/>
<circle cx="572.2" cy="326.35" r="3.6" fill="#4d6aa9" fill-opacity="0.9"/>
<circle cx="615.4" cy="321.75" r="3.6" fill="#4d6aa9" fill-opacity="0.9"/>
<circle cx="658.6" cy="302.12" r="3.6" fill="#4d6aa9" fill-opacity="0.9"/>
<circle cx="399.4" cy="343.6" r="3.6" fill="#b9454f" fill-opacity="0.8"/>
<circle cx="442.6" cy="342.7" r="3.6" fill="#b9454f" fill-opacity="0.8"/>
<circle cx="485.8" cy="340" r="3.6" fill="#b9454f" fill-opacity="0.8"/>
<circle cx="529" cy="338" r="3.6" fill="#b9454f" fill-opacity="0.8"/>
<circle cx="572.2" cy="330.8" r="3.6" fill="#b9454f" fill-opacity="0.8"/>
<circle cx="615.4" cy="317.9" r="3.6" fill="#b9454f" fill-opacity="0.8"/>
<circle cx="658.6" cy="300" r="3.6" fill="#b9454f" fill-opacity="0.8"/>
<text x="401.4" y="325.8" font-size="6" fill="#b33a45" text-anchor="middle" dominant-baseline="central" stroke="#b33a45" stroke-width="0.156">2000.3</text>
<text x="448.8" y="333.4" font-size="6" fill="#b33a45" text-anchor="middle" dominant-baseline="central" stroke="#b33a45" stroke-width="0.156">2000.10</text>
<text x="485.8" y="326.6" font-size="6" fill="#b33a45" text-anchor="middle" dominant-baseline="central" stroke="#b33a45" stroke-width="0.156">2002</text>
<text x="507.5" y="311.9" font-size="6" fill="#b33a45" text-anchor="middle" dominant-baseline="central" stroke="#b33a45" stroke-width="0.156">2003</text>
<text x="581.8" y="343.9" font-size="6" fill="#b33a45" text-anchor="middle" dominant-baseline="central" stroke="#b33a45" stroke-width="0.156">2007</text>
<text x="610.8" y="308.3" font-size="6" fill="#b33a45" text-anchor="middle" dominant-baseline="central" stroke="#b33a45" stroke-width="0.156">2014</text>
<text x="634.1" y="298.7" font-size="6" fill="#b33a45" text-anchor="middle" dominant-baseline="central" stroke="#b33a45" stroke-width="0.156">2024</text>
<text x="420" y="366.8" font-size="6" fill="#3c5aa0" text-anchor="middle" dominant-baseline="central" stroke="#3c5aa0" stroke-width="0.156">116.2</text>
<text x="455.6" y="355" font-size="6" fill="#3c5aa0" text-anchor="middle" dominant-baseline="central" stroke="#3c5aa0" stroke-width="0.156">123.6</text>
<text x="495" y="365.5" font-size="6" fill="#3c5aa0" text-anchor="middle" dominant-baseline="central" stroke="#3c5aa0" stroke-width="0.156">116.8</text>
<text x="526.4" y="359.8" font-size="6" fill="#3c5aa0" text-anchor="middle" dominant-baseline="central" stroke="#3c5aa0" stroke-width="0.156">118.4</text>
<text x="559.9" y="314.9" font-size="6" fill="#3c5aa0" text-anchor="middle" dominant-baseline="central" stroke="#3c5aa0" stroke-width="0.156">139.5</text>
<text x="632.3" y="331" font-size="6" fill="#3c5aa0" text-anchor="middle" dominant-baseline="central" stroke="#3c5aa0" stroke-width="0.156">143.7</text>
<text x="657.2" y="317" font-size="6" fill="#3c5aa0" text-anchor="middle" dominant-baseline="central" stroke="#3c5aa0" stroke-width="0.156">161.63</text>
<text x="395.2" y="496.5" font-size="6.9" fill="#444" text-anchor="middle" dominant-baseline="central" stroke="#444" stroke-width="0.16">Release 1</text>
<text x="438.4" y="496.5" font-size="6.9" fill="#444" text-anchor="middle" dominant-baseline="central" stroke="#444" stroke-width="0.16">Release 2</text>
<text x="481.6" y="496.5" font-size="6.9" fill="#444" text-anchor="middle" dominant-baseline="central" stroke="#444" stroke-width="0.16">Release 3</text>
<text x="524.8" y="496.5" font-size="6.9" fill="#444" text-anchor="middle" dominant-baseline="central" stroke="#444" stroke-width="0.16">Release 4</text>
<text x="568" y="496.5" font-size="6.9" fill="#444" text-anchor="middle" dominant-baseline="central" stroke="#444" stroke-width="0.16">Release 5</text>
<text x="611.2" y="496.5" font-size="6.9" fill="#444" text-anchor="middle" dominant-baseline="central" stroke="#444" stroke-width="0.16">Release 6</text>
<text x="654.4" y="496.5" font-size="6.9" fill="#444" text-anchor="middle" dominant-baseline="central" stroke="#444" stroke-width="0.16">Dm.nT2T</text>
<line x1="608.2" y1="453.2" x2="620.4" y2="453.2" stroke="#4d6aa9" stroke-width="2.2"/>
<circle cx="614.1" cy="453.2" r="3.4" fill="#4d6aa9"/>
<text x="626.6" y="453.2" font-size="8" fill="#111" dominant-baseline="central" stroke="#111" stroke-width="0.16">Genome Size</text>
<line x1="608.2" y1="471.9" x2="620.4" y2="471.9" stroke="#b9454f" stroke-width="2.2"/>
<circle cx="614.1" cy="471.9" r="3.4" fill="#b9454f"/>
<text x="626.6" y="471.9" font-size="8" fill="#111" dominant-baseline="central" stroke="#111" stroke-width="0.16">Release Date</text>
</svg></body></html>
